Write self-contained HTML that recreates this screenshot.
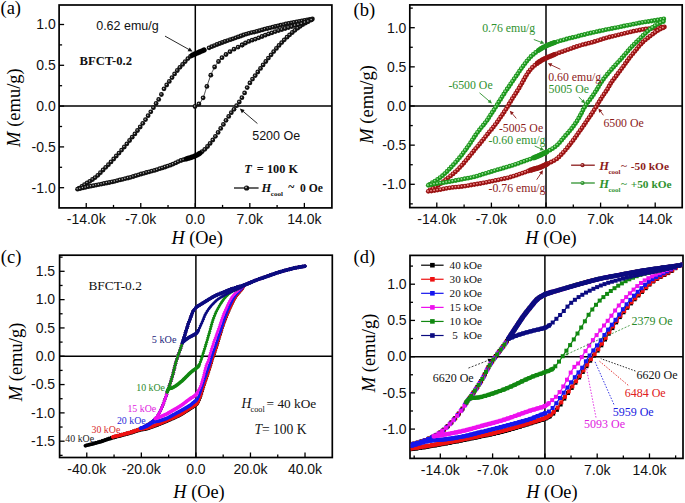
<!DOCTYPE html>
<html><head><meta charset="utf-8"><style>
html,body{margin:0;padding:0;background:#fff;}
svg{display:block;}
</style></head><body>
<svg width="685" height="503" viewBox="0 0 685 503">
<rect width="685" height="503" fill="#fff"/>
<defs><marker id="ring111bbb" markerUnits="userSpaceOnUse" markerWidth="6" markerHeight="6" refX="3.0" refY="3.0" overflow="visible" orient="0"><circle cx="3" cy="3" r="2.4" fill="#111"/><circle cx="2.6" cy="2.6" r="0.75" fill="#bbb"/></marker><marker id="ring9a1212f09090" markerUnits="userSpaceOnUse" markerWidth="6" markerHeight="6" refX="3.0" refY="3.0" overflow="visible" orient="0"><circle cx="3" cy="3" r="2.4" fill="#9a1212"/><circle cx="2.6" cy="2.6" r="0.9" fill="#f09090"/></marker><marker id="ring1c961c9ae09a" markerUnits="userSpaceOnUse" markerWidth="6" markerHeight="6" refX="3.0" refY="3.0" overflow="visible" orient="0"><circle cx="3" cy="3" r="2.4" fill="#1c961c"/><circle cx="2.6" cy="2.6" r="0.9" fill="#9ae09a"/></marker><marker id="dm000000" markerUnits="userSpaceOnUse" markerWidth="6" markerHeight="6" refX="3.0" refY="3.0" overflow="visible" orient="0"><path d="M3 1.15l1.85 1.85l-1.85 1.85l-1.85-1.85z" fill="#000000"/></marker><marker id="dmee1111" markerUnits="userSpaceOnUse" markerWidth="6" markerHeight="6" refX="3.0" refY="3.0" overflow="visible" orient="0"><path d="M3 1.15l1.85 1.85l-1.85 1.85l-1.85-1.85z" fill="#ee1111"/></marker><marker id="dm1515ee" markerUnits="userSpaceOnUse" markerWidth="6" markerHeight="6" refX="3.0" refY="3.0" overflow="visible" orient="0"><path d="M3 1.15l1.85 1.85l-1.85 1.85l-1.85-1.85z" fill="#1515ee"/></marker><marker id="dmee11ee" markerUnits="userSpaceOnUse" markerWidth="6" markerHeight="6" refX="3.0" refY="3.0" overflow="visible" orient="0"><path d="M3 1.15l1.85 1.85l-1.85 1.85l-1.85-1.85z" fill="#ee11ee"/></marker><marker id="dm118811" markerUnits="userSpaceOnUse" markerWidth="6" markerHeight="6" refX="3.0" refY="3.0" overflow="visible" orient="0"><path d="M3 1.15l1.85 1.85l-1.85 1.85l-1.85-1.85z" fill="#118811"/></marker><marker id="dm0b0b80" markerUnits="userSpaceOnUse" markerWidth="6" markerHeight="6" refX="3.0" refY="3.0" overflow="visible" orient="0"><path d="M3 1.15l1.85 1.85l-1.85 1.85l-1.85-1.85z" fill="#0b0b80"/></marker><marker id="sq000000" markerUnits="userSpaceOnUse" markerWidth="6" markerHeight="6" refX="3.0" refY="3.0" overflow="visible" orient="0"><rect x="1.0" y="1.0" width="4.0" height="4.0" fill="#000000"/></marker><marker id="sqee1111" markerUnits="userSpaceOnUse" markerWidth="6" markerHeight="6" refX="3.0" refY="3.0" overflow="visible" orient="0"><rect x="1.0" y="1.0" width="4.0" height="4.0" fill="#ee1111"/></marker><marker id="sq1515ee" markerUnits="userSpaceOnUse" markerWidth="6" markerHeight="6" refX="3.0" refY="3.0" overflow="visible" orient="0"><rect x="1.0" y="1.0" width="4.0" height="4.0" fill="#1515ee"/></marker><marker id="sqee11ee" markerUnits="userSpaceOnUse" markerWidth="6" markerHeight="6" refX="3.0" refY="3.0" overflow="visible" orient="0"><rect x="1.0" y="1.0" width="4.0" height="4.0" fill="#ee11ee"/></marker><marker id="sq118811" markerUnits="userSpaceOnUse" markerWidth="6" markerHeight="6" refX="3.0" refY="3.0" overflow="visible" orient="0"><rect x="1.0" y="1.0" width="4.0" height="4.0" fill="#118811"/></marker><marker id="sq0b0b80" markerUnits="userSpaceOnUse" markerWidth="6" markerHeight="6" refX="3.0" refY="3.0" overflow="visible" orient="0"><rect x="1.0" y="1.0" width="4.0" height="4.0" fill="#0b0b80"/></marker></defs>
<line x1="195.3" y1="5.0" x2="195.3" y2="207.9" stroke="#000" stroke-width="1.5" />
<line x1="59.1" y1="106.1" x2="331.9" y2="106.1" stroke="#000" stroke-width="1.5" />
<line x1="86.24000000000001" y1="207.9" x2="86.24000000000001" y2="202.9" stroke="#000" stroke-width="1.3" />
<line x1="140.77" y1="207.9" x2="140.77" y2="202.9" stroke="#000" stroke-width="1.3" />
<line x1="195.3" y1="207.9" x2="195.3" y2="202.9" stroke="#000" stroke-width="1.3" />
<line x1="249.83" y1="207.9" x2="249.83" y2="202.9" stroke="#000" stroke-width="1.3" />
<line x1="304.36" y1="207.9" x2="304.36" y2="202.9" stroke="#000" stroke-width="1.3" />
<line x1="113.50500000000001" y1="207.9" x2="113.50500000000001" y2="204.9" stroke="#000" stroke-width="1.3" />
<line x1="168.03500000000003" y1="207.9" x2="168.03500000000003" y2="204.9" stroke="#000" stroke-width="1.3" />
<line x1="222.565" y1="207.9" x2="222.565" y2="204.9" stroke="#000" stroke-width="1.3" />
<line x1="277.095" y1="207.9" x2="277.095" y2="204.9" stroke="#000" stroke-width="1.3" />
<line x1="59.1" y1="187.7" x2="64.1" y2="187.7" stroke="#000" stroke-width="1.3" />
<line x1="59.1" y1="146.89999999999998" x2="64.1" y2="146.89999999999998" stroke="#000" stroke-width="1.3" />
<line x1="59.1" y1="106.1" x2="64.1" y2="106.1" stroke="#000" stroke-width="1.3" />
<line x1="59.1" y1="65.3" x2="64.1" y2="65.3" stroke="#000" stroke-width="1.3" />
<line x1="59.1" y1="24.5" x2="64.1" y2="24.5" stroke="#000" stroke-width="1.3" />
<line x1="59.1" y1="167.29999999999998" x2="62.1" y2="167.29999999999998" stroke="#000" stroke-width="1.3" />
<line x1="59.1" y1="126.5" x2="62.1" y2="126.5" stroke="#000" stroke-width="1.3" />
<line x1="59.1" y1="85.69999999999999" x2="62.1" y2="85.69999999999999" stroke="#000" stroke-width="1.3" />
<line x1="59.1" y1="44.9" x2="62.1" y2="44.9" stroke="#000" stroke-width="1.3" />
<rect x="59.1" y="5.0" width="272.79999999999995" height="202.9" fill="none" stroke="#000" stroke-width="1.7"/>
<text x="86.2" y="223.9" font-family='"Liberation Sans", sans-serif' font-size="14" text-anchor="middle" font-weight="normal" font-style="normal" fill="#111" >-14.0k</text>
<text x="140.8" y="223.9" font-family='"Liberation Sans", sans-serif' font-size="14" text-anchor="middle" font-weight="normal" font-style="normal" fill="#111" >-7.0k</text>
<text x="195.3" y="223.9" font-family='"Liberation Sans", sans-serif' font-size="14" text-anchor="middle" font-weight="normal" font-style="normal" fill="#111" >0.0</text>
<text x="249.8" y="223.9" font-family='"Liberation Sans", sans-serif' font-size="14" text-anchor="middle" font-weight="normal" font-style="normal" fill="#111" >7.0k</text>
<text x="304.4" y="223.9" font-family='"Liberation Sans", sans-serif' font-size="14" text-anchor="middle" font-weight="normal" font-style="normal" fill="#111" >14.0k</text>
<text x="55.7" y="29.3" font-family='"Liberation Sans", sans-serif' font-size="14" text-anchor="end" font-weight="normal" font-style="normal" fill="#111" >1.0</text>
<text x="55.7" y="70.1" font-family='"Liberation Sans", sans-serif' font-size="14" text-anchor="end" font-weight="normal" font-style="normal" fill="#111" >0.5</text>
<text x="55.7" y="110.9" font-family='"Liberation Sans", sans-serif' font-size="14" text-anchor="end" font-weight="normal" font-style="normal" fill="#111" >0.0</text>
<text x="55.7" y="151.7" font-family='"Liberation Sans", sans-serif' font-size="14" text-anchor="end" font-weight="normal" font-style="normal" fill="#111" >-0.5</text>
<text x="55.7" y="192.5" font-family='"Liberation Sans", sans-serif' font-size="14" text-anchor="end" font-weight="normal" font-style="normal" fill="#111" >-1.0</text>
<line x1="546.0" y1="4.9" x2="546.0" y2="207.6" stroke="#000" stroke-width="1.5" />
<line x1="409.8" y1="106.0" x2="682.2" y2="106.0" stroke="#000" stroke-width="1.5" />
<line x1="436.8" y1="207.6" x2="436.8" y2="202.6" stroke="#000" stroke-width="1.3" />
<line x1="491.4" y1="207.6" x2="491.4" y2="202.6" stroke="#000" stroke-width="1.3" />
<line x1="546.0" y1="207.6" x2="546.0" y2="202.6" stroke="#000" stroke-width="1.3" />
<line x1="600.6" y1="207.6" x2="600.6" y2="202.6" stroke="#000" stroke-width="1.3" />
<line x1="655.2" y1="207.6" x2="655.2" y2="202.6" stroke="#000" stroke-width="1.3" />
<line x1="464.1" y1="207.6" x2="464.1" y2="204.6" stroke="#000" stroke-width="1.3" />
<line x1="518.7" y1="207.6" x2="518.7" y2="204.6" stroke="#000" stroke-width="1.3" />
<line x1="573.3" y1="207.6" x2="573.3" y2="204.6" stroke="#000" stroke-width="1.3" />
<line x1="627.9" y1="207.6" x2="627.9" y2="204.6" stroke="#000" stroke-width="1.3" />
<line x1="409.8" y1="184.3" x2="414.8" y2="184.3" stroke="#000" stroke-width="1.3" />
<line x1="409.8" y1="145.15" x2="414.8" y2="145.15" stroke="#000" stroke-width="1.3" />
<line x1="409.8" y1="106.0" x2="414.8" y2="106.0" stroke="#000" stroke-width="1.3" />
<line x1="409.8" y1="66.85" x2="414.8" y2="66.85" stroke="#000" stroke-width="1.3" />
<line x1="409.8" y1="27.700000000000003" x2="414.8" y2="27.700000000000003" stroke="#000" stroke-width="1.3" />
<line x1="409.8" y1="203.875" x2="412.8" y2="203.875" stroke="#000" stroke-width="1.3" />
<line x1="409.8" y1="164.725" x2="412.8" y2="164.725" stroke="#000" stroke-width="1.3" />
<line x1="409.8" y1="125.575" x2="412.8" y2="125.575" stroke="#000" stroke-width="1.3" />
<line x1="409.8" y1="86.425" x2="412.8" y2="86.425" stroke="#000" stroke-width="1.3" />
<line x1="409.8" y1="47.275000000000006" x2="412.8" y2="47.275000000000006" stroke="#000" stroke-width="1.3" />
<line x1="409.8" y1="8.125" x2="412.8" y2="8.125" stroke="#000" stroke-width="1.3" />
<rect x="409.8" y="4.9" width="272.40000000000003" height="202.7" fill="none" stroke="#000" stroke-width="1.7"/>
<text x="436.8" y="223.6" font-family='"Liberation Sans", sans-serif' font-size="14" text-anchor="middle" font-weight="normal" font-style="normal" fill="#111" >-14.0k</text>
<text x="491.4" y="223.6" font-family='"Liberation Sans", sans-serif' font-size="14" text-anchor="middle" font-weight="normal" font-style="normal" fill="#111" >-7.0k</text>
<text x="546.0" y="223.6" font-family='"Liberation Sans", sans-serif' font-size="14" text-anchor="middle" font-weight="normal" font-style="normal" fill="#111" >0.0</text>
<text x="600.6" y="223.6" font-family='"Liberation Sans", sans-serif' font-size="14" text-anchor="middle" font-weight="normal" font-style="normal" fill="#111" >7.0k</text>
<text x="655.2" y="223.6" font-family='"Liberation Sans", sans-serif' font-size="14" text-anchor="middle" font-weight="normal" font-style="normal" fill="#111" >14.0k</text>
<text x="406.40000000000003" y="32.5" font-family='"Liberation Sans", sans-serif' font-size="14" text-anchor="end" font-weight="normal" font-style="normal" fill="#111" >1.0</text>
<text x="406.40000000000003" y="71.6" font-family='"Liberation Sans", sans-serif' font-size="14" text-anchor="end" font-weight="normal" font-style="normal" fill="#111" >0.5</text>
<text x="406.40000000000003" y="110.8" font-family='"Liberation Sans", sans-serif' font-size="14" text-anchor="end" font-weight="normal" font-style="normal" fill="#111" >0.0</text>
<text x="406.40000000000003" y="150.0" font-family='"Liberation Sans", sans-serif' font-size="14" text-anchor="end" font-weight="normal" font-style="normal" fill="#111" >-0.5</text>
<text x="406.40000000000003" y="189.1" font-family='"Liberation Sans", sans-serif' font-size="14" text-anchor="end" font-weight="normal" font-style="normal" fill="#111" >-1.0</text>
<line x1="195.9" y1="255.2" x2="195.9" y2="457.5" stroke="#000" stroke-width="1.5" />
<line x1="59.6" y1="356.25" x2="332.3" y2="356.25" stroke="#000" stroke-width="1.5" />
<line x1="86.78" y1="457.5" x2="86.78" y2="452.5" stroke="#000" stroke-width="1.3" />
<line x1="141.34" y1="457.5" x2="141.34" y2="452.5" stroke="#000" stroke-width="1.3" />
<line x1="195.9" y1="457.5" x2="195.9" y2="452.5" stroke="#000" stroke-width="1.3" />
<line x1="250.46" y1="457.5" x2="250.46" y2="452.5" stroke="#000" stroke-width="1.3" />
<line x1="305.02" y1="457.5" x2="305.02" y2="452.5" stroke="#000" stroke-width="1.3" />
<line x1="114.06" y1="457.5" x2="114.06" y2="454.5" stroke="#000" stroke-width="1.3" />
<line x1="168.62" y1="457.5" x2="168.62" y2="454.5" stroke="#000" stroke-width="1.3" />
<line x1="223.18" y1="457.5" x2="223.18" y2="454.5" stroke="#000" stroke-width="1.3" />
<line x1="277.74" y1="457.5" x2="277.74" y2="454.5" stroke="#000" stroke-width="1.3" />
<line x1="59.6" y1="441.195" x2="64.6" y2="441.195" stroke="#000" stroke-width="1.3" />
<line x1="59.6" y1="412.88" x2="64.6" y2="412.88" stroke="#000" stroke-width="1.3" />
<line x1="59.6" y1="384.565" x2="64.6" y2="384.565" stroke="#000" stroke-width="1.3" />
<line x1="59.6" y1="356.25" x2="64.6" y2="356.25" stroke="#000" stroke-width="1.3" />
<line x1="59.6" y1="327.935" x2="64.6" y2="327.935" stroke="#000" stroke-width="1.3" />
<line x1="59.6" y1="299.62" x2="64.6" y2="299.62" stroke="#000" stroke-width="1.3" />
<line x1="59.6" y1="271.305" x2="64.6" y2="271.305" stroke="#000" stroke-width="1.3" />
<line x1="59.6" y1="455.3525" x2="62.6" y2="455.3525" stroke="#000" stroke-width="1.3" />
<line x1="59.6" y1="427.0375" x2="62.6" y2="427.0375" stroke="#000" stroke-width="1.3" />
<line x1="59.6" y1="398.7225" x2="62.6" y2="398.7225" stroke="#000" stroke-width="1.3" />
<line x1="59.6" y1="370.4075" x2="62.6" y2="370.4075" stroke="#000" stroke-width="1.3" />
<line x1="59.6" y1="342.0925" x2="62.6" y2="342.0925" stroke="#000" stroke-width="1.3" />
<line x1="59.6" y1="313.7775" x2="62.6" y2="313.7775" stroke="#000" stroke-width="1.3" />
<line x1="59.6" y1="285.4625" x2="62.6" y2="285.4625" stroke="#000" stroke-width="1.3" />
<line x1="59.6" y1="257.1475" x2="62.6" y2="257.1475" stroke="#000" stroke-width="1.3" />
<rect x="59.6" y="255.2" width="272.7" height="202.3" fill="none" stroke="#000" stroke-width="1.7"/>
<text x="86.8" y="473.5" font-family='"Liberation Sans", sans-serif' font-size="14" text-anchor="middle" font-weight="normal" font-style="normal" fill="#111" >-40.0k</text>
<text x="141.3" y="473.5" font-family='"Liberation Sans", sans-serif' font-size="14" text-anchor="middle" font-weight="normal" font-style="normal" fill="#111" >-20.0k</text>
<text x="195.9" y="473.5" font-family='"Liberation Sans", sans-serif' font-size="14" text-anchor="middle" font-weight="normal" font-style="normal" fill="#111" >0.0</text>
<text x="250.5" y="473.5" font-family='"Liberation Sans", sans-serif' font-size="14" text-anchor="middle" font-weight="normal" font-style="normal" fill="#111" >20.0k</text>
<text x="305.0" y="473.5" font-family='"Liberation Sans", sans-serif' font-size="14" text-anchor="middle" font-weight="normal" font-style="normal" fill="#111" >40.0k</text>
<text x="55.1" y="276.1" font-family='"Liberation Sans", sans-serif' font-size="14" text-anchor="end" font-weight="normal" font-style="normal" fill="#111" >1.5</text>
<text x="55.1" y="304.4" font-family='"Liberation Sans", sans-serif' font-size="14" text-anchor="end" font-weight="normal" font-style="normal" fill="#111" >1.0</text>
<text x="55.1" y="332.7" font-family='"Liberation Sans", sans-serif' font-size="14" text-anchor="end" font-weight="normal" font-style="normal" fill="#111" >0.5</text>
<text x="55.1" y="361.1" font-family='"Liberation Sans", sans-serif' font-size="14" text-anchor="end" font-weight="normal" font-style="normal" fill="#111" >0.0</text>
<text x="55.1" y="389.4" font-family='"Liberation Sans", sans-serif' font-size="14" text-anchor="end" font-weight="normal" font-style="normal" fill="#111" >-0.5</text>
<text x="55.1" y="417.7" font-family='"Liberation Sans", sans-serif' font-size="14" text-anchor="end" font-weight="normal" font-style="normal" fill="#111" >-1.0</text>
<text x="55.1" y="446.0" font-family='"Liberation Sans", sans-serif' font-size="14" text-anchor="end" font-weight="normal" font-style="normal" fill="#111" >-1.5</text>
<line x1="544.9" y1="255.4" x2="544.9" y2="458.4" stroke="#000" stroke-width="1.5" />
<line x1="410.0" y1="356.65" x2="683.0" y2="356.65" stroke="#000" stroke-width="1.5" />
<line x1="440.32" y1="458.4" x2="440.32" y2="453.4" stroke="#000" stroke-width="1.3" />
<line x1="492.60999999999996" y1="458.4" x2="492.60999999999996" y2="453.4" stroke="#000" stroke-width="1.3" />
<line x1="544.9" y1="458.4" x2="544.9" y2="453.4" stroke="#000" stroke-width="1.3" />
<line x1="597.1899999999999" y1="458.4" x2="597.1899999999999" y2="453.4" stroke="#000" stroke-width="1.3" />
<line x1="649.48" y1="458.4" x2="649.48" y2="453.4" stroke="#000" stroke-width="1.3" />
<line x1="414.17499999999995" y1="458.4" x2="414.17499999999995" y2="455.4" stroke="#000" stroke-width="1.3" />
<line x1="466.465" y1="458.4" x2="466.465" y2="455.4" stroke="#000" stroke-width="1.3" />
<line x1="518.755" y1="458.4" x2="518.755" y2="455.4" stroke="#000" stroke-width="1.3" />
<line x1="571.045" y1="458.4" x2="571.045" y2="455.4" stroke="#000" stroke-width="1.3" />
<line x1="623.335" y1="458.4" x2="623.335" y2="455.4" stroke="#000" stroke-width="1.3" />
<line x1="675.625" y1="458.4" x2="675.625" y2="455.4" stroke="#000" stroke-width="1.3" />
<line x1="410.0" y1="429.09999999999997" x2="415.0" y2="429.09999999999997" stroke="#000" stroke-width="1.3" />
<line x1="410.0" y1="392.875" x2="415.0" y2="392.875" stroke="#000" stroke-width="1.3" />
<line x1="410.0" y1="356.65" x2="415.0" y2="356.65" stroke="#000" stroke-width="1.3" />
<line x1="410.0" y1="320.42499999999995" x2="415.0" y2="320.42499999999995" stroke="#000" stroke-width="1.3" />
<line x1="410.0" y1="284.2" x2="415.0" y2="284.2" stroke="#000" stroke-width="1.3" />
<line x1="410.0" y1="447.2125" x2="413.0" y2="447.2125" stroke="#000" stroke-width="1.3" />
<line x1="410.0" y1="410.98749999999995" x2="413.0" y2="410.98749999999995" stroke="#000" stroke-width="1.3" />
<line x1="410.0" y1="374.7625" x2="413.0" y2="374.7625" stroke="#000" stroke-width="1.3" />
<line x1="410.0" y1="338.53749999999997" x2="413.0" y2="338.53749999999997" stroke="#000" stroke-width="1.3" />
<line x1="410.0" y1="302.3125" x2="413.0" y2="302.3125" stroke="#000" stroke-width="1.3" />
<line x1="410.0" y1="266.0875" x2="413.0" y2="266.0875" stroke="#000" stroke-width="1.3" />
<rect x="410.0" y="255.4" width="273.0" height="202.99999999999997" fill="none" stroke="#000" stroke-width="1.7"/>
<text x="440.3" y="474.9" font-family='"Liberation Sans", sans-serif' font-size="14" text-anchor="middle" font-weight="normal" font-style="normal" fill="#111" >-14.0k</text>
<text x="492.6" y="474.9" font-family='"Liberation Sans", sans-serif' font-size="14" text-anchor="middle" font-weight="normal" font-style="normal" fill="#111" >-7.0k</text>
<text x="544.9" y="474.9" font-family='"Liberation Sans", sans-serif' font-size="14" text-anchor="middle" font-weight="normal" font-style="normal" fill="#111" >0.0</text>
<text x="597.2" y="474.9" font-family='"Liberation Sans", sans-serif' font-size="14" text-anchor="middle" font-weight="normal" font-style="normal" fill="#111" >7.0k</text>
<text x="649.5" y="474.9" font-family='"Liberation Sans", sans-serif' font-size="14" text-anchor="middle" font-weight="normal" font-style="normal" fill="#111" >14.0k</text>
<text x="406.6" y="289.0" font-family='"Liberation Sans", sans-serif' font-size="14" text-anchor="end" font-weight="normal" font-style="normal" fill="#111" >1.0</text>
<text x="406.6" y="325.2" font-family='"Liberation Sans", sans-serif' font-size="14" text-anchor="end" font-weight="normal" font-style="normal" fill="#111" >0.5</text>
<text x="406.6" y="361.4" font-family='"Liberation Sans", sans-serif' font-size="14" text-anchor="end" font-weight="normal" font-style="normal" fill="#111" >0.0</text>
<text x="406.6" y="397.7" font-family='"Liberation Sans", sans-serif' font-size="14" text-anchor="end" font-weight="normal" font-style="normal" fill="#111" >-0.5</text>
<text x="406.6" y="433.9" font-family='"Liberation Sans", sans-serif' font-size="14" text-anchor="end" font-weight="normal" font-style="normal" fill="#111" >-1.0</text>
<text x="0.5" y="14" font-family='"Liberation Serif", serif' font-size="18.5" text-anchor="start" font-weight="normal" font-style="normal" fill="#000" >(a)</text>
<text x="353.5" y="16.3" font-family='"Liberation Serif", serif' font-size="18.5" text-anchor="start" font-weight="normal" font-style="normal" fill="#000" >(b)</text>
<text x="0.8" y="262.5" font-family='"Liberation Serif", serif' font-size="18.5" text-anchor="start" font-weight="normal" font-style="normal" fill="#000" >(c)</text>
<text x="353.5" y="262.5" font-family='"Liberation Serif", serif' font-size="18.5" text-anchor="start" font-weight="normal" font-style="normal" fill="#000" >(d)</text>
<text x="197.1" y="244.3" font-family='"Liberation Serif", serif' font-size="18.3" text-anchor="middle"><tspan font-style="italic">H</tspan> (Oe)</text>
<text transform="translate(20,107.6) rotate(-90)" font-family='"Liberation Serif", serif' font-size="18.5" text-anchor="middle"><tspan font-style="italic">M</tspan> (emu/g)</text>
<text x="551.0" y="244.3" font-family='"Liberation Serif", serif' font-size="18.3" text-anchor="middle"><tspan font-style="italic">H</tspan> (Oe)</text>
<text transform="translate(373,104.4) rotate(-90)" font-family='"Liberation Serif", serif' font-size="18.5" text-anchor="middle"><tspan font-style="italic">M</tspan> (emu/g)</text>
<text x="199.0" y="497.5" font-family='"Liberation Serif", serif' font-size="18.3" text-anchor="middle"><tspan font-style="italic">H</tspan> (Oe)</text>
<text transform="translate(22,362.0) rotate(-90)" font-family='"Liberation Serif", serif' font-size="18.5" text-anchor="middle"><tspan font-style="italic">M</tspan> (emu/g)</text>
<text x="551.9" y="497.5" font-family='"Liberation Serif", serif' font-size="18.3" text-anchor="middle"><tspan font-style="italic">H</tspan> (Oe)</text>
<text transform="translate(374.5,353.0) rotate(-90)" font-family='"Liberation Serif", serif' font-size="18.5" text-anchor="middle"><tspan font-style="italic">M</tspan> (emu/g)</text>
<path d="M312.4,19.0 309.8,19.5 307.1,20.0 304.5,20.4 301.8,21.0 299.2,21.5 296.5,22.0 293.9,22.5 291.2,23.0 288.6,23.5 285.9,24.0 283.3,24.6 280.6,25.1 278.0,25.8 275.3,26.5 272.7,27.2 270.0,27.8 267.4,28.5 264.7,29.1 262.1,29.9 259.4,30.7 256.8,31.4 254.1,32.1 251.5,32.6 248.8,33.3 246.2,34.1 243.5,35.0 240.9,36.0 238.2,36.9 235.6,37.8 232.9,38.8 230.3,39.7 227.6,40.6 225.0,41.5 222.3,42.5 219.7,43.5 217.0,44.5 214.4,45.6 211.7,46.7 209.1,47.8 190.5,56.3 187.9,58.6 185.2,61.6 182.6,64.4 179.9,67.3 177.3,70.5 174.6,73.9 172.0,77.6 169.3,81.4 166.7,85.0 164.0,88.8 161.4,94.5 158.7,99.4 156.1,103.5 153.4,107.7 150.8,111.8 148.1,115.7 145.5,119.6 142.8,123.3 140.2,127.0 137.5,130.5 134.9,133.9 132.2,137.2 129.6,140.5 126.9,143.8 124.3,147.0 121.6,150.1 119.0,153.1 116.3,156.0 113.7,159.0 111.0,161.9 108.4,164.7 105.7,167.3 103.1,170.0 100.4,172.7 97.8,175.3 95.1,177.6 92.5,179.5 89.8,181.3 87.2,183.0 84.5,184.7 81.9,186.4 79.2,188.1" fill="none" stroke="none" stroke-width="0" marker-start="url(#ring111bbb)" marker-mid="url(#ring111bbb)" marker-end="url(#ring111bbb)"/>
<path d="M204.1,50.0 203.2,50.4 202.3,50.8 201.4,51.2 200.4,51.6 199.5,52.0 198.6,52.4 197.7,52.8 196.8,53.2 195.8,53.6 194.9,54.0 194.0,54.4 193.1,54.8 192.2,55.3" fill="none" stroke="#000" stroke-width="5.2" stroke-linejoin="round" stroke-linecap="round"/>
<path d="M77.6,189.2 80.2,188.6 82.9,187.9 85.6,187.3 88.2,186.7 90.9,186.2 93.5,185.7 96.2,185.1 98.8,184.6 101.5,184.1 104.1,183.5 106.8,183.0 109.4,182.5 112.1,181.9 114.7,181.3 117.4,180.6 120.0,179.9 122.7,179.3 125.3,178.6 128.0,178.0 130.6,177.3 133.3,176.5 135.9,175.7 138.6,174.8 141.2,174.0 143.9,173.3 146.5,172.5 149.2,171.8 151.8,171.1 154.5,170.4 157.1,169.6 159.8,168.7 162.4,167.9 165.1,167.0 167.7,166.1 170.4,165.2 173.0,164.1 175.7,162.9 178.3,161.6 181.0,160.5 183.6,159.7 202.2,151.6 204.8,149.3 207.5,146.5 210.1,143.4 212.8,140.0 215.4,136.3 218.1,132.4 220.7,128.4 223.4,124.4 226.0,120.3 228.7,116.4 231.3,112.7 234.0,109.3 236.6,105.7 239.3,102.0 241.9,97.7 244.6,92.9 247.2,87.6 249.9,82.9 252.5,79.1 255.2,75.6 257.8,72.0 260.5,68.4 263.1,64.9 265.8,61.5 268.4,58.1 271.1,54.8 273.7,51.6 276.4,48.4 279.0,45.4 281.7,42.6 284.3,39.8 287.0,37.2 289.6,34.8 292.3,32.5 294.9,30.3 297.6,28.2 300.2,26.3 302.8,24.5 305.5,23.0 308.1,21.5 310.8,20.1" fill="none" stroke="none" stroke-width="0" marker-start="url(#ring111bbb)" marker-mid="url(#ring111bbb)" marker-end="url(#ring111bbb)"/>
<path d="M186.2,158.9 187.2,158.6 188.1,158.3 189.1,158.1 190.0,157.8 191.0,157.5 191.9,157.1 192.9,156.8 193.8,156.5 194.7,156.1 195.6,155.7 196.5,155.2 197.4,154.8 198.3,154.3 199.1,153.8 200.0,153.2" fill="none" stroke="#000" stroke-width="5.2" stroke-linejoin="round" stroke-linecap="round"/>
<path d="M195.0,106.5 195.9,106.0 196.8,105.5 197.6,105.0 198.3,104.4 199.1,103.7 199.8,103.0 200.4,102.2 201.0,101.4 201.5,100.6 202.1,99.7 202.5,98.8 203.0,97.9 203.4,97.0 203.8,96.1 204.1,95.2 204.4,94.2 204.7,93.3 205.0,92.3 205.3,91.4 205.6,90.4 205.9,89.5 206.2,88.5 206.5,87.5 206.8,86.6 207.2,85.6 207.5,84.7 207.8,83.8 208.1,82.8 208.4,81.9 208.7,80.9 209.1,80.0 209.4,79.0 209.7,78.1 210.1,77.1 210.4,76.2 210.8,75.3 211.2,74.3 211.5,73.4 211.9,72.5 212.3,71.6 212.8,70.7 213.2,69.8 213.6,68.9 214.1,68.0 214.6,67.1 215.1,66.3 215.6,65.4 216.2,64.6 216.8,63.8 217.4,63.0 218.0,62.2 218.6,61.4 219.2,60.6 219.9,59.9 220.6,59.2 221.3,58.4 222.0,57.8 222.7,57.1 223.5,56.4 224.3,55.8 225.1,55.2 225.9,54.6 226.7,54.0 227.5,53.4 228.3,52.9 229.1,52.3 230.0,51.7 230.8,51.2 231.6,50.6 232.5,50.1 233.4,49.6 234.2,49.1 235.1,48.6 236.0,48.2 236.9,47.7 237.8,47.3 238.7,46.8 239.6,46.4 240.4,45.9 241.3,45.4 242.2,45.0 243.1,44.5 243.9,44.0 244.8,43.5 245.7,42.9 246.5,42.5 247.4,42.0 248.3,41.6 249.3,41.2 250.2,40.9 251.1,40.5 252.1,40.2 253.0,39.9 254.0,39.6 254.9,39.2 255.9,38.9 256.8,38.5 257.7,38.2 258.7,37.8 259.6,37.4 260.5,37.1 261.4,36.7 262.4,36.3 263.3,35.9 264.2,35.6 265.2,35.2 266.1,34.9 267.0,34.5 268.0,34.2 268.9,33.8 269.9,33.5 270.8,33.2 271.7,32.8 272.7,32.5 273.6,32.2 274.6,31.8 275.5,31.5 276.5,31.2 277.4,30.9 278.4,30.6 279.3,30.3 280.3,30.0 281.2,29.7 282.2,29.4 283.1,29.1 284.1,28.8 285.0,28.5 286.0,28.2 287.0,27.9 287.9,27.6 288.9,27.3 289.8,27.1 290.8,26.8 291.8,26.5 292.7,26.2 293.7,25.9 294.6,25.6 295.6,25.3 296.5,25.1 297.5,24.8 298.5,24.5 299.4,24.2 300.4,24.0 301.4,23.7 302.3,23.4 303.3,23.1 304.2,22.8 305.2,22.5 306.1,22.1 307.0,21.8 308.0,21.4 308.9,21.0 309.8,20.6 310.7,20.2 311.6,19.8 312.4,19.3" fill="none" stroke="#111" stroke-width="0.8"/>
<path d="M195.0,106.5 198.9,104.0 203.1,97.8 206.9,86.4 210.8,75.2 214.6,67.0 218.5,61.5 222.0,57.7 226.0,54.5 230.0,51.7 234.0,49.2 238.1,47.1 242.2,45.0 242.2,45.0 245.5,43.0 248.8,41.4 252.1,40.2 255.4,39.1 258.7,37.8 262.0,36.5 265.3,35.2 268.6,33.9 271.9,32.8 275.2,31.6 278.5,30.5 281.8,29.5 285.1,28.5 288.4,27.5 291.7,26.5 295.0,25.5 298.3,24.6 301.6,23.6 304.9,22.5 308.2,21.3 311.5,19.8" fill="none" stroke="none" stroke-width="0" marker-start="url(#ring111bbb)" marker-mid="url(#ring111bbb)" marker-end="url(#ring111bbb)"/>
<path d="M664.4,26.9 661.3,27.2 658.2,27.6 655.2,27.9 652.1,28.3 649.0,28.6 645.9,29.0 642.9,29.4 639.8,30.0 636.8,30.6 633.7,31.2 630.7,31.9 627.7,32.6 624.7,33.3 621.7,34.1 618.6,34.8 615.6,35.6 612.6,36.3 609.6,37.0 606.6,37.8 603.7,38.7 600.7,39.7 597.8,40.6 594.8,41.5 591.8,42.4 588.8,43.2 585.8,44.0 582.8,44.7 579.8,45.6 576.9,46.5 573.9,47.5 571.0,48.6 568.1,49.6 565.2,50.6 562.3,51.7 559.3,52.7 556.4,53.8 553.5,54.9 550.7,56.1 547.8,57.3 545.0,58.6 542.2,60.0 539.6,61.6 537.1,63.4 534.7,65.4 532.4,67.5 530.3,69.8 528.4,72.2 526.7,74.8 525.1,77.5 523.6,80.2 522.1,82.9 520.5,85.6 519.0,88.2 517.3,90.9 515.7,93.5 514.0,96.1 512.3,98.7 510.7,101.4 509.1,104.0 507.5,106.7 505.9,109.3 504.2,111.9 502.5,114.5 500.7,117.0 498.9,119.6 497.2,122.1 495.3,124.6 493.4,127.1 491.5,129.4 489.4,131.8 487.5,134.2 485.6,136.6 483.7,139.1 481.7,141.5 479.7,143.9 477.7,146.3 475.7,148.6 473.8,151.0 471.8,153.4 469.8,155.8 467.9,158.2 465.9,160.6 463.9,163.0 461.8,165.3 459.7,167.6 457.6,169.8 455.3,171.9 453.0,173.9 450.6,175.9 448.1,177.8 445.7,179.7 443.3,181.7 440.9,183.6 438.3,185.3 435.6,186.9 432.9,188.4 430.1,189.8" fill="none" stroke="none" stroke-width="0" marker-start="url(#ring9a1212f09090)" marker-mid="url(#ring9a1212f09090)" marker-end="url(#ring9a1212f09090)"/>
<path d="M428.3,191.3 431.4,191.0 434.5,190.6 437.5,190.1 440.6,189.6 443.6,188.9 446.6,188.3 449.7,187.8 452.8,187.4 455.9,187.1 458.9,186.9 462.0,186.5 465.1,186.1 468.2,185.6 471.2,185.0 474.3,184.5 477.3,184.0 480.4,183.5 483.4,182.9 486.5,182.3 489.5,181.7 492.5,181.1 495.6,180.4 498.6,179.8 501.6,179.1 504.7,178.5 507.7,177.8 510.7,177.0 513.7,176.1 516.6,175.2 519.5,174.1 522.5,173.1 525.4,172.1 528.3,171.0 531.2,170.0 534.2,169.0 537.2,168.2 540.1,167.3 543.0,166.0 545.7,164.7 548.5,163.3 551.3,162.0 554.1,160.6 556.7,158.9 559.0,156.9 561.2,154.7 563.3,152.4 565.4,150.1 567.4,147.7 569.3,145.3 571.2,142.8 573.1,140.4 574.9,137.9 576.7,135.4 578.5,132.8 580.3,130.3 582.1,127.8 583.9,125.2 585.6,122.7 587.4,120.1 589.1,117.6 590.9,115.0 592.6,112.4 594.3,109.8 595.9,107.2 597.5,104.5 599.1,101.8 600.7,99.2 602.4,96.6 604.1,94.1 605.9,91.5 607.6,88.9 609.1,86.2 610.7,83.5 612.4,81.0 614.3,78.5 616.2,76.0 618.0,73.5 619.9,71.1 621.7,68.6 623.6,66.1 625.4,63.5 627.2,61.0 629.0,58.5 630.9,56.1 632.9,53.7 634.9,51.3 636.8,48.9 638.8,46.5 640.9,44.2 643.0,42.0 645.3,39.9 647.8,38.0 650.2,36.1 652.7,34.2 655.2,32.3 657.8,30.6 660.5,29.1 663.2,27.8" fill="none" stroke="none" stroke-width="0" marker-start="url(#ring9a1212f09090)" marker-mid="url(#ring9a1212f09090)" marker-end="url(#ring9a1212f09090)"/>
<path d="M663.8,18.9 660.8,19.5 657.7,20.0 654.6,20.5 651.6,21.0 648.5,21.5 645.4,21.9 642.4,22.4 639.3,23.0 636.3,23.6 633.3,24.2 630.2,24.8 627.2,25.4 624.1,26.0 621.1,26.7 618.1,27.3 615.0,27.9 612.0,28.5 609.0,29.1 605.9,29.7 602.9,30.4 599.8,31.0 596.8,31.7 593.8,32.3 590.8,33.0 587.8,33.7 584.7,34.5 581.7,35.2 578.7,36.0 575.7,36.8 572.7,37.5 569.7,38.2 566.7,39.0 563.7,39.9 560.7,40.7 557.8,41.6 554.8,42.5 551.9,43.5 549.0,44.7 546.2,45.9 543.4,47.3 540.7,48.9 538.2,50.6 535.7,52.5 533.3,54.4 531.0,56.5 528.9,58.8 526.9,61.1 525.0,63.6 523.1,66.1 521.3,68.6 519.5,71.1 517.8,73.7 516.0,76.2 514.2,78.8 512.5,81.3 510.7,83.9 509.0,86.5 507.2,89.0 505.4,91.6 503.8,94.2 502.1,96.8 500.5,99.4 498.8,102.0 497.2,104.7 495.5,107.3 493.9,109.9 492.2,112.5 490.5,115.1 488.8,117.7 487.1,120.3 485.2,122.8 483.3,125.2 481.3,127.6 479.4,130.0 477.5,132.4 475.7,135.0 474.0,137.5 472.3,140.1 470.6,142.7 468.8,145.3 467.0,147.8 465.2,150.3 463.3,152.8 461.5,155.3 459.5,157.7 457.5,160.1 455.5,162.4 453.4,164.7 451.3,167.0 449.2,169.2 447.0,171.5 444.8,173.6 442.5,175.7 440.1,177.6 437.6,179.5 435.0,181.1 432.3,182.7 429.7,184.4" fill="none" stroke="none" stroke-width="0" marker-start="url(#ring1c961c9ae09a)" marker-mid="url(#ring1c961c9ae09a)" marker-end="url(#ring1c961c9ae09a)"/>
<path d="M428.3,185.3 431.3,184.7 434.4,184.1 437.4,183.6 440.5,183.1 443.6,182.7 446.6,182.2 449.7,181.7 452.7,181.1 455.8,180.5 458.8,179.9 461.9,179.3 464.9,178.7 468.0,178.2 471.0,177.6 474.0,176.9 477.0,176.1 480.0,175.2 482.9,174.2 485.9,173.3 488.9,172.4 491.8,171.5 494.8,170.6 497.8,169.7 500.7,168.9 503.7,168.0 506.7,167.1 509.7,166.2 512.6,165.3 515.5,164.3 518.5,163.3 521.4,162.2 524.3,161.2 527.2,160.1 530.2,159.1 533.1,158.0 536.0,156.9 538.8,155.7 541.6,154.4 544.4,153.1 547.2,151.6 549.9,150.2 552.6,148.6 555.1,146.8 557.5,144.8 559.6,142.6 561.6,140.2 563.6,137.8 565.6,135.5 567.7,133.2 569.7,130.8 571.7,128.5 573.6,126.0 575.4,123.5 577.1,120.9 578.7,118.2 580.2,115.5 581.7,112.8 583.0,110.0 584.5,107.3 586.1,104.6 588.0,102.1 589.9,99.7 591.7,97.2 593.5,94.7 595.2,92.1 596.9,89.5 598.5,86.8 600.1,84.1 601.8,81.6 603.6,79.0 605.5,76.6 607.4,74.2 609.4,71.8 611.5,69.5 613.5,67.2 615.6,64.9 617.7,62.6 619.8,60.3 621.9,58.0 623.9,55.7 625.9,53.3 627.9,50.9 630.0,48.6 632.1,46.3 634.3,44.1 636.5,42.0 638.7,39.8 640.9,37.6 643.1,35.4 645.4,33.3 647.6,31.2 650.0,29.2 652.5,27.4 655.1,25.6 657.8,24.1 660.5,22.7 663.4,21.5" fill="none" stroke="none" stroke-width="0" marker-start="url(#ring1c961c9ae09a)" marker-mid="url(#ring1c961c9ae09a)" marker-end="url(#ring1c961c9ae09a)"/>
<path d="M554.4,42.6 553.5,42.9 552.6,43.3 551.6,43.6 550.7,44.0 549.7,44.3 548.8,44.7 547.9,45.1 547.0,45.5 546.1,45.9 545.2,46.4 544.3,46.8 543.4,47.3 542.5,47.8 541.7,48.3 540.8,48.8 540.0,49.4 539.2,49.9" fill="none" stroke="#1c961c" stroke-width="5.0" stroke-linejoin="round" stroke-linecap="round"/>
<path d="M554.2,54.6 553.3,55.0 552.3,55.4 551.4,55.8 550.5,56.1 549.6,56.5 548.6,56.9 547.7,57.3 546.8,57.7 545.9,58.2 545.0,58.6 544.1,59.0 543.2,59.5 542.3,59.9 541.5,60.4 540.6,60.9 539.8,61.5 538.9,62.0 538.1,62.6 537.3,63.2" fill="none" stroke="#9a1212" stroke-width="5.0" stroke-linejoin="round" stroke-linecap="round"/>
<path d="M534.5,157.5 535.4,157.1 536.3,156.8 537.2,156.4 538.2,156.0 539.1,155.6 540.0,155.2 540.9,154.8 541.8,154.3 542.7,153.9 543.6,153.5 544.5,153.0 545.4,152.6 546.3,152.1" fill="none" stroke="#1c961c" stroke-width="5.4" stroke-linejoin="round" stroke-linecap="round"/>
<path d="M530.8,170.1 531.8,169.8 532.7,169.5 533.7,169.2 534.6,168.9 535.6,168.6 536.6,168.4 537.5,168.1 538.5,167.8 539.4,167.5 540.4,167.2 541.3,166.8 542.2,166.4 543.1,166.0 544.0,165.5 544.9,165.1 545.8,164.6 546.7,164.2" fill="none" stroke="#9a1212" stroke-width="5.4" stroke-linejoin="round" stroke-linecap="round"/>
<defs><clipPath id="clipc"><rect x="59.6" y="255.2" width="272.7" height="202.3"/></clipPath><clipPath id="clipd"><rect x="410.8" y="256.2" width="271.4" height="201.4"/></clipPath></defs>
<g clip-path="url(#clipc)">
<path d="M305.0,266.2 303.5,266.4 302.1,266.6 300.6,266.9 299.1,267.1 297.6,267.4 296.1,267.7 294.7,268.0 293.2,268.3 291.8,268.7 290.3,269.1 288.9,269.4 287.4,269.8 286.0,270.2 284.5,270.6 283.1,271.0 281.6,271.4 280.2,271.8 278.7,272.3 277.3,272.7 275.9,273.2 274.5,273.7 273.0,274.2 271.6,274.7 270.2,275.2 268.8,275.7 267.4,276.2 266.0,276.7 264.6,277.2 263.2,277.7 261.7,278.2 260.3,278.6 258.9,279.1 257.5,279.6 256.1,280.2 254.7,280.7 253.3,281.3 251.9,281.9 250.6,282.5 249.2,283.1 247.8,283.7 246.4,284.3 245.0,284.8 243.6,285.3 242.2,285.8 240.7,286.2 239.3,286.6 237.9,287.0 236.4,287.5 235.0,287.9 233.6,288.4 232.1,288.8 230.7,289.3 229.3,289.9 227.9,290.4 226.5,291.0 225.2,291.6 223.8,292.1 222.4,292.7 221.0,293.2 219.6,293.8 218.2,294.4 216.8,295.0 215.5,295.6 214.1,296.3 212.8,297.0 211.5,297.8 210.2,298.5 208.9,299.3 207.7,300.1 206.4,300.9 205.1,301.7 203.8,302.5 202.6,303.3 201.3,304.0 200.0,304.8 198.7,305.6 197.5,306.4 196.3,307.3 195.2,308.4 194.3,309.6 193.4,310.8 192.7,312.1 192.1,313.5 191.6,314.9 191.1,316.3 190.6,317.7 190.0,319.1 189.5,320.5 189.0,321.9 188.5,323.3 188.0,324.8 187.5,326.2 187.1,327.6 186.6,329.0 186.2,330.5 185.7,331.9 185.3,333.3 184.9,334.8 184.4,336.2 184.0,337.6 183.5,339.1 183.1,340.5 182.7,341.9 182.2,343.4 181.8,344.8 181.3,346.2 180.8,347.7 180.4,349.1 179.9,350.5 179.4,351.9 178.9,353.3 178.4,354.7 177.9,356.2 177.4,357.6 176.9,359.0 176.5,360.4 176.0,361.9 175.6,363.3 175.2,364.8 174.9,366.2 174.5,367.7 174.2,369.1 173.8,370.6 173.5,372.1 173.1,373.5 172.7,375.0 172.3,376.4 171.9,377.8 171.4,379.3 171.0,380.7 170.6,382.1 170.1,383.6 169.6,385.0 169.2,386.4 168.7,387.8 168.2,389.3 167.7,390.7 167.2,392.1 166.8,393.5 166.4,395.0 166.0,396.4 165.5,397.8 165.0,399.3 164.5,400.7 164.0,402.1 163.4,403.5 162.9,404.9 162.3,406.3 161.7,407.6 161.1,409.0 160.5,410.4 159.9,411.7 159.2,413.1 158.4,414.4 157.6,415.6 156.8,416.8 155.8,418.0 154.8,419.1 153.7,420.2 152.6,421.1 151.4,422.1 150.2,423.0 148.9,423.8 147.6,424.5 146.3,425.2 145.0,426.0 143.7,426.7 142.4,427.4 141.0,428.0 139.6,428.6 138.2,429.1 136.8,429.7 135.4,430.2 134.0,430.6 132.6,431.1 131.1,431.6 129.7,432.1 128.3,432.5 126.9,433.0 125.4,433.4 124.0,433.8 122.5,434.2 121.1,434.6 119.6,434.9 118.2,435.3 116.7,435.7 115.3,436.1 113.8,436.5 112.4,437.0 111.0,437.4 109.6,437.9 108.2,438.4 106.7,439.0 105.3,439.5 103.9,440.0 102.5,440.5 101.1,441.0 99.7,441.4 98.2,441.9 96.8,442.3 95.4,442.8 93.9,443.2 92.5,443.6 91.1,444.1 89.6,444.5 88.2,444.9 86.7,445.3" fill="none" stroke="#000000" stroke-width="2.0" stroke-linejoin="round"/>
<path d="M305.0,266.2 302.7,266.5 300.5,266.9 298.2,267.3 295.9,267.7 293.7,268.2 291.5,268.8 289.2,269.3 287.0,269.9 284.8,270.5 282.6,271.1 280.4,271.8 278.2,272.5 276.0,273.2 273.8,273.9 271.6,274.7 269.5,275.4 267.3,276.2 265.1,277.0 263.0,277.7 260.8,278.5 258.6,279.2 256.5,280.0 254.3,280.9 252.2,281.8 250.1,282.7 248.0,283.7 245.9,284.5 243.7,285.3 241.5,286.0 239.3,286.6 237.1,287.2 234.9,287.9 232.7,288.6 230.5,289.4 228.4,290.2 226.3,291.1 224.1,292.0 222.0,292.8 219.9,293.7 217.7,294.6 215.6,295.5 213.6,296.6 211.6,297.7 209.6,298.9 207.7,300.1 205.7,301.3 203.8,302.5 201.8,303.7 199.9,304.9 197.9,306.2 196.1,307.5 194.5,309.2 193.2,311.1 192.3,313.2 191.4,315.4 190.6,317.5 189.8,319.7 189.0,321.8 188.2,324.0 187.5,326.2 186.8,328.4 186.1,330.6 185.5,332.8 184.8,335.0 184.1,337.2 183.5,339.4 182.8,341.6 182.1,343.8 181.4,346.0 180.7,348.1 179.9,350.3 179.2,352.5 178.4,354.6 177.7,356.8 176.9,359.0 176.3,361.2 175.6,363.4 175.0,365.6 174.5,367.9 173.9,370.1 173.4,372.3 172.8,374.6 172.2,376.8 171.5,379.0 170.9,381.2 170.2,383.4 169.5,385.6 168.7,387.7 168.0,389.9 167.2,392.1 166.6,394.3 166.0,396.5 165.2,398.7 164.4,400.9 163.6,403.0 162.8,405.1 161.9,407.3 161.0,409.4 160.0,411.5 158.9,413.5 157.7,415.5 156.4,417.3 154.9,419.0 153.2,420.6 151.4,422.1 149.5,423.4 147.5,424.6 145.5,425.7 143.6,426.8 141.5,427.8 139.4,428.7 137.2,429.5 135.0,430.3 132.9,431.0 130.7,431.8 128.5,432.5 126.3,433.1 124.1,433.8 121.9,434.4 119.6,434.9 117.4,435.5 115.2,436.2 113.0,436.8 110.8,437.5 108.6,438.3 106.5,439.1 104.3,439.9 102.1,440.6 100.0,441.3 97.8,442.0 95.6,442.7 93.4,443.4 91.2,444.0 88.9,444.7 86.7,445.3" fill="none" stroke="none" stroke-width="0" marker-start="url(#dm000000)" marker-mid="url(#dm000000)" marker-end="url(#dm000000)"/>
<path d="M85.4,445.7 86.9,445.3 88.3,445.0 89.8,444.6 91.2,444.2 92.7,443.9 94.1,443.5 95.6,443.1 97.0,442.7 98.5,442.3 99.9,441.9 101.4,441.5 102.8,441.0 104.2,440.6 105.6,440.1 107.1,439.6 108.5,439.1 109.9,438.7 111.3,438.2 112.8,437.8 114.2,437.4 115.7,437.0 117.1,436.6 118.6,436.2 120.0,435.9 121.5,435.5 122.9,435.1 124.4,434.7 125.8,434.3 127.3,434.0 128.7,433.5 130.2,433.1 131.6,432.7 133.0,432.2 134.4,431.8 135.9,431.3 137.3,430.9 138.7,430.4 140.2,430.0 141.6,429.6 143.1,429.4 144.6,429.2 146.1,428.9 147.5,428.5 148.9,428.0 150.4,427.5 151.8,427.0 153.2,426.5 154.6,426.0 156.0,425.5 157.4,425.0 158.8,424.4 160.2,423.9 161.6,423.3 163.0,422.8 164.4,422.2 165.8,421.6 167.1,421.0 168.5,420.4 169.9,419.8 171.2,419.2 172.6,418.6 174.0,418.0 175.4,417.3 176.7,416.7 178.1,416.1 179.4,415.4 180.7,414.7 182.0,413.9 183.3,413.1 184.6,412.3 185.8,411.5 187.1,410.7 188.3,409.9 189.6,409.1 190.9,408.2 192.1,407.4 193.4,406.6 194.6,405.8 195.8,404.9 196.9,403.9 197.8,402.6 198.6,401.4 199.3,400.0 199.9,398.7 200.5,397.3 200.9,395.9 201.4,394.4 201.8,393.0 202.2,391.6 202.6,390.1 203.1,388.7 203.5,387.2 204.0,385.8 204.4,384.4 204.9,383.0 205.4,381.5 205.9,380.1 206.3,378.7 206.8,377.3 207.3,375.9 207.8,374.4 208.2,373.0 208.7,371.6 209.1,370.1 209.6,368.7 210.0,367.3 210.4,365.8 210.9,364.4 211.3,363.0 211.8,361.5 212.2,360.1 212.7,358.7 213.1,357.3 213.6,355.8 214.1,354.4 214.6,353.0 215.1,351.6 215.6,350.2 216.1,348.7 216.5,347.3 216.9,345.9 217.4,344.4 217.8,343.0 218.2,341.6 218.6,340.1 219.1,338.7 219.5,337.2 220.0,335.8 220.4,334.4 220.8,332.9 221.3,331.5 221.7,330.1 222.1,328.6 222.6,327.2 223.1,325.8 223.6,324.4 224.1,323.0 224.6,321.6 225.1,320.2 225.7,318.8 226.2,317.4 226.8,316.0 227.3,314.6 227.9,313.2 228.5,311.8 229.1,310.4 229.7,309.1 230.4,307.7 231.0,306.3 231.6,305.0 232.3,303.6 232.9,302.3 233.6,300.9 234.2,299.6 235.0,298.3 235.8,297.0 236.6,295.8 237.5,294.6 238.5,293.5 239.5,292.3 240.5,291.2 241.5,290.1 242.4,288.9 243.2,287.6 244.0,286.3 245.0,285.2 246.2,284.3 247.5,283.6 248.8,283.0 250.2,282.4 251.6,281.8 253.0,281.3 254.4,280.8 255.8,280.3 257.2,279.7 258.7,279.2 260.1,278.7 261.5,278.2 262.9,277.8 264.3,277.3 265.7,276.8 267.2,276.3 268.6,275.8 270.0,275.3 271.4,274.7 272.8,274.2 274.2,273.7 275.6,273.3 277.1,272.8 278.5,272.4 279.9,271.9 281.4,271.5 282.8,271.1 284.3,270.7 285.7,270.3 287.2,269.9 288.6,269.5 290.1,269.1 291.5,268.7 293.0,268.4 294.4,268.0 295.9,267.7 297.4,267.4 298.8,267.2 300.3,266.9 301.8,266.7 303.3,266.5 304.8,266.2" fill="none" stroke="#000000" stroke-width="2.0" stroke-linejoin="round"/>
<path d="M85.4,445.7 87.6,445.1 89.9,444.6 92.1,444.0 94.3,443.4 96.5,442.8 98.8,442.2 101.0,441.6 103.2,440.9 105.4,440.2 107.5,439.4 109.7,438.7 111.9,438.0 114.1,437.4 116.3,436.8 118.6,436.2 120.8,435.7 123.0,435.1 125.2,434.5 127.5,433.9 129.7,433.3 131.9,432.6 134.1,431.9 136.3,431.2 138.5,430.5 140.7,429.9 142.9,429.4 145.2,429.1 147.4,428.5 149.6,427.8 151.8,427.0 153.9,426.3 156.1,425.5 158.3,424.7 160.4,423.8 162.5,423.0 164.7,422.1 166.8,421.2 168.9,420.2 171.0,419.3 173.1,418.4 175.2,417.4 177.3,416.5 179.3,415.4 181.3,414.3 183.3,413.1 185.2,411.9 187.2,410.6 189.1,409.4 191.0,408.1 193.0,406.9 194.9,405.6 196.6,404.2 198.0,402.3 199.2,400.3 200.1,398.2 200.9,396.1 201.6,393.9 202.2,391.6 202.8,389.4 203.5,387.2 204.2,385.0 204.9,382.9 205.7,380.7 206.4,378.5 207.1,376.3 207.9,374.1 208.6,372.0 209.2,369.8 209.9,367.6 210.6,365.4 211.3,363.2 211.9,361.0 212.6,358.8 213.4,356.6 214.1,354.4 214.9,352.2 215.6,350.1 216.3,347.9 217.0,345.7 217.7,343.5 218.3,341.3 219.0,339.1 219.6,336.9 220.3,334.7 221.0,332.5 221.6,330.3 222.3,328.1 223.0,325.9 223.8,323.7 224.6,321.6 225.4,319.4 226.2,317.3 227.1,315.1 228.0,313.0 228.9,310.9 229.8,308.8 230.8,306.7 231.8,304.6 232.8,302.6 233.8,300.5 234.9,298.4 236.1,296.5 237.5,294.7 239.0,292.9 240.5,291.2 242.0,289.5 243.2,287.5 244.6,285.6 246.3,284.2 248.4,283.2 250.5,282.3 252.7,281.5 254.8,280.6 257.0,279.8 259.1,279.1 261.3,278.3 263.5,277.6 265.7,276.8 267.8,276.0 270.0,275.3 272.1,274.5 274.3,273.7 276.5,273.0 278.7,272.3 280.9,271.6 283.1,271.0 285.3,270.4 287.5,269.8 289.8,269.2 292.0,268.6 294.2,268.1 296.5,267.6 298.7,267.2 301.0,266.8 303.3,266.5" fill="none" stroke="none" stroke-width="0" marker-start="url(#dm000000)" marker-mid="url(#dm000000)" marker-end="url(#dm000000)"/>
<path d="M85.4,445.7 86.9,445.3 88.3,445.0 89.8,444.6 91.2,444.2 92.7,443.9 94.1,443.5 95.6,443.1 97.0,442.7 98.5,442.3 99.9,441.9 101.4,441.5 102.8,441.0 104.2,440.6 105.6,440.1 107.1,439.6 108.5,439.1 109.9,438.7 111.3,438.2 112.8,437.8 114.2,437.4 115.7,437.0 117.1,436.6 118.6,436.2 120.0,435.9 121.5,435.5 122.9,435.1 124.4,434.7 125.8,434.3 127.3,434.0 128.7,433.5 130.2,433.1 131.6,432.7 133.0,432.2 134.4,431.8 135.9,431.3 137.3,430.9 138.7,430.4 140.2,430.0 141.6,429.6 143.1,429.4 144.6,429.2 146.1,428.9 147.5,428.5 148.9,428.0 150.4,427.5 151.8,427.0 153.2,426.5 154.6,426.0 156.0,425.5 157.4,425.0 158.8,424.4 160.2,423.9 161.6,423.3 163.0,422.8 164.4,422.2 165.8,421.6 167.1,421.0 168.5,420.4 169.9,419.8 171.2,419.2 172.6,418.6 174.0,418.0 175.4,417.3 176.7,416.7 178.1,416.1 179.4,415.4 180.7,414.7 182.0,413.9 183.3,413.1 184.6,412.3 185.8,411.5 187.1,410.7 188.3,409.9 189.6,409.1 190.9,408.2 192.1,407.4 193.4,406.6 194.6,405.8 195.8,404.9 196.9,403.9 197.8,402.6" fill="none" stroke="#000000" stroke-width="3.6" stroke-linejoin="round" stroke-linecap="round"/>
<path d="M305.0,266.2 303.5,266.4 302.1,266.6 300.6,266.9 299.1,267.1 297.6,267.4 296.1,267.7 294.7,268.0 293.2,268.3 291.8,268.7 290.3,269.1 288.9,269.4 287.4,269.8 286.0,270.2 284.5,270.6 283.1,271.0 281.6,271.4 280.2,271.8 278.7,272.3 277.3,272.7 275.9,273.2 274.5,273.7 273.0,274.2 271.6,274.7 270.2,275.2 268.8,275.7 267.4,276.2 266.0,276.7 264.6,277.2 263.2,277.7 261.7,278.2 260.3,278.6 258.9,279.1 257.5,279.6 256.1,280.2 254.7,280.7 253.3,281.3 251.9,281.9 250.6,282.5 249.2,283.1 247.8,283.7 246.4,284.3 245.0,284.8 243.6,285.3 242.2,285.8 240.7,286.2 239.3,286.6 237.9,287.0 236.4,287.5 235.0,287.9 233.6,288.4 232.1,288.8 230.7,289.3 229.3,289.9 227.9,290.4 226.5,291.0 225.2,291.6 223.8,292.1 222.4,292.7 221.0,293.2 219.6,293.8 218.2,294.4 216.8,295.0 215.5,295.6 214.1,296.3 212.8,297.0 211.5,297.8 210.2,298.5 208.9,299.3 207.7,300.1 206.4,300.9 205.1,301.7 203.8,302.5 202.6,303.3 201.3,304.0 200.0,304.8 198.7,305.6 197.5,306.4 196.3,307.3 195.2,308.4 194.3,309.6 193.4,310.8 192.7,312.1 192.1,313.5 191.6,314.9 191.1,316.3 190.6,317.7 190.0,319.1 189.5,320.5 189.0,321.9 188.5,323.3 188.0,324.8 187.5,326.2 187.1,327.6 186.6,329.0 186.2,330.5 185.7,331.9 185.3,333.3 184.9,334.8 184.4,336.2 184.0,337.6 183.5,339.1 183.1,340.5 182.7,341.9 182.2,343.4 181.8,344.8 181.3,346.2 180.8,347.7 180.4,349.1 179.9,350.5 179.4,351.9 178.9,353.3 178.4,354.7 177.9,356.2 177.4,357.6 176.9,359.0 176.5,360.4 176.0,361.9 175.6,363.3 175.2,364.8 174.9,366.2 174.5,367.7 174.2,369.1 173.8,370.6 173.5,372.1 173.1,373.5 172.7,375.0 172.3,376.4 171.9,377.8 171.4,379.3 171.0,380.7 170.6,382.1 170.1,383.6 169.6,385.0 169.2,386.4 168.7,387.8 168.2,389.3 167.7,390.7 167.2,392.1 166.8,393.5 166.4,395.0 166.0,396.4 165.5,397.8 165.0,399.3 164.5,400.7 164.0,402.1 163.4,403.5 162.9,404.9 162.3,406.3 161.7,407.6 161.1,409.0 160.5,410.4 159.9,411.7 159.2,413.1 158.4,414.4 157.6,415.6 156.8,416.8 155.8,418.0 154.8,419.1 153.7,420.2 152.6,421.1 151.4,422.1 150.2,423.0 148.9,423.8 147.6,424.5 146.3,425.2 145.0,426.0 143.7,426.7 142.4,427.4 141.0,428.0 139.6,428.6 138.2,429.1 136.8,429.7 135.4,430.2 134.0,430.6 132.6,431.1 131.1,431.6 129.7,432.1 128.3,432.5 126.9,433.0 125.4,433.4 124.0,433.8 122.5,434.2 121.1,434.6 119.6,435.0 118.2,435.4 116.8,435.8 115.3,436.2 113.9,436.6" fill="none" stroke="#ee1111" stroke-width="2.0" stroke-linejoin="round"/>
<path d="M305.0,266.2 302.7,266.5 300.5,266.9 298.2,267.3 295.9,267.7 293.7,268.2 291.5,268.8 289.2,269.3 287.0,269.9 284.8,270.5 282.6,271.1 280.4,271.8 278.2,272.5 276.0,273.2 273.8,273.9 271.6,274.7 269.5,275.4 267.3,276.2 265.1,277.0 263.0,277.7 260.8,278.5 258.6,279.2 256.5,280.0 254.3,280.9 252.2,281.8 250.1,282.7 248.0,283.7 245.9,284.5 243.7,285.3 241.5,286.0 239.3,286.6 237.1,287.2 234.9,287.9 232.7,288.6 230.5,289.4 228.4,290.2 226.3,291.1 224.1,292.0 222.0,292.8 219.9,293.7 217.7,294.6 215.6,295.5 213.6,296.6 211.6,297.7 209.6,298.9 207.7,300.1 205.7,301.3 203.8,302.5 201.8,303.7 199.9,304.9 197.9,306.2 196.1,307.5 194.5,309.2 193.2,311.1 192.3,313.2 191.4,315.4 190.6,317.5 189.8,319.7 189.0,321.8 188.2,324.0 187.5,326.2 186.8,328.4 186.1,330.6 185.5,332.8 184.8,335.0 184.1,337.2 183.5,339.4 182.8,341.6 182.1,343.8 181.4,346.0 180.7,348.1 179.9,350.3 179.2,352.5 178.4,354.6 177.7,356.8 176.9,359.0 176.3,361.2 175.6,363.4 175.0,365.6 174.5,367.9 173.9,370.1 173.4,372.3 172.8,374.6 172.2,376.8 171.5,379.0 170.9,381.2 170.2,383.4 169.5,385.6 168.7,387.7 168.0,389.9 167.2,392.1 166.6,394.3 166.0,396.5 165.2,398.7 164.4,400.9 163.6,403.0 162.8,405.1 161.9,407.3 161.0,409.4 160.0,411.5 158.9,413.5 157.7,415.5 156.4,417.3 154.9,419.0 153.2,420.6 151.4,422.1 149.5,423.4 147.5,424.6 145.5,425.7 143.6,426.8 141.5,427.8 139.4,428.7 137.2,429.5 135.0,430.3 132.9,431.0 130.7,431.8 128.5,432.5 126.3,433.1 124.1,433.8 121.9,434.4 119.6,435.0 117.4,435.6 115.2,436.2 113.0,436.8" fill="none" stroke="none" stroke-width="0" marker-start="url(#dmee1111)" marker-mid="url(#dmee1111)" marker-end="url(#dmee1111)"/>
<path d="M112.7,436.9 114.2,436.5 115.6,436.2 117.1,435.9 118.5,435.5 120.0,435.2 121.5,434.8 122.9,434.5 124.4,434.1 125.8,433.8 127.3,433.4 128.7,433.0 130.2,432.6 131.6,432.1 133.0,431.7 134.5,431.2 135.9,430.8 137.3,430.3 138.7,429.8 140.2,429.4 141.6,429.1 143.1,428.8 144.6,428.6 146.1,428.3 147.5,427.9 148.9,427.4 150.4,427.0 151.8,426.5 153.2,426.0 154.6,425.4 156.0,424.9 157.4,424.4 158.8,423.9 160.2,423.3 161.6,422.8 163.0,422.2 164.4,421.6 165.8,421.0 167.1,420.4 168.5,419.8 169.9,419.2 171.3,418.6 172.6,418.0 174.0,417.4 175.4,416.8 176.7,416.1 178.1,415.5 179.4,414.8 180.7,414.1 182.0,413.4 183.3,412.6 184.6,411.8 185.8,411.0 187.1,410.1 188.3,409.3 189.6,408.5 190.9,407.7 192.1,406.9 193.4,406.0 194.6,405.2 195.8,404.3 196.9,403.3 197.7,402.0 198.5,400.7 199.2,399.4 199.8,398.0 200.3,396.6 200.8,395.2 201.3,393.8 201.7,392.3 202.2,390.9 202.6,389.5 203.1,388.0 203.5,386.6 204.0,385.2 204.5,383.8 204.9,382.4 205.4,380.9 205.9,379.5 206.4,378.1 206.9,376.7 207.3,375.2 207.8,373.8 208.3,372.4 208.7,371.0 209.2,369.5 209.6,368.1 210.1,366.7 210.5,365.2 210.9,363.8 211.4,362.4 211.8,360.9 212.3,359.5 212.7,358.1 213.2,356.6 213.7,355.2 214.2,353.8 214.7,352.4 215.2,351.0 215.7,349.6 216.1,348.1 216.6,346.7 217.0,345.3 217.4,343.8 217.8,342.4 218.3,340.9 218.7,339.5 219.1,338.1 219.6,336.6 220.0,335.2 220.4,333.8 220.9,332.3 221.3,330.9 221.8,329.5 222.2,328.0 222.7,326.6 223.2,325.2 223.7,323.8 224.2,322.4 224.7,321.0 225.2,319.6 225.8,318.2 226.3,316.8 226.9,315.4 227.4,314.0 228.0,312.6 228.6,311.2 229.2,309.9 229.8,308.5 230.5,307.1 231.1,305.8 231.8,304.4 232.4,303.1 233.1,301.7 233.7,300.4 234.4,299.0 235.2,297.7 236.0,296.5 236.9,295.3 237.8,294.1 238.8,293.0 239.8,291.9 240.8,290.8 241.8,289.6 242.6,288.4 243.4,287.1 244.3,285.9 245.4,284.9 246.7,284.0 248.0,283.4 249.4,282.8 250.8,282.2 252.2,281.7 253.6,281.1 255.0,280.6 256.4,280.1 257.8,279.5 259.2,279.0 260.6,278.5 262.0,278.1 263.4,277.6 264.9,277.1 266.3,276.6 267.7,276.1 269.1,275.6 270.5,275.1 271.9,274.6 273.3,274.1 274.7,273.6 276.2,273.1 277.6,272.6 279.0,272.2 280.5,271.8 281.9,271.3 283.4,270.9 284.8,270.5 286.2,270.1 287.7,269.7 289.1,269.4 290.6,269.0 292.0,268.6 293.5,268.3 295.0,267.9 296.4,267.6 297.9,267.3 299.4,267.1 300.9,266.8 302.3,266.6 303.8,266.4" fill="none" stroke="#ee1111" stroke-width="2.0" stroke-linejoin="round"/>
<path d="M112.7,436.9 114.9,436.4 117.2,435.8 119.4,435.3 121.7,434.8 123.9,434.2 126.1,433.7 128.3,433.1 130.5,432.4 132.7,431.8 134.9,431.1 137.1,430.4 139.3,429.7 141.5,429.1 143.8,428.8 146.1,428.3 148.3,427.6 150.5,426.9 152.6,426.2 154.8,425.4 156.9,424.6 159.1,423.8 161.2,422.9 163.4,422.0 165.5,421.2 167.6,420.2 169.7,419.3 171.8,418.4 173.9,417.4 176.0,416.5 178.1,415.5 180.1,414.4 182.1,413.3 184.1,412.1 186.0,410.9 187.9,409.6 189.8,408.3 191.8,407.1 193.7,405.8 195.6,404.5 197.2,402.8 198.4,400.9 199.4,398.8 200.3,396.7 201.1,394.5 201.7,392.3 202.4,390.2 203.1,388.0 203.8,385.8 204.5,383.6 205.3,381.4 206.0,379.2 206.7,377.0 207.5,374.9 208.2,372.7 208.9,370.5 209.6,368.3 210.2,366.1 210.9,363.9 211.6,361.7 212.3,359.5 213.0,357.3 213.7,355.1 214.5,353.0 215.2,350.8 216.0,348.6 216.6,346.4 217.3,344.2 217.9,342.0 218.6,339.8 219.3,337.6 219.9,335.4 220.6,333.2 221.3,331.0 222.0,328.8 222.7,326.6 223.4,324.4 224.2,322.3 225.0,320.1 225.8,318.0 226.7,315.8 227.5,313.7 228.5,311.6 229.4,309.5 230.4,307.4 231.3,305.3 232.3,303.2 233.3,301.2 234.4,299.1 235.5,297.1 236.9,295.3 238.3,293.5 239.9,291.8 241.4,290.1 242.7,288.2 244.0,286.3 245.6,284.7 247.6,283.5 249.7,282.6 251.9,281.8 254.0,280.9 256.2,280.1 258.3,279.3 260.5,278.6 262.7,277.8 264.9,277.1 267.0,276.3 269.2,275.5 271.3,274.8 273.5,274.0 275.7,273.2 277.9,272.5 280.1,271.9 282.3,271.2 284.5,270.6 286.7,270.0 288.9,269.4 291.2,268.8 293.4,268.3 295.6,267.8 297.9,267.3 300.2,266.9 302.4,266.6 304.7,266.3" fill="none" stroke="none" stroke-width="0" marker-start="url(#dmee1111)" marker-mid="url(#dmee1111)" marker-end="url(#dmee1111)"/>
<path d="M112.7,436.9 114.2,436.5 115.6,436.2 117.1,435.9 118.5,435.5 120.0,435.2 121.5,434.8 122.9,434.5 124.4,434.1 125.8,433.8 127.3,433.4 128.7,433.0 130.2,432.6 131.6,432.1 133.0,431.7 134.5,431.2 135.9,430.8 137.3,430.3 138.7,429.8 140.2,429.4 141.6,429.1 143.1,428.8 144.6,428.6 146.1,428.3 147.5,427.9 148.9,427.4 150.4,427.0 151.8,426.5 153.2,426.0 154.6,425.4 156.0,424.9 157.4,424.4 158.8,423.9 160.2,423.3 161.6,422.8 163.0,422.2 164.4,421.6 165.8,421.0 167.1,420.4 168.5,419.8 169.9,419.2 171.3,418.6 172.6,418.0 174.0,417.4 175.4,416.8 176.7,416.1 178.1,415.5 179.4,414.8 180.7,414.1 182.0,413.4 183.3,412.6 184.6,411.8 185.8,411.0 187.1,410.1 188.3,409.3 189.6,408.5 190.9,407.7 192.1,406.9 193.4,406.0 194.6,405.2 195.8,404.3 196.9,403.3 197.7,402.0 198.5,400.7" fill="none" stroke="#ee1111" stroke-width="3.6" stroke-linejoin="round" stroke-linecap="round"/>
<path d="M305.0,266.2 303.5,266.4 302.1,266.6 300.6,266.9 299.1,267.1 297.6,267.4 296.1,267.7 294.7,268.0 293.2,268.3 291.8,268.7 290.3,269.1 288.9,269.4 287.4,269.8 286.0,270.2 284.5,270.6 283.1,271.0 281.6,271.4 280.2,271.8 278.7,272.3 277.3,272.7 275.9,273.2 274.5,273.7 273.0,274.2 271.6,274.7 270.2,275.2 268.8,275.7 267.4,276.2 266.0,276.7 264.6,277.2 263.2,277.7 261.7,278.2 260.3,278.6 258.9,279.1 257.5,279.6 256.1,280.2 254.7,280.7 253.3,281.3 251.9,281.9 250.6,282.5 249.2,283.1 247.8,283.7 246.4,284.3 245.0,284.8 243.6,285.3 242.2,285.8 240.7,286.2 239.3,286.6 237.9,287.0 236.4,287.5 235.0,287.9 233.6,288.4 232.1,288.8 230.7,289.3 229.3,289.9 227.9,290.4 226.5,291.0 225.2,291.6 223.8,292.1 222.4,292.7 221.0,293.2 219.6,293.8 218.2,294.4 216.8,295.0 215.5,295.6 214.1,296.3 212.8,297.0 211.5,297.8 210.2,298.5 208.9,299.3 207.7,300.1 206.4,300.9 205.1,301.7 203.8,302.5 202.6,303.3 201.3,304.0 200.0,304.8 198.7,305.6 197.5,306.4 196.3,307.3 195.2,308.4 194.3,309.6 193.4,310.8 192.7,312.1 192.1,313.5 191.6,314.9 191.1,316.3 190.6,317.7 190.0,319.1 189.5,320.5 189.0,321.9 188.5,323.3 188.0,324.8 187.5,326.2 187.1,327.6 186.6,329.0 186.2,330.5 185.7,331.9 185.3,333.3 184.9,334.8 184.4,336.2 184.0,337.6 183.5,339.1 183.1,340.5 182.7,341.9 182.2,343.4 181.8,344.8 181.3,346.2 180.8,347.7 180.4,349.1 179.9,350.5 179.4,351.9 178.9,353.3 178.4,354.7 177.9,356.2 177.4,357.6 176.9,359.0 176.5,360.4 176.0,361.9 175.6,363.3 175.2,364.8 174.9,366.2 174.5,367.7 174.2,369.1 173.8,370.6 173.5,372.1 173.1,373.5 172.7,375.0 172.3,376.4 171.9,377.8 171.4,379.3 171.0,380.7 170.6,382.1 170.1,383.6 169.6,385.0 169.2,386.4 168.7,387.8 168.2,389.3 167.7,390.7 167.2,392.1 166.8,393.5 166.4,395.0 166.0,396.4 165.5,397.8 165.0,399.3 164.5,400.7 164.0,402.1 163.4,403.5 162.9,404.9 162.3,406.3 161.7,407.6 161.1,409.0 160.5,410.4 159.9,411.7 159.2,413.1 158.4,414.4 157.6,415.6 156.8,416.8 155.8,418.0 154.8,419.1 153.7,420.2 152.6,421.1 151.4,422.1 150.2,423.0 148.9,423.8 147.6,424.5 146.3,425.2 145.0,425.9 143.7,426.6 142.3,427.3 141.0,428.0" fill="none" stroke="#1515ee" stroke-width="2.0" stroke-linejoin="round"/>
<path d="M305.0,266.2 302.7,266.5 300.5,266.9 298.2,267.3 295.9,267.7 293.7,268.2 291.5,268.8 289.2,269.3 287.0,269.9 284.8,270.5 282.6,271.1 280.4,271.8 278.2,272.5 276.0,273.2 273.8,273.9 271.6,274.7 269.5,275.4 267.3,276.2 265.1,277.0 263.0,277.7 260.8,278.5 258.6,279.2 256.5,280.0 254.3,280.9 252.2,281.8 250.1,282.7 248.0,283.7 245.9,284.5 243.7,285.3 241.5,286.0 239.3,286.6 237.1,287.2 234.9,287.9 232.7,288.6 230.5,289.4 228.4,290.2 226.3,291.1 224.1,292.0 222.0,292.8 219.9,293.7 217.7,294.6 215.6,295.5 213.6,296.6 211.6,297.7 209.6,298.9 207.7,300.1 205.7,301.3 203.8,302.5 201.8,303.7 199.9,304.9 197.9,306.2 196.1,307.5 194.5,309.2 193.2,311.1 192.3,313.2 191.4,315.4 190.6,317.5 189.8,319.7 189.0,321.8 188.2,324.0 187.5,326.2 186.8,328.4 186.1,330.6 185.5,332.8 184.8,335.0 184.1,337.2 183.5,339.4 182.8,341.6 182.1,343.8 181.4,346.0 180.7,348.1 179.9,350.3 179.2,352.5 178.4,354.6 177.7,356.8 176.9,359.0 176.3,361.2 175.6,363.4 175.0,365.6 174.5,367.9 173.9,370.1 173.4,372.3 172.8,374.6 172.2,376.8 171.5,379.0 170.9,381.2 170.2,383.4 169.5,385.6 168.7,387.7 168.0,389.9 167.2,392.1 166.6,394.3 166.0,396.5 165.2,398.7 164.4,400.9 163.6,403.0 162.8,405.1 161.9,407.3 161.0,409.4 160.0,411.5 158.9,413.5 157.7,415.5 156.4,417.3 154.9,419.0 153.2,420.6 151.4,422.1 149.5,423.4 147.5,424.6 145.5,425.7 143.5,426.7 141.4,427.8" fill="none" stroke="none" stroke-width="0" marker-start="url(#dm1515ee)" marker-mid="url(#dm1515ee)" marker-end="url(#dm1515ee)"/>
<path d="M140.6,428.2 142.0,427.8 143.5,427.4 144.9,426.9 146.3,426.3 147.6,425.6 148.9,424.8 150.1,424.0 151.4,423.2 152.7,422.5 154.1,421.9 155.6,421.6 157.0,421.3 158.5,421.1 160.0,420.7 161.4,420.3 162.8,419.8 164.3,419.3 165.7,418.8 167.0,418.2 168.4,417.5 169.7,416.8 171.0,416.1 172.3,415.4 173.6,414.7 175.0,414.0 176.3,413.2 177.6,412.5 178.9,411.8 180.2,411.1 181.6,410.4 182.9,409.6 184.2,408.9 185.5,408.1 186.8,407.4 188.0,406.6 189.3,405.8 190.6,405.0 191.7,404.0 192.8,403.0 194.0,402.1 195.2,401.1 196.3,400.2 197.4,399.1 198.1,397.8 198.7,396.4 199.2,395.0 199.7,393.6 200.2,392.2 200.7,390.8 201.1,389.3 201.6,387.9 202.1,386.5 202.5,385.1 203.0,383.6 203.5,382.2 204.0,380.8 204.4,379.4 204.9,377.9 205.4,376.5 205.9,375.1 206.3,373.7 206.8,372.3 207.3,370.8 207.8,369.4 208.4,368.0 208.9,366.6 209.4,365.2 209.9,363.8 210.3,362.3 210.6,360.9 211.0,359.4 211.4,358.0 211.8,356.6 212.3,355.1 212.8,353.7 213.2,352.3 213.7,350.9 214.2,349.4 214.7,348.0 215.2,346.6 215.7,345.2 216.2,343.8 216.7,342.3 217.1,340.9 217.6,339.5 218.0,338.1 218.5,336.6 218.9,335.2 219.4,333.8 219.9,332.4 220.4,331.0 221.0,329.6 221.5,328.1 221.9,326.7 222.4,325.3 222.8,323.9 223.3,322.4 223.8,321.0 224.2,319.6 224.7,318.2 225.2,316.7 225.7,315.3 226.3,313.9 226.8,312.5 227.4,311.2 228.0,309.8 228.5,308.4 229.1,307.0 229.8,305.6 230.4,304.3 231.0,302.9 231.7,301.6 232.4,300.2 233.1,298.9 233.9,297.6 234.7,296.4 235.6,295.2 236.6,294.0 237.6,292.9 238.6,291.8 239.6,290.7 240.7,289.7 241.6,288.5 242.6,287.4 243.6,286.3 244.8,285.3 246.0,284.4 247.3,283.7 248.7,283.1 250.0,282.5 251.4,281.9 252.8,281.4 254.2,280.9 255.6,280.3 257.0,279.8 258.5,279.3 259.9,278.8 261.3,278.3 262.7,277.8 264.1,277.3 265.5,276.9 267.0,276.4 268.4,275.8 269.8,275.3 271.2,274.8 272.6,274.3 274.0,273.8 275.4,273.3 276.9,272.9 278.3,272.4 279.7,272.0 281.2,271.6 282.6,271.1 284.1,270.7 285.5,270.3 286.9,269.9 288.4,269.6 289.8,269.2 291.3,268.8 292.8,268.4 294.2,268.1 295.7,267.8 297.1,267.5 298.6,267.2 300.1,266.9 301.6,266.7 303.1,266.5 304.6,266.3" fill="none" stroke="#1515ee" stroke-width="2.0" stroke-linejoin="round"/>
<path d="M140.6,428.2 142.8,427.6 145.0,426.9 147.1,425.9 149.1,424.7 151.0,423.4 153.0,422.3 155.2,421.6 157.4,421.3 159.7,420.8 161.9,420.1 164.1,419.4 166.2,418.6 168.3,417.6 170.3,416.5 172.3,415.4 174.3,414.3 176.4,413.2 178.4,412.1 180.4,411.0 182.4,409.9 184.4,408.7 186.4,407.6 188.4,406.4 190.3,405.1 192.1,403.7 193.8,402.2 195.6,400.8 197.3,399.2 198.4,397.2 199.2,395.0 200.0,392.8 200.7,390.7 201.4,388.5 202.1,386.3 202.9,384.1 203.6,381.9 204.3,379.7 205.0,377.6 205.8,375.4 206.5,373.2 207.3,371.0 208.0,368.9 208.9,366.7 209.6,364.5 210.3,362.3 210.8,360.1 211.4,357.9 212.1,355.7 212.8,353.5 213.6,351.3 214.3,349.2 215.1,347.0 215.8,344.8 216.6,342.6 217.3,340.4 218.0,338.3 218.7,336.1 219.4,333.9 220.2,331.7 221.0,329.6 221.7,327.4 222.4,325.2 223.1,323.0 223.8,320.8 224.6,318.6 225.3,316.5 226.1,314.3 227.0,312.2 227.8,310.0 228.7,307.9 229.7,305.8 230.6,303.7 231.7,301.7 232.7,299.6 233.9,297.6 235.2,295.7 236.6,294.0 238.2,292.3 239.8,290.6 241.3,288.9 242.8,287.2 244.4,285.5 246.3,284.2 248.4,283.2 250.5,282.3 252.6,281.5 254.8,280.7 256.9,279.8 259.1,279.1 261.3,278.3 263.5,277.6 265.6,276.8 267.8,276.0 270.0,275.3 272.1,274.5 274.3,273.7 276.5,273.0 278.7,272.3 280.9,271.6 283.1,271.0 285.3,270.4 287.5,269.8 289.7,269.2 292.0,268.6 294.2,268.1 296.5,267.6 298.7,267.2 301.0,266.8 303.3,266.5" fill="none" stroke="none" stroke-width="0" marker-start="url(#dm1515ee)" marker-mid="url(#dm1515ee)" marker-end="url(#dm1515ee)"/>
<path d="M140.6,428.2 142.0,427.8 143.5,427.4 144.9,426.9 146.3,426.3 147.6,425.6 148.9,424.8 150.1,424.0 151.4,423.2 152.7,422.5 154.1,421.9 155.6,421.6 157.0,421.3 158.5,421.1 160.0,420.7 161.4,420.3 162.8,419.8 164.3,419.3 165.7,418.8 167.0,418.2 168.4,417.5 169.7,416.8 171.0,416.1 172.3,415.4 173.6,414.7 175.0,414.0 176.3,413.2 177.6,412.5 178.9,411.8 180.2,411.1 181.6,410.4 182.9,409.6 184.2,408.9 185.5,408.1 186.8,407.4 188.0,406.6 189.3,405.8 190.6,405.0 191.7,404.0 192.8,403.0 194.0,402.1 195.2,401.1 196.3,400.2" fill="none" stroke="#1515ee" stroke-width="3.6" stroke-linejoin="round" stroke-linecap="round"/>
<path d="M305.0,266.2 303.5,266.4 302.1,266.6 300.6,266.9 299.1,267.1 297.6,267.4 296.1,267.7 294.7,268.0 293.2,268.3 291.8,268.7 290.3,269.1 288.9,269.4 287.4,269.8 286.0,270.2 284.5,270.6 283.1,271.0 281.6,271.4 280.2,271.8 278.7,272.3 277.3,272.7 275.9,273.2 274.5,273.7 273.0,274.2 271.6,274.7 270.2,275.2 268.8,275.7 267.4,276.2 266.0,276.7 264.6,277.2 263.2,277.7 261.7,278.2 260.3,278.6 258.9,279.1 257.5,279.6 256.1,280.2 254.7,280.7 253.3,281.3 251.9,281.9 250.6,282.5 249.2,283.1 247.8,283.7 246.4,284.3 245.0,284.8 243.6,285.3 242.2,285.8 240.7,286.2 239.3,286.6 237.9,287.0 236.4,287.5 235.0,287.9 233.6,288.4 232.1,288.8 230.7,289.3 229.3,289.9 227.9,290.4 226.5,291.0 225.2,291.6 223.8,292.1 222.4,292.7 221.0,293.2 219.6,293.8 218.2,294.4 216.8,295.0 215.5,295.6 214.1,296.3 212.8,297.0 211.5,297.8 210.2,298.5 208.9,299.3 207.7,300.1 206.4,300.9 205.1,301.7 203.8,302.5 202.6,303.3 201.3,304.0 200.0,304.8 198.7,305.6 197.5,306.4 196.3,307.3 195.2,308.4 194.3,309.6 193.4,310.8 192.7,312.1 192.1,313.5 191.6,314.9 191.1,316.3 190.6,317.7 190.0,319.1 189.5,320.5 189.0,321.9 188.5,323.3 188.0,324.8 187.5,326.2 187.1,327.6 186.6,329.0 186.2,330.5 185.7,331.9 185.3,333.3 184.9,334.8 184.4,336.2 184.0,337.6 183.5,339.1 183.1,340.5 182.7,341.9 182.2,343.4 181.8,344.8 181.3,346.2 180.8,347.7 180.4,349.1 179.9,350.5 179.4,351.9 178.9,353.3 178.4,354.7 177.9,356.2 177.4,357.6 176.9,359.0 176.5,360.4 176.0,361.9 175.6,363.3 175.2,364.8 174.9,366.2 174.5,367.7 174.2,369.1 173.8,370.6 173.5,372.1 173.1,373.5 172.7,375.0 172.3,376.4 171.9,377.8 171.4,379.3 171.0,380.7 170.6,382.1 170.1,383.6 169.6,385.0 169.2,386.4 168.7,387.8 168.2,389.3 167.7,390.7 167.2,392.1 166.8,393.5 166.4,395.0 166.0,396.4 165.5,397.8 165.0,399.3 164.5,400.7 164.0,402.1 163.4,403.5 162.9,404.9 162.3,406.3 161.7,407.6 161.1,409.0 160.5,410.4 159.9,411.7 159.2,413.1 158.4,414.4 157.6,415.6 156.7,416.8 155.8,418.0" fill="none" stroke="#ee11ee" stroke-width="2.0" stroke-linejoin="round"/>
<path d="M305.0,266.2 302.7,266.5 300.5,266.9 298.2,267.3 295.9,267.7 293.7,268.2 291.5,268.8 289.2,269.3 287.0,269.9 284.8,270.5 282.6,271.1 280.4,271.8 278.2,272.5 276.0,273.2 273.8,273.9 271.6,274.7 269.5,275.4 267.3,276.2 265.1,277.0 263.0,277.7 260.8,278.5 258.6,279.2 256.5,280.0 254.3,280.9 252.2,281.8 250.1,282.7 248.0,283.7 245.9,284.5 243.7,285.3 241.5,286.0 239.3,286.6 237.1,287.2 234.9,287.9 232.7,288.6 230.5,289.4 228.4,290.2 226.3,291.1 224.1,292.0 222.0,292.8 219.9,293.7 217.7,294.6 215.6,295.5 213.6,296.6 211.6,297.7 209.6,298.9 207.7,300.1 205.7,301.3 203.8,302.5 201.8,303.7 199.9,304.9 197.9,306.2 196.1,307.5 194.5,309.2 193.2,311.1 192.3,313.2 191.4,315.4 190.6,317.5 189.8,319.7 189.0,321.8 188.2,324.0 187.5,326.2 186.8,328.4 186.1,330.6 185.5,332.8 184.8,335.0 184.1,337.2 183.5,339.4 182.8,341.6 182.1,343.8 181.4,346.0 180.7,348.1 179.9,350.3 179.2,352.5 178.4,354.6 177.7,356.8 176.9,359.0 176.3,361.2 175.6,363.4 175.0,365.6 174.5,367.9 173.9,370.1 173.4,372.3 172.8,374.6 172.2,376.8 171.5,379.0 170.9,381.2 170.2,383.4 169.5,385.6 168.7,387.7 168.0,389.9 167.2,392.1 166.6,394.3 166.0,396.5 165.2,398.7 164.4,400.9 163.6,403.0 162.8,405.1 161.9,407.3 161.0,409.4 160.0,411.5 158.9,413.5 157.7,415.4 156.3,417.3" fill="none" stroke="none" stroke-width="0" marker-start="url(#dmee11ee)" marker-mid="url(#dmee11ee)" marker-end="url(#dmee11ee)"/>
<path d="M155.3,418.5 156.8,418.1 158.2,417.6 159.6,417.1 161.0,416.5 162.4,415.9 163.7,415.3 165.1,414.7 166.5,414.1 167.8,413.4 169.1,412.6 170.4,411.8 171.6,411.1 172.9,410.3 174.2,409.6 175.6,408.8 176.9,408.1 178.2,407.3 179.4,406.6 180.7,405.8 181.9,404.9 183.2,404.0 184.3,403.1 185.5,402.2 186.7,401.3 187.9,400.4 189.1,399.5 190.3,398.6 191.6,397.8 192.9,397.0 194.1,396.2 195.3,395.3 196.4,394.2 197.2,393.0 197.8,391.6 198.5,390.3 199.3,389.0 199.9,387.6 200.5,386.2 201.0,384.8 201.5,383.4 201.9,382.0 202.3,380.5 202.7,379.1 203.1,377.6 203.5,376.2 203.9,374.7 204.2,373.3 204.6,371.8 204.9,370.4 205.3,368.9 205.7,367.5 206.1,366.0 206.6,364.6 207.2,363.2 207.9,361.9 208.4,360.5 208.8,359.1 209.2,357.6 209.5,356.1 209.9,354.7 210.3,353.2 210.8,351.8 211.2,350.4 211.7,349.0 212.1,347.5 212.6,346.1 213.0,344.7 213.5,343.2 213.9,341.8 214.4,340.4 214.9,339.0 215.5,337.6 216.0,336.2 216.5,334.8 217.0,333.3 217.5,331.9 218.0,330.5 218.5,329.1 219.0,327.7 219.5,326.3 220.0,324.9 220.5,323.4 220.9,322.0 221.4,320.6 221.9,319.2 222.4,317.7 222.9,316.3 223.4,314.9 224.0,313.5 224.5,312.2 225.1,310.8 225.7,309.4 226.4,308.0 227.0,306.7 227.6,305.3 228.2,304.0 228.9,302.6 229.6,301.3 230.3,299.9 231.0,298.6 231.8,297.4 232.7,296.2 233.7,295.0 234.7,293.9 235.7,292.8 236.8,291.8 237.9,290.8 239.0,289.8 240.2,288.8 241.3,287.8 242.5,286.9 243.6,285.9 244.9,285.1 246.2,284.3 247.5,283.7 248.9,283.0 250.3,282.4 251.6,281.9 253.0,281.3 254.4,280.8 255.8,280.3 257.2,279.7 258.7,279.2 260.1,278.7 261.5,278.2 262.9,277.8 264.3,277.3 265.8,276.8 267.2,276.3 268.6,275.8 270.0,275.3 271.4,274.7 272.8,274.2 274.2,273.7 275.6,273.3 277.1,272.8 278.5,272.4 279.9,271.9 281.4,271.5 282.8,271.1 284.3,270.7 285.7,270.3 287.2,269.9 288.6,269.5 290.1,269.1 291.5,268.7 293.0,268.4 294.4,268.0 295.9,267.7 297.4,267.4 298.8,267.2 300.3,266.9 301.8,266.7 303.3,266.5 304.8,266.2" fill="none" stroke="#ee11ee" stroke-width="2.0" stroke-linejoin="round"/>
<path d="M155.3,418.5 157.5,417.8 159.7,417.0 161.8,416.2 163.9,415.3 166.0,414.3 168.0,413.2 170.0,412.0 172.0,410.9 174.0,409.7 176.0,408.6 178.0,407.4 179.9,406.2 181.9,405.0 183.7,403.6 185.5,402.2 187.3,400.8 189.2,399.4 191.1,398.1 193.0,396.9 194.9,395.6 196.6,394.0 197.6,392.0 198.7,389.9 199.8,387.9 200.7,385.8 201.4,383.6 202.1,381.4 202.7,379.2 203.3,377.0 203.9,374.7 204.4,372.5 204.9,370.3 205.5,368.0 206.1,365.8 207.0,363.7 208.0,361.6 208.7,359.5 209.2,357.2 209.8,355.0 210.5,352.8 211.2,350.6 211.8,348.4 212.5,346.2 213.2,344.0 213.9,341.8 214.7,339.6 215.5,337.5 216.3,335.3 217.0,333.2 217.8,331.0 218.6,328.8 219.4,326.7 220.1,324.5 220.8,322.3 221.6,320.1 222.3,317.9 223.1,315.8 223.9,313.6 224.8,311.5 225.7,309.4 226.7,307.3 227.6,305.2 228.6,303.1 229.6,301.1 230.8,299.1 232.0,297.1 233.4,295.3 234.9,293.6 236.6,292.0 238.3,290.4 240.0,288.9 241.8,287.4 243.6,286.0 245.5,284.7 247.5,283.7 249.6,282.7 251.7,281.8 253.9,281.0 256.0,280.2 258.2,279.4 260.4,278.6 262.5,277.9 264.7,277.1 266.9,276.4 269.0,275.6 271.2,274.8 273.4,274.0 275.5,273.3 277.7,272.6 279.9,271.9 282.1,271.3 284.4,270.6 286.6,270.0 288.8,269.4 291.0,268.9 293.3,268.3 295.5,267.8 297.8,267.3 300.0,267.0 302.3,266.6 304.6,266.3" fill="none" stroke="none" stroke-width="0" marker-start="url(#dmee11ee)" marker-mid="url(#dmee11ee)" marker-end="url(#dmee11ee)"/>
<path d="M155.3,418.5 156.8,418.1 158.2,417.6 159.6,417.1 161.0,416.5 162.4,415.9 163.7,415.3 165.1,414.7 166.5,414.1 167.8,413.4 169.1,412.6 170.4,411.8 171.6,411.1 172.9,410.3 174.2,409.6 175.6,408.8 176.9,408.1 178.2,407.3 179.4,406.6 180.7,405.8 181.9,404.9 183.2,404.0 184.3,403.1 185.5,402.2 186.7,401.3 187.9,400.4 189.1,399.5 190.3,398.6 191.6,397.8 192.9,397.0 194.1,396.2 195.3,395.3 196.4,394.2 197.2,393.0" fill="none" stroke="#ee11ee" stroke-width="3.6" stroke-linejoin="round" stroke-linecap="round"/>
<path d="M305.0,266.2 303.5,266.4 302.1,266.6 300.6,266.9 299.1,267.1 297.6,267.4 296.1,267.7 294.7,268.0 293.2,268.3 291.8,268.7 290.3,269.1 288.9,269.4 287.4,269.8 286.0,270.2 284.5,270.6 283.1,271.0 281.6,271.4 280.2,271.8 278.7,272.3 277.3,272.7 275.9,273.2 274.5,273.7 273.0,274.2 271.6,274.7 270.2,275.2 268.8,275.7 267.4,276.2 266.0,276.7 264.6,277.2 263.2,277.7 261.7,278.2 260.3,278.6 258.9,279.1 257.5,279.6 256.1,280.2 254.7,280.7 253.3,281.3 251.9,281.9 250.6,282.5 249.2,283.1 247.8,283.7 246.4,284.3 245.0,284.8 243.6,285.3 242.2,285.8 240.7,286.2 239.3,286.6 237.9,287.0 236.4,287.5 235.0,287.9 233.6,288.4 232.1,288.8 230.7,289.3 229.3,289.9 227.9,290.4 226.5,291.0 225.2,291.6 223.8,292.1 222.4,292.7 221.0,293.2 219.6,293.8 218.2,294.4 216.8,295.0 215.5,295.6 214.1,296.3 212.8,297.0 211.5,297.8 210.2,298.5 208.9,299.3 207.7,300.1 206.4,300.9 205.1,301.7 203.8,302.5 202.6,303.3 201.3,304.0 200.0,304.8 198.7,305.6 197.5,306.4 196.3,307.3 195.2,308.4 194.3,309.6 193.4,310.8 192.7,312.1 192.1,313.5 191.6,314.9 191.1,316.3 190.6,317.7 190.0,319.1 189.5,320.5 189.0,321.9 188.5,323.3 188.0,324.8 187.5,326.2 187.1,327.6 186.6,329.0 186.2,330.5 185.7,331.9 185.3,333.3 184.9,334.8 184.4,336.2 184.0,337.6 183.5,339.1 183.1,340.5 182.7,341.9 182.2,343.4 181.8,344.8 181.3,346.2 180.8,347.7 180.4,349.1 179.9,350.5 179.4,351.9 178.9,353.3 178.4,354.7 177.9,356.2 177.4,357.6 176.9,359.0 176.5,360.4 176.0,361.9 175.6,363.3 175.2,364.8 174.9,366.2 174.5,367.7 174.2,369.1 173.8,370.6 173.5,372.1 173.1,373.5 172.7,375.0 172.3,376.4 171.9,377.8 171.4,379.3 171.0,380.7 170.6,382.1 170.1,383.6 169.6,385.0 169.2,386.4 168.7,387.8 168.2,389.3 167.7,390.7" fill="none" stroke="#118811" stroke-width="2.0" stroke-linejoin="round"/>
<path d="M305.0,266.2 302.7,266.5 300.5,266.9 298.2,267.3 295.9,267.7 293.7,268.2 291.5,268.8 289.2,269.3 287.0,269.9 284.8,270.5 282.6,271.1 280.4,271.8 278.2,272.5 276.0,273.2 273.8,273.9 271.6,274.7 269.5,275.4 267.3,276.2 265.1,277.0 263.0,277.7 260.8,278.5 258.6,279.2 256.5,280.0 254.3,280.9 252.2,281.8 250.1,282.7 248.0,283.7 245.9,284.5 243.7,285.3 241.5,286.0 239.3,286.6 237.1,287.2 234.9,287.9 232.7,288.6 230.5,289.4 228.4,290.2 226.3,291.1 224.1,292.0 222.0,292.8 219.9,293.7 217.7,294.6 215.6,295.5 213.6,296.6 211.6,297.7 209.6,298.9 207.7,300.1 205.7,301.3 203.8,302.5 201.8,303.7 199.9,304.9 197.9,306.2 196.1,307.5 194.5,309.2 193.2,311.1 192.3,313.2 191.4,315.4 190.6,317.5 189.8,319.7 189.0,321.8 188.2,324.0 187.5,326.2 186.8,328.4 186.1,330.6 185.5,332.8 184.8,335.0 184.1,337.2 183.5,339.4 182.8,341.6 182.1,343.8 181.4,346.0 180.7,348.1 179.9,350.3 179.2,352.5 178.4,354.6 177.7,356.8 176.9,359.0 176.3,361.2 175.6,363.4 175.0,365.6 174.5,367.9 173.9,370.1 173.4,372.3 172.8,374.6 172.2,376.8 171.5,379.0 170.9,381.2 170.2,383.4 169.5,385.6 168.7,387.7 168.0,389.9" fill="none" stroke="none" stroke-width="0" marker-start="url(#dm118811)" marker-mid="url(#dm118811)" marker-end="url(#dm118811)"/>
<path d="M167.3,391.9 167.6,390.5 168.3,389.2 169.6,388.5 171.1,388.3 172.5,387.8 173.8,387.0 175.1,386.2 176.3,385.4 177.6,384.5 178.8,383.6 179.9,382.7 181.1,381.7 182.2,380.8 183.3,379.7 184.4,378.7 185.5,377.6 186.5,376.6 187.6,375.5 188.6,374.4 189.7,373.4 190.8,372.4 192.0,371.4 193.1,370.5 194.4,369.6 195.6,368.7 196.7,367.8 197.9,366.8 198.8,365.6 199.5,364.3 200.0,362.9 200.6,361.5 201.1,360.1 201.5,358.6 202.0,357.2 202.4,355.8 202.9,354.3 203.3,352.9 203.8,351.5 204.2,350.0 204.7,348.6 205.1,347.2 205.5,345.7 206.0,344.3 206.4,342.9 206.8,341.4 207.3,340.0 207.7,338.6 208.1,337.1 208.5,335.7 208.9,334.2 209.3,332.8 209.8,331.4 210.1,329.9 210.5,328.5 210.9,327.0 211.3,325.6 211.7,324.1 212.1,322.7 212.6,321.2 213.0,319.8 213.5,318.4 214.1,317.0 214.6,315.6 215.2,314.2 215.7,312.8 216.4,311.5 217.0,310.1 217.7,308.8 218.5,307.5 219.2,306.2 220.0,304.9 220.8,303.6 221.6,302.4 222.4,301.1 223.3,299.9 224.2,298.7 225.1,297.5 226.1,296.4 227.2,295.3 228.3,294.3 229.4,293.4 230.6,292.4 231.9,291.6 233.2,290.9 234.6,290.3 235.9,289.7 237.3,289.1 238.6,288.4 240.0,287.7 241.3,286.9 242.6,286.2 243.9,285.5 245.2,284.8 246.6,284.2 248.0,283.6 249.3,282.9 250.7,282.3 252.1,281.8 253.5,281.2 254.9,280.6 256.3,280.1 257.7,279.6 259.1,279.1 260.5,278.6 261.9,278.1 263.3,277.6 264.8,277.1 266.2,276.6 267.6,276.1 269.0,275.6 270.4,275.1 271.8,274.6 273.2,274.1 274.7,273.6 276.1,273.1 277.5,272.7 278.9,272.2 280.4,271.8 281.8,271.4 283.3,271.0 284.7,270.6 286.1,270.2 287.6,269.8 289.0,269.4 290.5,269.0 292.0,268.6 293.4,268.3 294.9,267.9 296.3,267.6 297.8,267.3 299.3,267.1 300.8,266.8 302.3,266.6 303.7,266.4" fill="none" stroke="#118811" stroke-width="2.0" stroke-linejoin="round"/>
<path d="M167.3,391.9 167.9,389.7 169.7,388.5 172.0,388.0 174.0,386.9 175.9,385.7 177.8,384.3 179.6,382.9 181.4,381.5 183.1,379.9 184.8,378.3 186.4,376.7 188.0,375.1 189.6,373.5 191.3,371.9 193.1,370.5 195.0,369.1 196.8,367.7 198.5,366.1 199.6,364.1 200.4,361.9 201.2,359.8 201.9,357.6 202.6,355.4 203.2,353.2 203.9,351.0 204.6,348.8 205.3,346.6 205.9,344.4 206.6,342.2 207.3,340.0 207.9,337.8 208.5,335.6 209.2,333.4 209.8,331.2 210.4,328.9 211.0,326.7 211.6,324.5 212.2,322.3 212.9,320.1 213.7,317.9 214.5,315.8 215.4,313.6 216.3,311.5 217.4,309.5 218.5,307.5 219.6,305.5 220.8,303.5 222.1,301.6 223.4,299.7 224.8,297.9 226.3,296.2 228.0,294.6 229.8,293.1 231.6,291.8 233.6,290.7 235.8,289.8 237.8,288.8 239.9,287.7 241.9,286.6 243.9,285.5 246.0,284.5 248.1,283.5 250.2,282.6 252.3,281.7 254.4,280.8 256.6,280.0 258.7,279.2 260.9,278.5 263.1,277.7 265.2,277.0 267.4,276.2 269.6,275.4 271.7,274.6 273.9,273.9 276.1,273.1 278.3,272.4 280.5,271.8 282.7,271.1 284.9,270.5 287.1,269.9 289.3,269.3 291.6,268.7 293.8,268.2 296.0,267.7 298.3,267.2 300.6,266.9 302.8,266.5" fill="none" stroke="none" stroke-width="0" marker-start="url(#dm118811)" marker-mid="url(#dm118811)" marker-end="url(#dm118811)"/>
<path d="M167.3,391.9 167.6,390.5 168.3,389.2 169.6,388.5 171.1,388.3 172.5,387.8 173.8,387.0 175.1,386.2 176.3,385.4 177.6,384.5 178.8,383.6 179.9,382.7 181.1,381.7 182.2,380.8 183.3,379.7 184.4,378.7 185.5,377.6 186.5,376.6 187.6,375.5 188.6,374.4 189.7,373.4 190.8,372.4 192.0,371.4 193.1,370.5 194.4,369.6 195.6,368.7 196.7,367.8 197.9,366.8 198.8,365.6" fill="none" stroke="#118811" stroke-width="3.6" stroke-linejoin="round" stroke-linecap="round"/>
<path d="M305.0,266.2 303.5,266.4 302.1,266.6 300.6,266.9 299.1,267.1 297.6,267.4 296.1,267.7 294.7,268.0 293.2,268.3 291.8,268.7 290.3,269.1 288.9,269.4 287.4,269.8 286.0,270.2 284.5,270.6 283.1,271.0 281.6,271.4 280.2,271.8 278.7,272.3 277.3,272.7 275.9,273.2 274.5,273.7 273.0,274.2 271.6,274.7 270.2,275.2 268.8,275.7 267.4,276.2 266.0,276.7 264.6,277.2 263.2,277.7 261.7,278.2 260.3,278.6 258.9,279.1 257.5,279.6 256.1,280.2 254.7,280.7 253.3,281.3 251.9,281.9 250.6,282.5 249.2,283.1 247.8,283.7 246.4,284.3 245.0,284.8 243.6,285.3 242.2,285.8 240.7,286.2 239.3,286.6 237.9,287.0 236.4,287.5 235.0,287.9 233.6,288.4 232.1,288.8 230.7,289.3 229.3,289.9 227.9,290.4 226.5,291.0 225.2,291.6 223.8,292.1 222.4,292.7 221.0,293.2 219.6,293.8 218.2,294.4 216.8,295.0 215.5,295.6 214.1,296.3 212.8,297.0 211.5,297.8 210.2,298.5 208.9,299.3 207.7,300.1 206.4,300.9 205.1,301.7 203.8,302.5 202.6,303.3 201.3,304.0 200.0,304.8 198.7,305.6 197.5,306.4 196.3,307.3 195.2,308.4 194.3,309.6 193.4,310.8 192.7,312.1 192.1,313.5 191.6,314.9 191.1,316.3 190.6,317.7 190.0,319.1 189.5,320.5 189.0,321.9 188.5,323.3 188.0,324.8 187.5,326.2 187.1,327.6 186.6,329.0 186.2,330.5 185.7,331.9 185.3,333.3 184.9,334.8 184.4,336.2 184.0,337.6 183.5,339.1 183.1,340.5 182.7,341.9" fill="none" stroke="#0b0b80" stroke-width="2.0" stroke-linejoin="round"/>
<path d="M305.0,266.2 302.7,266.5 300.5,266.9 298.2,267.3 295.9,267.7 293.7,268.2 291.5,268.8 289.2,269.3 287.0,269.9 284.8,270.5 282.6,271.1 280.4,271.8 278.2,272.5 276.0,273.2 273.8,273.9 271.6,274.7 269.5,275.4 267.3,276.2 265.1,277.0 263.0,277.7 260.8,278.5 258.6,279.2 256.5,280.0 254.3,280.9 252.2,281.8 250.1,282.7 248.0,283.7 245.9,284.5 243.7,285.3 241.5,286.0 239.3,286.6 237.1,287.2 234.9,287.9 232.7,288.6 230.5,289.4 228.4,290.2 226.3,291.1 224.1,292.0 222.0,292.8 219.9,293.7 217.7,294.6 215.6,295.5 213.6,296.6 211.6,297.7 209.6,298.9 207.7,300.1 205.7,301.3 203.8,302.5 201.8,303.7 199.9,304.9 197.9,306.2 196.1,307.5 194.5,309.2 193.2,311.1 192.3,313.2 191.4,315.4 190.6,317.5 189.8,319.7 189.0,321.8 188.2,324.0 187.5,326.2 186.8,328.4 186.1,330.6 185.5,332.8 184.8,335.0 184.1,337.2 183.5,339.4 182.8,341.6" fill="none" stroke="none" stroke-width="0" marker-start="url(#dm0b0b80)" marker-mid="url(#dm0b0b80)" marker-end="url(#dm0b0b80)"/>
<path d="M182.5,342.4 183.7,341.4 184.8,340.4 186.0,339.5 187.2,338.6 188.5,337.8 189.7,337.0 191.0,336.3 192.4,335.6 193.7,334.9 195.0,334.2 196.3,333.4 197.2,332.2 198.0,330.9 198.7,329.6 199.4,328.3 200.0,326.9 200.6,325.5 201.2,324.2 201.8,322.8 202.4,321.4 203.0,320.0 203.5,318.6 204.1,317.2 204.7,315.8 205.3,314.5 206.0,313.2 206.8,311.9 207.6,310.6 208.4,309.4 209.3,308.2 210.3,307.0 211.2,305.8 212.2,304.7 213.2,303.6 214.3,302.5 215.4,301.5 216.5,300.5 217.6,299.5 218.9,298.7 220.1,297.9 221.4,297.1 222.7,296.3 224.0,295.5 225.3,294.8 226.6,294.0 227.9,293.4 229.3,292.7 230.6,292.1 232.0,291.5 233.4,290.9 234.7,290.3 236.1,289.7 237.5,289.1 238.9,288.5 240.3,287.9 241.6,287.3 242.9,286.5 244.1,285.6 245.4,284.8 246.7,284.1 248.1,283.5 249.4,282.9 250.8,282.3 252.2,281.7 253.6,281.1 255.0,280.6 256.4,280.1 257.8,279.5 259.2,279.0 260.6,278.5 262.0,278.1 263.5,277.6 264.9,277.1 266.3,276.6 267.7,276.1 269.1,275.6 270.5,275.1 271.9,274.5 273.3,274.0 274.8,273.6 276.2,273.1 277.6,272.6 279.1,272.2 280.5,271.8 281.9,271.3 283.4,270.9 284.8,270.5 286.3,270.1 287.7,269.7 289.2,269.3 290.6,269.0 292.1,268.6 293.5,268.2 295.0,267.9 296.5,267.6 297.9,267.3 299.4,267.1 300.9,266.8 302.4,266.6 303.9,266.4" fill="none" stroke="#0b0b80" stroke-width="2.0" stroke-linejoin="round"/>
<path d="M182.5,342.4 184.3,340.9 186.1,339.4 187.9,338.1 189.9,336.9 191.9,335.8 194.0,334.8 196.0,333.6 197.5,331.9 198.6,329.9 199.6,327.8 200.5,325.7 201.5,323.6 202.4,321.5 203.3,319.4 204.1,317.2 205.0,315.1 206.1,313.1 207.3,311.1 208.6,309.2 209.9,307.4 211.4,305.6 213.0,303.9 214.6,302.3 216.2,300.7 218.0,299.2 219.9,298.0 221.9,296.7 223.9,295.6 225.9,294.4 227.9,293.4 230.0,292.4 232.1,291.4 234.2,290.5 236.3,289.6 238.4,288.7 240.5,287.8 242.5,286.7 244.4,285.4 246.4,284.3 248.5,283.3 250.6,282.4 252.8,281.5 254.9,280.6 257.0,279.8 259.2,279.0 261.4,278.3 263.6,277.5 265.7,276.8 267.9,276.0 270.1,275.2 272.2,274.4 274.4,273.7 276.6,273.0 278.8,272.3 281.0,271.6 283.2,271.0 285.4,270.4 287.6,269.8 289.8,269.2 292.1,268.6 294.3,268.1 296.5,267.6 298.8,267.2 301.1,266.8 303.4,266.5" fill="none" stroke="none" stroke-width="0" marker-start="url(#dm0b0b80)" marker-mid="url(#dm0b0b80)" marker-end="url(#dm0b0b80)"/>
<path d="M182.5,342.4 183.7,341.4 184.8,340.4 186.0,339.5 187.2,338.6 188.5,337.8 189.7,337.0 191.0,336.3 192.4,335.6 193.7,334.9 195.0,334.2 196.3,333.4 197.2,332.2 198.0,330.9" fill="none" stroke="#0b0b80" stroke-width="3.6" stroke-linejoin="round" stroke-linecap="round"/>
</g>
<path d="M305.0,266.2 303.5,266.4 302.1,266.6 300.6,266.9 299.1,267.1 297.6,267.4 296.1,267.7 294.7,268.0 293.2,268.3 291.8,268.7 290.3,269.1 288.9,269.4 287.4,269.8 286.0,270.2 284.5,270.6 283.1,271.0 281.6,271.4 280.2,271.8 278.7,272.3 277.3,272.7 275.9,273.2 274.5,273.7 273.0,274.2 271.6,274.7 270.2,275.2 268.8,275.7 267.4,276.2 266.0,276.7 264.6,277.2 263.2,277.7 261.7,278.2 260.3,278.6 258.9,279.1 257.5,279.6 256.1,280.2 254.7,280.7 253.3,281.3 251.9,281.9 250.6,282.5 249.2,283.1 247.8,283.7 246.4,284.3 245.0,284.8 243.6,285.3 242.2,285.8 240.7,286.2 239.3,286.6 237.9,287.0 236.4,287.5 235.0,287.9 233.6,288.4 232.1,288.8 230.7,289.3 229.3,289.9 227.9,290.4 226.5,291.0 225.2,291.6 223.8,292.1 222.4,292.7 221.0,293.2 219.6,293.8 218.2,294.4 216.8,295.0 215.5,295.6 214.1,296.3 212.8,297.0 211.5,297.8 210.2,298.5 208.9,299.3 207.7,300.1 206.4,300.9 205.1,301.7 203.8,302.5 202.6,303.3 201.3,304.0 200.0,304.8 198.7,305.6 197.5,306.4 196.3,307.3" fill="none" stroke="#0b0b80" stroke-width="3.6" stroke-linejoin="round" stroke-linecap="round"/>
<path d="M196.1,307.4 195.1,308.6 194.2,309.7 193.3,311.0 192.6,312.3 192.1,313.7 191.5,315.1 191.0,316.5 190.5,317.9 190.0,319.3 189.4,320.7 188.9,322.1 188.4,323.5 187.9,324.9 187.5,326.4 187.0,327.8 186.6,329.2 186.1,330.7 185.7,332.1 185.2,333.5 184.8,335.0 184.4,336.4 183.9,337.8 183.5,339.3 183.0,340.7 182.6,342.1" fill="none" stroke="#0b0b80" stroke-width="3.0" stroke-linejoin="round" stroke-linecap="round"/>
<path d="M182.5,342.4 183.7,341.4 184.8,340.4 186.0,339.5 187.2,338.6 188.5,337.8 189.7,337.0 191.0,336.3 192.4,335.6 193.7,334.9 195.0,334.2 196.3,333.3 197.2,332.2 198.0,330.9" fill="none" stroke="#0b0b80" stroke-width="3.0" stroke-linejoin="round" stroke-linecap="round"/>
<g clip-path="url(#clipd)">
<path d="M843.7,241.5 841.7,241.6 839.7,241.7 837.7,241.9 835.7,242.0 833.7,242.1 831.7,242.3 829.7,242.4 827.7,242.6 825.7,242.7 823.8,242.9 821.8,243.1 819.8,243.3 817.8,243.5 815.8,243.7 813.8,243.9 811.8,244.1 809.8,244.3 807.8,244.6 805.9,244.8 803.9,245.0 801.9,245.3 799.9,245.5 797.9,245.8 795.9,246.0 793.9,246.3 792.0,246.5 790.0,246.8 788.0,247.0 786.0,247.3 784.0,247.5 782.0,247.8 780.1,248.1 778.1,248.3 776.1,248.6 774.1,248.9 772.1,249.2 770.2,249.5 768.2,249.7 766.2,250.0 764.2,250.3 762.2,250.6 760.3,250.9 758.3,251.3 756.3,251.6 754.3,251.9 752.4,252.2 750.4,252.6 748.4,252.9 746.5,253.2 744.5,253.6 742.5,253.9 740.5,254.3 738.6,254.6 736.6,254.9 734.6,255.2 732.7,255.6 730.7,255.9 728.7,256.2 726.7,256.5 724.8,256.8 722.8,257.1 720.8,257.4 718.8,257.8 716.9,258.1 714.9,258.4 712.9,258.7 710.9,259.1 709.0,259.4 707.0,259.8 705.0,260.2 703.1,260.6 701.1,261.0 699.2,261.4 697.2,261.8 695.2,262.2 693.3,262.6 691.3,263.0 689.4,263.4 687.4,263.8 685.4,264.2 683.5,264.6 681.5,264.9 679.5,265.3 677.6,265.6 675.6,265.9 673.6,266.2 671.6,266.5 669.7,266.7 667.7,267.0 665.7,267.3 663.7,267.5 661.7,267.8 659.7,268.1 657.8,268.4 655.8,268.6 653.8,268.9 651.8,269.2 649.8,269.5 647.9,269.8 645.9,270.1 643.9,270.4 641.9,270.7 640.0,271.1 638.0,271.4 636.0,271.8 634.1,272.1 632.1,272.5 630.1,272.9 628.2,273.3 626.2,273.6 624.2,274.0 622.3,274.4 620.3,274.8 618.4,275.2 616.4,275.5 614.4,275.9 612.4,276.2 610.5,276.6 608.5,277.0 606.6,277.3 604.6,277.7 602.6,278.1 600.7,278.6 598.7,279.0 596.8,279.5 594.8,280.0 592.9,280.4 591.0,281.0 589.0,281.5 587.1,282.0 585.2,282.5 583.3,283.1 581.3,283.6 579.4,284.1 577.5,284.7 575.5,285.2 573.6,285.8 571.7,286.3 569.8,286.9 567.9,287.5 565.9,288.0 564.0,288.6 562.1,289.2 560.2,289.7 558.3,290.3 556.3,290.8 554.4,291.4 552.5,291.9 550.6,292.5 548.7,293.1 546.8,293.7 544.9,294.5 543.2,295.4 541.4,296.4 539.7,297.4 538.1,298.5 536.5,299.9 535.2,301.3 533.9,302.8 532.6,304.4 531.4,306.0 530.1,307.5 528.9,309.1 527.6,310.6 526.4,312.2 525.1,313.8 523.9,315.4 522.8,317.0 521.6,318.6 520.5,320.3 519.4,322.0 518.3,323.6 517.2,325.3 516.1,327.0 515.0,328.6 513.9,330.3 512.8,332.0 511.7,333.7 510.6,335.3 509.5,337.0 508.4,338.7 507.3,340.4 506.2,342.0 505.1,343.7 503.9,345.3 502.8,346.9 501.6,348.5 500.4,350.1 499.1,351.7 497.9,353.3 496.7,354.9 495.6,356.5 494.4,358.1 493.2,359.8 492.1,361.4 491.0,363.1 489.9,364.8 488.9,366.5 487.9,368.2 487.0,370.0 486.1,371.8 485.2,373.6 484.3,375.4 483.3,377.1 482.4,378.9 481.4,380.6 480.3,382.3 479.3,384.0 478.2,385.7 477.1,387.4 476.0,389.0 474.9,390.7 473.7,392.3 472.6,394.0 471.5,395.6 470.3,397.3 469.1,398.8 467.9,400.4 466.7,402.1 465.6,403.7 464.6,405.5 463.6,407.2 462.5,408.8 461.3,410.4 460.1,412.0 458.8,413.6 457.6,415.2 456.3,416.7 455.0,418.3 453.7,419.8 452.4,421.3 451.1,422.8 449.7,424.2 448.3,425.6 446.9,427.0 445.4,428.4 443.9,429.7 442.3,431.0 440.7,432.2 439.1,433.3 437.4,434.4 435.6,435.4 433.9,436.3 432.1,437.2 430.3,438.0 428.4,438.8 426.6,439.6 424.7,440.3 422.8,441.0 421.0,441.6 419.1,442.2 417.1,442.8 415.2,443.3 413.3,443.8 411.3,444.3 409.4,444.8 407.5,445.4 405.5,445.9 403.6,446.4 401.7,446.9 399.7,447.4 397.8,447.9 395.8,448.3 393.9,448.7 391.9,449.0 389.9,449.4 388.0,449.7 386.0,450.1 384.0,450.4 382.0,450.7 380.1,451.1 378.1,451.4 376.1,451.7 374.2,452.0 372.2,452.3 370.2,452.6 368.2,453.0 366.2,453.3 364.3,453.6 362.3,453.8 360.3,454.1 358.3,454.4 356.4,454.7 354.4,455.0 352.4,455.3 350.4,455.5 348.4,455.8 346.4,456.0 344.5,456.3 342.5,456.5 340.5,456.8 338.5,457.0 336.5,457.3 334.5,457.5 332.5,457.8 330.6,458.0 328.6,458.3 326.6,458.5 324.6,458.8 322.6,459.0 320.6,459.3 318.7,459.6 316.7,459.9 314.7,460.2 312.7,460.5 310.8,460.8 308.8,461.1 306.8,461.4 304.8,461.8 302.9,462.1 300.9,462.4 298.9,462.8 297.0,463.1 295.0,463.5 293.0,463.8 291.0,464.1 289.1,464.4 287.1,464.8 285.1,465.1 283.1,465.4 281.2,465.7 279.2,466.0 277.2,466.2 275.2,466.5 273.2,466.8 271.3,467.1 269.3,467.4 267.3,467.7 265.3,467.9 263.3,468.2 261.4,468.5 259.4,468.8 257.4,469.0 255.4,469.3 253.4,469.6 251.5,469.9 249.5,470.1 247.5,470.4 245.5,470.7 243.5,471.0" fill="none" stroke="#000000" stroke-width="1.2"/>
<path d="M843.7,241.5 840.0,241.7 836.3,242.0 832.6,242.2 828.9,242.5 825.2,242.8 821.5,243.1 817.8,243.5 814.1,243.9 810.4,244.3 806.7,244.7 803.0,245.1 799.3,245.6 795.6,246.1 791.9,246.5 788.2,247.0 784.5,247.5 780.8,248.0 777.1,248.5 773.4,249.0 769.7,249.5 766.0,250.1 762.3,250.6 758.6,251.2 754.9,251.8 751.2,252.4 747.5,253.1 743.8,253.7 740.1,254.3 736.4,254.9 732.7,255.5 729.0,256.1 725.3,256.7 721.6,257.3 717.9,257.9 714.2,258.5 710.5,259.2 706.8,259.8 703.1,260.5 699.4,261.3 695.7,262.1 692.0,262.9 688.3,263.6 684.6,264.4 680.9,265.0 677.2,265.7 673.5,266.2 669.8,266.7 666.1,267.2 662.4,267.7 658.7,268.2 655.0,268.8 651.3,269.3 647.6,269.9 643.9,270.4 640.2,271.0 636.5,271.7 632.8,272.4 629.1,273.1 625.4,273.8 621.7,274.5 618.0,275.2 614.3,275.9 610.6,276.6 606.9,277.3 603.2,278.0 599.5,278.8 595.8,279.7 592.1,280.7 588.4,281.6 584.7,282.7 581.0,283.7 577.3,284.7 573.6,285.8 569.9,286.9 566.2,288.0 562.5,289.0 558.8,290.1 555.1,291.2 551.4,292.3 547.7,293.4 544.0,295.0 540.3,297.0 536.6,299.8 532.9,304.1 529.2,308.6 525.5,313.3 521.8,318.4 518.1,323.9 514.4,329.6 510.7,335.2 507.0,340.8 503.3,346.2 499.6,351.1 495.9,356.0 492.2,361.3 488.5,367.2 484.8,374.3 481.1,381.1 477.4,386.9 473.7,392.4 470.0,397.6 466.3,402.6 462.6,408.6 458.9,413.5 455.2,418.1 451.5,422.3 447.8,426.1 444.1,429.6 440.4,432.4 436.7,434.8 433.0,436.7 429.3,438.4 425.6,440.0 421.9,441.3 418.2,442.5 414.5,443.5 410.8,444.5 407.1,445.5 403.4,446.5 399.7,447.4 396.0,448.2 392.3,448.9 388.6,449.6 384.9,450.3 381.2,450.9 377.5,451.5 373.8,452.1 370.1,452.7 366.4,453.2 362.7,453.8 359.0,454.3 355.3,454.9 351.6,455.4 347.9,455.8 344.2,456.3 340.5,456.8 336.8,457.2 333.1,457.7 329.4,458.2 325.7,458.6 322.0,459.1 318.3,459.6 314.6,460.2 310.9,460.8 307.2,461.4 303.5,462.0 299.8,462.6 296.1,463.3 292.4,463.9 288.7,464.5 285.0,465.1 281.3,465.6 277.6,466.2 273.9,466.7 270.2,467.2 266.5,467.8 262.8,468.3 259.1,468.8 255.4,469.3 251.7,469.8 248.0,470.3 244.3,470.9" fill="none" stroke="none" stroke-width="0" marker-start="url(#sq000000)" marker-mid="url(#sq000000)" marker-end="url(#sq000000)"/>
<path d="M242.4,471.1 244.4,470.9 246.3,470.6 248.3,470.4 250.3,470.2 252.3,469.9 254.3,469.7 256.3,469.4 258.3,469.2 260.2,469.0 262.2,468.7 264.2,468.5 266.2,468.2 268.2,468.0 270.2,467.8 272.1,467.5 274.1,467.3 276.1,467.0 278.1,466.8 280.1,466.5 282.1,466.2 284.0,466.0 286.0,465.7 288.0,465.4 290.0,465.1 292.0,464.8 293.9,464.5 295.9,464.2 297.9,463.9 299.9,463.6 301.8,463.3 303.8,462.9 305.8,462.6 307.8,462.3 309.7,462.0 311.7,461.7 313.7,461.5 315.7,461.2 317.7,460.9 319.6,460.6 321.6,460.4 323.6,460.1 325.6,459.9 327.6,459.6 329.6,459.4 331.6,459.2 333.5,458.9 335.5,458.7 337.5,458.4 339.5,458.2 341.5,458.0 343.5,457.7 345.5,457.5 347.4,457.3 349.4,457.0 351.4,456.8 353.4,456.5 355.4,456.3 357.4,456.0 359.3,455.7 361.3,455.5 363.3,455.2 365.3,454.9 367.3,454.6 369.3,454.3 371.2,454.1 373.2,453.8 375.2,453.5 377.2,453.2 379.1,452.9 381.1,452.6 383.1,452.3 385.1,452.0 387.1,451.7 389.0,451.4 391.0,451.2 393.0,450.9 395.0,450.7 397.0,450.5 399.0,450.3 401.0,450.2 403.0,450.1 405.0,450.0 407.0,449.8 408.9,449.5 410.9,449.2 412.9,449.0 414.9,448.7 416.9,448.4 418.8,448.0 420.8,447.7 422.8,447.4 424.7,447.1 426.7,446.8 428.7,446.4 430.7,446.1 432.6,445.8 434.6,445.4 436.6,445.1 438.6,444.7 440.5,444.4 442.5,444.0 444.5,443.7 446.4,443.3 448.4,443.0 450.4,442.6 452.3,442.2 454.3,441.8 456.3,441.5 458.2,441.1 460.2,440.7 462.1,440.3 464.1,439.9 466.1,439.5 468.0,439.1 470.0,438.7 471.9,438.3 473.9,437.9 475.9,437.5 477.8,437.1 479.8,436.7 481.7,436.3 483.7,435.9 485.6,435.4 487.6,435.0 489.6,434.6 491.5,434.2 493.5,433.8 495.4,433.3 497.4,432.9 499.3,432.4 501.2,431.9 503.2,431.4 505.1,430.9 507.0,430.4 509.0,429.9 510.9,429.3 512.8,428.7 514.7,428.2 516.6,427.6 518.6,427.0 520.5,426.4 522.4,425.8 524.3,425.2 526.2,424.6 528.1,424.1 530.0,423.5 531.9,422.9 533.9,422.3 535.8,421.8 537.7,421.2 539.6,420.6 541.5,420.0 543.4,419.3 545.3,418.6 547.1,417.9 548.9,416.9 550.5,415.7 552.1,414.5 553.6,413.2 555.1,411.8 556.4,410.3 557.6,408.8 558.8,407.2 559.9,405.5 561.0,403.8 562.0,402.1 563.1,400.4 564.2,398.7 565.3,397.0 566.4,395.4 567.5,393.7 568.6,392.1 569.8,390.5 571.0,388.8 572.1,387.2 573.3,385.6 574.5,384.0 575.6,382.3 576.8,380.7 578.0,379.1 579.1,377.4 580.2,375.8 581.3,374.1 582.4,372.4 583.5,370.8 584.6,369.1 585.7,367.4 586.8,365.7 587.9,364.1 589.0,362.4 590.1,360.7 591.3,359.1 592.4,357.5 593.6,355.9 594.8,354.3 596.0,352.7 597.2,351.1 598.4,349.5 599.5,347.8 600.7,346.2 601.8,344.5 602.9,342.8 603.9,341.1 605.0,339.4 606.1,337.7 607.1,336.1 608.2,334.4 609.3,332.7 610.4,331.0 611.5,329.4 612.6,327.7 613.7,326.0 614.8,324.3 615.9,322.7 617.0,321.0 618.1,319.3 619.3,317.7 620.5,316.1 621.7,314.6 623.0,313.0 624.2,311.4 625.5,309.9 626.7,308.3 628.0,306.8 629.3,305.2 630.6,303.7 631.9,302.2 633.3,300.7 634.6,299.3 636.0,297.8 637.4,296.4 638.8,295.0 640.2,293.6 641.7,292.2 643.1,290.8 644.5,289.4 645.9,287.9 647.3,286.5 648.8,285.2 650.3,283.8 651.8,282.5 653.4,281.3 655.0,280.2 656.7,279.1 658.4,278.1 660.2,277.1 661.9,276.2 663.7,275.2 665.5,274.3 667.3,273.4 669.0,272.5 670.8,271.5 672.4,270.4 674.0,269.2 675.6,267.9 677.3,266.8 679.0,265.9 680.9,265.2 682.8,264.6 684.7,264.0 686.7,263.6 688.6,263.2 690.6,262.8 692.6,262.4 694.5,262.0 696.5,261.6 698.5,261.3 700.4,260.9 702.4,260.6 704.4,260.3 706.3,259.9 708.3,259.6 710.3,259.2 712.3,258.9 714.2,258.5 716.2,258.2 718.2,257.9 720.1,257.6 722.1,257.2 724.1,256.9 726.1,256.6 728.0,256.3 730.0,256.0 732.0,255.7 734.0,255.3 735.9,255.0 737.9,254.7 739.9,254.4 741.9,254.0 743.8,253.7 745.8,253.4 747.8,253.0 749.8,252.7 751.7,252.4 753.7,252.0 755.7,251.7 757.6,251.4 759.6,251.1 761.6,250.7 763.6,250.4 765.5,250.1 767.5,249.8 769.5,249.5 771.5,249.3 773.5,249.0 775.4,248.7 777.4,248.4 779.4,248.2 781.4,247.9 783.4,247.6 785.4,247.4 787.3,247.1 789.3,246.9 791.3,246.6 793.3,246.3 795.3,246.1 797.3,245.8 799.2,245.6 801.2,245.4 803.2,245.1 805.2,244.9 807.2,244.6 809.2,244.4 811.2,244.2 813.1,244.0 815.1,243.7 817.1,243.5 819.1,243.3 821.1,243.1 823.1,243.0 825.1,242.8 827.1,242.6 829.1,242.5 831.1,242.3 833.1,242.2 835.1,242.0 837.1,241.9 839.0,241.8 841.0,241.6 843.0,241.5" fill="none" stroke="#000000" stroke-width="1.2"/>
<path d="M242.4,471.1 246.1,470.7 249.8,470.2 253.5,469.8 257.2,469.3 260.9,468.9 264.6,468.4 268.3,468.0 272.0,467.5 275.7,467.1 279.4,466.6 283.1,466.1 286.8,465.6 290.5,465.0 294.2,464.5 297.9,463.9 301.6,463.3 305.3,462.7 309.0,462.1 312.7,461.6 316.4,461.1 320.1,460.6 323.8,460.1 327.5,459.6 331.2,459.2 334.9,458.8 338.6,458.3 342.3,457.9 346.0,457.4 349.7,457.0 353.4,456.5 357.1,456.0 360.8,455.6 364.5,455.0 368.2,454.5 371.9,454.0 375.6,453.4 379.3,452.9 383.0,452.3 386.7,451.8 390.4,451.3 394.1,450.8 397.8,450.4 401.5,450.2 405.2,449.9 408.9,449.5 412.6,449.0 416.3,448.4 420.0,447.9 423.7,447.3 427.4,446.7 431.1,446.0 434.8,445.4 438.5,444.7 442.2,444.1 445.9,443.4 449.6,442.7 453.3,442.0 457.0,441.3 460.7,440.6 464.4,439.9 468.1,439.1 471.8,438.3 475.5,437.6 479.2,436.8 482.9,436.0 486.6,435.3 490.3,434.5 494.0,433.7 497.7,432.8 501.4,431.9 505.1,430.9 508.8,429.9 512.5,428.8 516.2,427.7 519.9,426.6 523.6,425.4 527.3,424.3 531.0,423.2 534.7,422.1 538.4,421.0 542.1,419.8 545.8,418.4 549.5,416.5 553.2,413.6 556.9,409.8 560.6,404.5 564.3,398.6 568.0,393.0 571.7,387.9 575.4,382.7 579.1,377.5 582.8,371.9 586.5,366.2 590.2,360.7 593.9,355.6 597.6,350.6 601.3,345.3 605.0,339.5 608.7,333.7 612.4,328.1 616.1,322.4 619.8,317.1 623.5,312.3 627.2,307.8 630.9,303.4 634.6,299.3 638.3,295.5 642.0,291.9 645.7,288.2 649.4,284.6 653.1,281.5 656.8,279.0 660.5,276.9 664.2,275.0 667.9,273.1 671.6,271.0 675.3,268.2 679.0,265.9 682.7,264.6 686.4,263.7 690.1,262.9 693.8,262.1 697.5,261.5 701.2,260.8 704.9,260.2 708.6,259.5 712.3,258.9 716.0,258.2 719.7,257.6 723.4,257.0 727.1,256.4 730.8,255.9 734.5,255.3 738.2,254.7 741.9,254.0 745.6,253.4 749.3,252.8 753.0,252.1 756.7,251.5 760.4,250.9 764.1,250.4 767.8,249.8 771.5,249.3 775.2,248.7 778.9,248.2 782.6,247.7 786.3,247.2 790.0,246.8 793.7,246.3 797.4,245.8 801.1,245.4 804.8,244.9 808.5,244.5 812.2,244.1 815.9,243.7 819.6,243.3 823.3,243.0 827.0,242.6 830.7,242.4 834.4,242.1 838.1,241.8 841.8,241.6" fill="none" stroke="none" stroke-width="0" marker-start="url(#sq000000)" marker-mid="url(#sq000000)" marker-end="url(#sq000000)"/>
<path d="M242.4,471.1 244.4,470.9 246.3,470.6 248.3,470.4 250.3,470.2 252.3,469.9 254.3,469.7 256.3,469.4 258.3,469.2 260.2,469.0 262.2,468.7 264.2,468.5 266.2,468.2 268.2,468.0 270.2,467.8 272.1,467.5 274.1,467.3 276.1,467.0 278.1,466.8 280.1,466.5 282.1,466.2 284.0,466.0 286.0,465.7 288.0,465.4 290.0,465.1 292.0,464.8 293.9,464.5 295.9,464.2 297.9,463.9 299.9,463.6 301.8,463.3 303.8,462.9 305.8,462.6 307.8,462.3 309.7,462.0 311.7,461.7 313.7,461.5 315.7,461.2 317.7,460.9 319.6,460.6 321.6,460.4 323.6,460.1 325.6,459.9 327.6,459.6 329.6,459.4 331.6,459.2 333.5,458.9 335.5,458.7 337.5,458.4 339.5,458.2 341.5,458.0 343.5,457.7 345.5,457.5 347.4,457.3 349.4,457.0 351.4,456.8 353.4,456.5 355.4,456.3 357.4,456.0 359.3,455.7 361.3,455.5 363.3,455.2 365.3,454.9 367.3,454.6 369.3,454.3 371.2,454.1 373.2,453.8 375.2,453.5 377.2,453.2 379.1,452.9 381.1,452.6 383.1,452.3 385.1,452.0 387.1,451.7 389.0,451.4 391.0,451.2 393.0,450.9 395.0,450.7 397.0,450.5 399.0,450.3 401.0,450.2 403.0,450.1 405.0,450.0 407.0,449.8 408.9,449.5 410.9,449.2 412.9,449.0 414.9,448.7 416.9,448.4 418.8,448.0 420.8,447.7 422.8,447.4 424.7,447.1 426.7,446.8 428.7,446.4 430.7,446.1 432.6,445.8 434.6,445.4 436.6,445.1 438.6,444.7 440.5,444.4 442.5,444.0 444.5,443.7 446.4,443.3 448.4,443.0 450.4,442.6 452.3,442.2 454.3,441.8 456.3,441.5 458.2,441.1 460.2,440.7 462.1,440.3 464.1,439.9 466.1,439.5 468.0,439.1 470.0,438.7 471.9,438.3 473.9,437.9 475.9,437.5 477.8,437.1 479.8,436.7 481.7,436.3 483.7,435.9 485.6,435.4 487.6,435.0 489.6,434.6 491.5,434.2 493.5,433.8 495.4,433.3 497.4,432.9 499.3,432.4 501.2,431.9 503.2,431.4 505.1,430.9 507.0,430.4 509.0,429.9 510.9,429.3 512.8,428.7 514.7,428.2 516.6,427.6 518.6,427.0 520.5,426.4 522.4,425.8 524.3,425.2 526.2,424.6 528.1,424.1 530.0,423.5 531.9,422.9 533.9,422.3 535.8,421.8 537.7,421.2 539.6,420.6 541.5,420.0 543.4,419.3 545.3,418.6 547.1,417.9 548.9,416.9 550.5,415.7" fill="none" stroke="#000000" stroke-width="4.2" stroke-linejoin="round" stroke-linecap="round"/>
<path d="M843.7,241.5 841.7,241.6 839.7,241.7 837.7,241.9 835.7,242.0 833.7,242.1 831.7,242.3 829.7,242.4 827.7,242.6 825.7,242.7 823.8,242.9 821.8,243.1 819.8,243.3 817.8,243.5 815.8,243.7 813.8,243.9 811.8,244.1 809.8,244.3 807.8,244.6 805.9,244.8 803.9,245.0 801.9,245.3 799.9,245.5 797.9,245.8 795.9,246.0 793.9,246.3 792.0,246.5 790.0,246.8 788.0,247.0 786.0,247.3 784.0,247.5 782.0,247.8 780.1,248.1 778.1,248.3 776.1,248.6 774.1,248.9 772.1,249.2 770.2,249.5 768.2,249.7 766.2,250.0 764.2,250.3 762.2,250.6 760.3,250.9 758.3,251.3 756.3,251.6 754.3,251.9 752.4,252.2 750.4,252.6 748.4,252.9 746.5,253.2 744.5,253.6 742.5,253.9 740.5,254.3 738.6,254.6 736.6,254.9 734.6,255.2 732.7,255.6 730.7,255.9 728.7,256.2 726.7,256.5 724.8,256.8 722.8,257.1 720.8,257.4 718.8,257.8 716.9,258.1 714.9,258.4 712.9,258.7 710.9,259.1 709.0,259.4 707.0,259.8 705.0,260.2 703.1,260.6 701.1,261.0 699.2,261.4 697.2,261.8 695.2,262.2 693.3,262.6 691.3,263.0 689.4,263.4 687.4,263.8 685.4,264.2 683.5,264.6 681.5,264.9 679.5,265.3 677.6,265.6 675.6,265.9 673.6,266.2 671.6,266.5 669.7,266.7 667.7,267.0 665.7,267.3 663.7,267.5 661.7,267.8 659.7,268.1 657.8,268.4 655.8,268.6 653.8,268.9 651.8,269.2 649.8,269.5 647.9,269.8 645.9,270.1 643.9,270.4 641.9,270.7 640.0,271.1 638.0,271.4 636.0,271.8 634.1,272.1 632.1,272.5 630.1,272.9 628.2,273.3 626.2,273.6 624.2,274.0 622.3,274.4 620.3,274.8 618.4,275.2 616.4,275.5 614.4,275.9 612.4,276.2 610.5,276.6 608.5,277.0 606.6,277.3 604.6,277.7 602.6,278.1 600.7,278.6 598.7,279.0 596.8,279.5 594.8,280.0 592.9,280.4 591.0,281.0 589.0,281.5 587.1,282.0 585.2,282.5 583.3,283.1 581.3,283.6 579.4,284.1 577.5,284.7 575.5,285.2 573.6,285.8 571.7,286.3 569.8,286.9 567.9,287.5 565.9,288.0 564.0,288.6 562.1,289.2 560.2,289.7 558.3,290.3 556.3,290.8 554.4,291.4 552.5,291.9 550.6,292.5 548.7,293.1 546.8,293.7 544.9,294.5 543.2,295.4 541.4,296.4 539.7,297.4 538.1,298.5 536.5,299.9 535.2,301.3 533.9,302.8 532.6,304.4 531.4,306.0 530.1,307.5 528.9,309.1 527.6,310.6 526.4,312.2 525.1,313.8 523.9,315.4 522.8,317.0 521.6,318.6 520.5,320.3 519.4,322.0 518.3,323.6 517.2,325.3 516.1,327.0 515.0,328.6 513.9,330.3 512.8,332.0 511.7,333.7 510.6,335.3 509.5,337.0 508.4,338.7 507.3,340.4 506.2,342.0 505.1,343.7 503.9,345.3 502.8,346.9 501.6,348.5 500.4,350.1 499.1,351.7 497.9,353.3 496.7,354.9 495.6,356.5 494.4,358.1 493.2,359.8 492.1,361.4 491.0,363.1 489.9,364.8 488.9,366.5 487.9,368.2 487.0,370.0 486.1,371.8 485.2,373.6 484.3,375.4 483.3,377.1 482.4,378.9 481.4,380.6 480.3,382.3 479.3,384.0 478.2,385.7 477.1,387.4 476.0,389.0 474.9,390.7 473.7,392.3 472.6,394.0 471.5,395.6 470.3,397.3 469.1,398.8 467.9,400.4 466.7,402.1 465.6,403.7 464.6,405.5 463.6,407.2 462.5,408.8 461.3,410.4 460.1,412.0 458.8,413.6 457.6,415.2 456.3,416.7 455.0,418.3 453.7,419.8 452.4,421.3 451.1,422.8 449.7,424.2 448.3,425.6 446.9,427.0 445.4,428.4 443.9,429.7 442.3,431.0 440.7,432.2 439.1,433.3 437.4,434.4 435.6,435.4 433.9,436.3 432.1,437.2 430.3,438.0 428.4,438.8 426.6,439.6 424.7,440.3 422.8,441.0 421.0,441.6 419.1,442.2 417.1,442.8 415.2,443.3 413.3,443.8 411.3,444.3 409.4,444.8 407.5,445.4 405.5,445.9 403.6,446.4 401.7,446.9 399.7,447.4 397.8,447.9 395.8,448.3 393.9,448.7 391.9,449.0 389.9,449.4 388.0,449.7 386.0,450.1 384.0,450.4 382.0,450.7 380.1,451.1 378.1,451.4 376.1,451.7 374.2,452.0 372.2,452.3 370.2,452.6 368.2,453.0 366.2,453.3 364.3,453.6 362.3,453.8 360.3,454.1 358.3,454.4 356.4,454.7 354.4,455.0 352.4,455.3 350.4,455.5 348.4,455.8 346.4,456.1 344.5,456.3 342.5,456.6 340.5,456.8 338.5,457.1 336.5,457.4 334.5,457.6 332.6,457.9 330.6,458.1 328.6,458.4 326.6,458.6 324.6,458.9 322.6,459.1 320.7,459.4 318.7,459.6" fill="none" stroke="#ee1111" stroke-width="1.2"/>
<path d="M843.7,241.5 839.4,241.8 835.7,242.0 832.0,242.3 828.3,242.5 824.6,242.8 820.9,243.2 817.2,243.5 813.5,243.9 809.8,244.3 806.1,244.8 802.4,245.2 798.7,245.7 795.0,246.1 791.3,246.6 787.6,247.1 783.9,247.6 780.2,248.1 776.5,248.6 772.8,249.1 769.1,249.6 765.4,250.2 761.7,250.7 758.0,251.3 754.3,251.9 750.6,252.5 746.9,253.2 743.2,253.8 739.5,254.4 735.8,255.0 732.1,255.6 728.4,256.2 724.7,256.8 721.0,257.4 717.3,258.0 713.6,258.6 709.9,259.3 706.2,260.0 702.5,260.7 698.8,261.4 695.1,262.2 691.4,263.0 687.7,263.8 684.0,264.5 680.3,265.2 676.6,265.8 672.9,266.3 669.2,266.8 665.5,267.3 661.8,267.8 658.1,268.3 654.4,268.9 650.7,269.4 647.0,270.0 643.3,270.5 639.6,271.1 635.9,271.8 632.2,272.5 628.5,273.2 624.8,273.9 621.1,274.6 617.4,275.3 613.7,276.0 610.0,276.7 606.3,277.4 602.6,278.1 598.9,279.0 595.2,279.9 591.5,280.8 587.8,281.8 584.1,282.8 580.4,283.9 576.7,284.9 573.0,286.0 569.3,287.0 565.6,288.1 561.9,289.2 558.2,290.3 554.5,291.4 550.8,292.4 547.1,293.6 543.4,295.3 539.7,297.4 536.0,300.4 532.3,304.9 528.6,309.4 524.9,314.1 521.2,319.3 517.5,324.9 513.8,330.5 510.1,336.2 506.4,341.8 502.7,347.0 499.0,351.9 495.3,356.9 491.6,362.2 487.9,368.3 484.2,375.5 480.5,382.1 476.8,387.9 473.1,393.3 469.4,398.4 465.7,403.6 462.0,409.5 458.3,414.3 454.6,418.8 450.9,422.9 447.2,426.7 443.5,430.1 439.8,432.8 436.1,435.1 432.4,437.0 428.7,438.7 425.0,440.2 421.3,441.5 417.6,442.7 413.9,443.7 410.2,444.6 406.5,445.6 402.8,446.7 399.1,447.6 395.4,448.4 391.7,449.1 388.0,449.7 384.3,450.4 380.6,451.0 376.9,451.6 373.2,452.2 369.5,452.8 365.8,453.3 362.1,453.9 358.4,454.4 354.7,454.9 351.0,455.5 347.3,456.0 343.6,456.4 339.9,456.9 336.2,457.4 332.5,457.9 328.8,458.3 325.1,458.8 321.4,459.3 317.7,459.7" fill="none" stroke="none" stroke-width="0" marker-start="url(#sqee1111)" marker-mid="url(#sqee1111)" marker-end="url(#sqee1111)"/>
<path d="M317.1,459.8 319.1,459.6 321.0,459.4 323.0,459.2 325.0,458.9 327.0,458.7 329.0,458.5 331.0,458.3 333.0,458.1 335.0,457.9 336.9,457.6 338.9,457.4 340.9,457.2 342.9,457.0 344.9,456.8 346.9,456.5 348.9,456.3 350.9,456.1 352.8,455.8 354.8,455.6 356.8,455.3 358.8,455.1 360.8,454.8 362.8,454.6 364.7,454.3 366.7,454.0 368.7,453.7 370.7,453.4 372.7,453.1 374.6,452.9 376.6,452.6 378.6,452.3 380.6,452.0 382.6,451.7 384.5,451.4 386.5,451.1 388.5,450.8 390.5,450.5 392.5,450.3 394.4,450.0 396.4,449.8 398.4,449.6 400.4,449.5 402.4,449.4 404.4,449.3 406.4,449.1 408.4,448.9 410.4,448.6 412.3,448.3 414.3,448.0 416.3,447.7 418.3,447.4 420.3,447.1 422.2,446.8 424.2,446.5 426.2,446.1 428.1,445.8 430.1,445.5 432.1,445.1 434.1,444.8 436.0,444.4 438.0,444.1 440.0,443.8 441.9,443.4 443.9,443.1 445.9,442.7 447.8,442.3 449.8,442.0 451.8,441.6 453.7,441.2 455.7,440.8 457.7,440.5 459.6,440.1 461.6,439.7 463.6,439.3 465.5,438.9 467.5,438.5 469.4,438.1 471.4,437.7 473.4,437.3 475.3,436.9 477.3,436.5 479.2,436.1 481.2,435.7 483.1,435.2 485.1,434.8 487.1,434.4 489.0,434.0 491.0,433.6 492.9,433.2 494.9,432.7 496.8,432.3 498.8,431.8 500.7,431.3 502.6,430.8 504.6,430.3 506.5,429.8 508.4,429.3 510.4,428.7 512.3,428.2 514.2,427.6 516.1,427.0 518.0,426.4 519.9,425.8 521.8,425.3 523.8,424.7 525.7,424.1 527.6,423.5 529.5,422.9 531.4,422.3 533.3,421.8 535.2,421.2 537.2,420.6 539.1,420.0 541.0,419.4 542.9,418.8 544.8,418.1 546.6,417.3 548.3,416.3 549.9,415.1 551.5,413.9 553.0,412.6 554.5,411.2 555.9,409.8 557.1,408.2 558.3,406.6 559.5,405.0 560.6,403.3 561.7,401.7 562.8,400.0 563.9,398.3 565.0,396.7 566.1,395.0 567.3,393.4 568.4,391.7 569.6,390.1 570.8,388.5 572.0,386.9 573.1,385.3 574.3,383.6 575.5,382.0 576.6,380.4 577.8,378.8 578.9,377.1 580.1,375.5 581.2,373.8 582.3,372.1 583.4,370.4 584.4,368.8 585.5,367.1 586.6,365.4 587.7,363.7 588.8,362.1 590.0,360.4 591.1,358.8 592.3,357.2 593.5,355.6 594.7,354.0 595.9,352.4 597.1,350.8 598.2,349.1 599.4,347.5 600.5,345.8 601.6,344.2 602.7,342.5 603.8,340.8 604.8,339.1 605.9,337.4 607.0,335.7 608.1,334.1 609.2,332.4 610.3,330.7 611.4,329.0 612.4,327.4 613.5,325.7 614.6,324.0 615.7,322.3 616.8,320.7 618.0,319.0 619.1,317.4 620.4,315.8 621.6,314.2 622.8,312.7 624.1,311.1 625.3,309.6 626.6,308.0 627.9,306.5 629.2,304.9 630.5,303.4 631.8,301.9 633.1,300.5 634.5,299.0 635.9,297.5 637.3,296.1 638.7,294.7 640.1,293.3 641.6,291.9 643.0,290.5 644.4,289.1 645.8,287.7 647.2,286.3 648.7,284.9 650.2,283.6 651.7,282.3 653.3,281.1 655.0,279.9 656.7,278.9 658.4,277.9 660.1,276.9 661.9,276.0 663.7,275.0 665.5,274.1 667.2,273.2 669.0,272.3 670.7,271.3 672.4,270.2 674.0,269.0 675.6,267.8 677.3,266.7 679.1,265.8 681.0,265.1 682.9,264.5 684.8,264.0 686.8,263.6 688.7,263.1 690.7,262.7 692.6,262.4 694.6,262.0 696.6,261.6 698.5,261.3 700.5,260.9 702.5,260.6 704.4,260.2 706.4,259.9 708.4,259.5 710.4,259.2 712.3,258.8 714.3,258.5 716.3,258.2 718.2,257.9 720.2,257.5 722.2,257.2 724.2,256.9 726.1,256.6 728.1,256.3 730.1,256.0 732.1,255.7 734.0,255.3 736.0,255.0 738.0,254.7 740.0,254.3 741.9,254.0 743.9,253.7 745.9,253.3 747.8,253.0 749.8,252.7 751.8,252.3 753.8,252.0 755.7,251.7 757.7,251.4 759.7,251.0 761.7,250.7 763.6,250.4 765.6,250.1 767.6,249.8 769.6,249.5 771.5,249.3 773.5,249.0 775.5,248.7 777.5,248.4 779.5,248.2 781.5,247.9 783.4,247.6 785.4,247.4 787.4,247.1 789.4,246.8 791.4,246.6 793.4,246.3 795.3,246.1 797.3,245.8 799.3,245.6 801.3,245.3 803.3,245.1 805.3,244.9 807.3,244.6 809.2,244.4 811.2,244.2 813.2,244.0 815.2,243.7 817.2,243.5 819.2,243.3 821.2,243.1 823.2,243.0 825.2,242.8 827.1,242.6 829.1,242.5 831.1,242.3 833.1,242.2 835.1,242.0 837.1,241.9 839.1,241.8 841.1,241.6 843.1,241.5" fill="none" stroke="#ee1111" stroke-width="1.2"/>
<path d="M317.1,459.8 320.8,459.4 324.5,459.0 328.2,458.6 331.9,458.2 335.6,457.8 339.3,457.4 343.0,457.0 346.7,456.6 350.4,456.1 354.1,455.7 357.8,455.2 361.5,454.7 365.2,454.2 368.9,453.7 372.6,453.2 376.3,452.6 380.0,452.1 383.7,451.5 387.4,451.0 391.1,450.4 394.8,450.0 398.5,449.6 402.2,449.4 405.9,449.1 409.6,448.7 413.3,448.2 417.0,447.6 420.7,447.0 424.4,446.4 428.1,445.8 431.8,445.2 435.5,444.5 439.2,443.9 442.9,443.2 446.6,442.6 450.3,441.9 454.0,441.2 457.7,440.5 461.4,439.7 465.1,439.0 468.8,438.2 472.5,437.5 476.2,436.7 479.9,435.9 483.6,435.2 487.3,434.4 491.0,433.6 494.7,432.8 498.4,431.9 502.1,431.0 505.8,430.0 509.5,429.0 513.2,427.9 516.9,426.8 520.6,425.7 524.3,424.5 528.0,423.4 531.7,422.3 535.4,421.2 539.1,420.0 542.8,418.8 546.5,417.4 550.2,414.9 553.9,411.8 557.6,407.6 561.3,402.3 565.0,396.7 568.7,391.4 572.4,386.3 576.1,381.2 579.8,375.9 583.5,370.3 587.2,364.6 590.9,359.1 594.6,354.1 598.3,349.1 602.0,343.6 605.7,337.8 609.4,332.1 613.1,326.4 616.8,320.8 620.5,315.7 624.2,311.0 627.9,306.5 631.6,302.2 635.3,298.2 639.0,294.4 642.7,290.8 646.4,287.1 650.1,283.7 653.8,280.8 657.5,278.4 661.2,276.4 664.9,274.4 668.6,272.5 672.3,270.3 676.0,267.5 679.7,265.6 683.4,264.4 687.1,263.5 690.8,262.7 694.5,262.0 698.2,261.3 701.9,260.7 705.6,260.0 709.3,259.4 713.0,258.7 716.7,258.1 720.4,257.5 724.1,256.9 727.8,256.3 731.5,255.7 735.2,255.1 738.9,254.5 742.6,253.9 746.3,253.3 750.0,252.6 753.7,252.0 757.4,251.4 761.1,250.8 764.8,250.3 768.5,249.7 772.2,249.2 775.9,248.6 779.6,248.1 783.3,247.6 787.0,247.2 790.7,246.7 794.4,246.2 798.1,245.7 801.8,245.3 805.5,244.8 809.2,244.4 812.9,244.0 816.6,243.6 820.3,243.2 824.0,242.9 827.7,242.6 831.4,242.3 835.1,242.0 838.8,241.8 842.5,241.5" fill="none" stroke="none" stroke-width="0" marker-start="url(#sqee1111)" marker-mid="url(#sqee1111)" marker-end="url(#sqee1111)"/>
<path d="M317.1,459.8 319.1,459.6 321.0,459.4 323.0,459.2 325.0,458.9 327.0,458.7 329.0,458.5 331.0,458.3 333.0,458.1 335.0,457.9 336.9,457.6 338.9,457.4 340.9,457.2 342.9,457.0 344.9,456.8 346.9,456.5 348.9,456.3 350.9,456.1 352.8,455.8 354.8,455.6 356.8,455.3 358.8,455.1 360.8,454.8 362.8,454.6 364.7,454.3 366.7,454.0 368.7,453.7 370.7,453.4 372.7,453.1 374.6,452.9 376.6,452.6 378.6,452.3 380.6,452.0 382.6,451.7 384.5,451.4 386.5,451.1 388.5,450.8 390.5,450.5 392.5,450.3 394.4,450.0 396.4,449.8 398.4,449.6 400.4,449.5 402.4,449.4 404.4,449.3 406.4,449.1 408.4,448.9 410.4,448.6 412.3,448.3 414.3,448.0 416.3,447.7 418.3,447.4 420.3,447.1 422.2,446.8 424.2,446.5 426.2,446.1 428.1,445.8 430.1,445.5 432.1,445.1 434.1,444.8 436.0,444.4 438.0,444.1 440.0,443.8 441.9,443.4 443.9,443.1 445.9,442.7 447.8,442.3 449.8,442.0 451.8,441.6 453.7,441.2 455.7,440.8 457.7,440.5 459.6,440.1 461.6,439.7 463.6,439.3 465.5,438.9 467.5,438.5 469.4,438.1 471.4,437.7 473.4,437.3 475.3,436.9 477.3,436.5 479.2,436.1 481.2,435.7 483.1,435.2 485.1,434.8 487.1,434.4 489.0,434.0 491.0,433.6 492.9,433.2 494.9,432.7 496.8,432.3 498.8,431.8 500.7,431.3 502.6,430.8 504.6,430.3 506.5,429.8 508.4,429.3 510.4,428.7 512.3,428.2 514.2,427.6 516.1,427.0 518.0,426.4 519.9,425.8 521.8,425.3 523.8,424.7 525.7,424.1 527.6,423.5 529.5,422.9 531.4,422.3 533.3,421.8 535.2,421.2 537.2,420.6 539.1,420.0 541.0,419.4 542.9,418.8 544.8,418.1 546.6,417.3 548.3,416.3 549.9,415.1 551.5,413.9" fill="none" stroke="#ee1111" stroke-width="4.2" stroke-linejoin="round" stroke-linecap="round"/>
<path d="M843.7,241.5 841.7,241.6 839.7,241.7 837.7,241.9 835.7,242.0 833.7,242.1 831.7,242.3 829.7,242.4 827.7,242.6 825.7,242.7 823.8,242.9 821.8,243.1 819.8,243.3 817.8,243.5 815.8,243.7 813.8,243.9 811.8,244.1 809.8,244.3 807.8,244.6 805.9,244.8 803.9,245.0 801.9,245.3 799.9,245.5 797.9,245.8 795.9,246.0 793.9,246.3 792.0,246.5 790.0,246.8 788.0,247.0 786.0,247.3 784.0,247.5 782.0,247.8 780.1,248.1 778.1,248.3 776.1,248.6 774.1,248.9 772.1,249.2 770.2,249.5 768.2,249.7 766.2,250.0 764.2,250.3 762.2,250.6 760.3,250.9 758.3,251.3 756.3,251.6 754.3,251.9 752.4,252.2 750.4,252.6 748.4,252.9 746.5,253.2 744.5,253.6 742.5,253.9 740.5,254.3 738.6,254.6 736.6,254.9 734.6,255.2 732.7,255.6 730.7,255.9 728.7,256.2 726.7,256.5 724.8,256.8 722.8,257.1 720.8,257.4 718.8,257.8 716.9,258.1 714.9,258.4 712.9,258.7 710.9,259.1 709.0,259.4 707.0,259.8 705.0,260.2 703.1,260.6 701.1,261.0 699.2,261.4 697.2,261.8 695.2,262.2 693.3,262.6 691.3,263.0 689.4,263.4 687.4,263.8 685.4,264.2 683.5,264.6 681.5,264.9 679.5,265.3 677.6,265.6 675.6,265.9 673.6,266.2 671.6,266.5 669.7,266.7 667.7,267.0 665.7,267.3 663.7,267.5 661.7,267.8 659.7,268.1 657.8,268.4 655.8,268.6 653.8,268.9 651.8,269.2 649.8,269.5 647.9,269.8 645.9,270.1 643.9,270.4 641.9,270.7 640.0,271.1 638.0,271.4 636.0,271.8 634.1,272.1 632.1,272.5 630.1,272.9 628.2,273.3 626.2,273.6 624.2,274.0 622.3,274.4 620.3,274.8 618.4,275.2 616.4,275.5 614.4,275.9 612.4,276.2 610.5,276.6 608.5,277.0 606.6,277.3 604.6,277.7 602.6,278.1 600.7,278.6 598.7,279.0 596.8,279.5 594.8,280.0 592.9,280.4 591.0,281.0 589.0,281.5 587.1,282.0 585.2,282.5 583.3,283.1 581.3,283.6 579.4,284.1 577.5,284.7 575.5,285.2 573.6,285.8 571.7,286.3 569.8,286.9 567.9,287.5 565.9,288.0 564.0,288.6 562.1,289.2 560.2,289.7 558.3,290.3 556.3,290.8 554.4,291.4 552.5,291.9 550.6,292.5 548.7,293.1 546.8,293.7 544.9,294.5 543.2,295.4 541.4,296.4 539.7,297.4 538.1,298.5 536.5,299.9 535.2,301.3 533.9,302.8 532.6,304.4 531.4,306.0 530.1,307.5 528.9,309.1 527.6,310.6 526.4,312.2 525.1,313.8 523.9,315.4 522.8,317.0 521.6,318.6 520.5,320.3 519.4,322.0 518.3,323.6 517.2,325.3 516.1,327.0 515.0,328.6 513.9,330.3 512.8,332.0 511.7,333.7 510.6,335.3 509.5,337.0 508.4,338.7 507.3,340.4 506.2,342.0 505.1,343.7 503.9,345.3 502.8,346.9 501.6,348.5 500.4,350.1 499.1,351.7 497.9,353.3 496.7,354.9 495.6,356.5 494.4,358.1 493.2,359.8 492.1,361.4 491.0,363.1 489.9,364.8 488.9,366.5 487.9,368.2 487.0,370.0 486.1,371.8 485.2,373.6 484.3,375.4 483.3,377.1 482.4,378.9 481.4,380.6 480.3,382.3 479.3,384.0 478.2,385.7 477.1,387.4 476.0,389.0 474.9,390.7 473.7,392.3 472.6,394.0 471.5,395.6 470.3,397.3 469.1,398.8 467.9,400.4 466.7,402.1 465.6,403.7 464.6,405.5 463.6,407.2 462.5,408.8 461.3,410.4 460.1,412.0 458.8,413.6 457.6,415.2 456.3,416.7 455.0,418.3 453.7,419.8 452.4,421.3 451.1,422.8 449.7,424.2 448.3,425.6 446.9,427.0 445.4,428.4 443.9,429.7 442.3,431.0 440.7,432.2 439.1,433.3 437.4,434.4 435.6,435.4 433.9,436.3 432.1,437.2 430.3,438.0 428.4,438.8 426.6,439.6 424.7,440.3 422.8,441.0 421.0,441.6 419.1,442.2 417.1,442.8 415.2,443.3 413.3,443.8 411.3,444.3 409.4,444.8 407.5,445.3 405.5,445.8 403.6,446.3 401.6,446.8 399.7,447.2 397.7,447.7 395.8,448.2 393.9,448.6" fill="none" stroke="#1515ee" stroke-width="1.2"/>
<path d="M843.7,241.5 838.8,241.8 835.1,242.0 831.4,242.3 827.7,242.6 824.0,242.9 820.3,243.2 816.6,243.6 812.9,244.0 809.2,244.4 805.5,244.8 801.8,245.3 798.1,245.7 794.4,246.2 790.7,246.7 787.0,247.2 783.3,247.6 779.6,248.1 775.9,248.6 772.2,249.2 768.5,249.7 764.8,250.3 761.1,250.8 757.4,251.4 753.7,252.0 750.0,252.7 746.3,253.3 742.6,253.9 738.9,254.5 735.2,255.1 731.5,255.7 727.8,256.3 724.1,256.9 720.4,257.5 716.7,258.1 713.0,258.7 709.3,259.4 705.6,260.1 701.9,260.8 698.2,261.6 694.5,262.3 690.8,263.1 687.1,263.9 683.4,264.6 679.7,265.3 676.0,265.8 672.3,266.4 668.6,266.9 664.9,267.4 661.2,267.9 657.5,268.4 653.8,268.9 650.1,269.5 646.4,270.0 642.7,270.6 639.0,271.3 635.3,271.9 631.6,272.6 627.9,273.3 624.2,274.0 620.5,274.8 616.8,275.5 613.1,276.1 609.4,276.8 605.7,277.5 602.0,278.3 598.3,279.1 594.6,280.0 590.9,281.0 587.2,282.0 583.5,283.0 579.8,284.0 576.1,285.1 572.4,286.1 568.7,287.2 565.0,288.3 561.3,289.4 557.6,290.5 553.9,291.6 550.2,292.6 546.5,293.8 542.8,295.6 539.1,297.8 535.4,301.1 531.7,305.6 528.0,310.2 524.3,315.0 520.6,320.2 516.9,325.8 513.2,331.5 509.5,337.1 505.8,342.7 502.1,347.9 498.4,352.7 494.7,357.8 491.0,363.2 487.3,369.5 483.6,376.7 479.9,383.1 476.2,388.8 472.5,394.2 468.8,399.2 465.1,404.7 461.4,410.3 457.7,415.1 454.0,419.5 450.3,423.6 446.6,427.3 442.9,430.6 439.2,433.3 435.5,435.5 431.8,437.3 428.1,439.0 424.4,440.4 420.7,441.7 417.0,442.9 413.3,443.8 409.6,444.8 405.9,445.7 402.2,446.6 398.5,447.5 394.8,448.4" fill="none" stroke="none" stroke-width="0" marker-start="url(#sq1515ee)" marker-mid="url(#sq1515ee)" marker-end="url(#sq1515ee)"/>
<path d="M393.5,448.7 395.5,448.5 397.4,448.2 399.4,447.9 401.4,447.6 403.4,447.3 405.4,447.0 407.3,446.7 409.3,446.3 411.2,445.8 413.2,445.3 415.1,444.7 417.0,444.1 418.9,443.5 420.8,442.9 422.7,442.4 424.7,441.8 426.6,441.4 428.6,441.0 430.5,440.7 432.5,440.4 434.5,440.2 436.5,440.0 438.5,439.9 440.5,439.8 442.5,439.6 444.5,439.4 446.5,439.1 448.4,438.9 450.4,438.6 452.4,438.3 454.4,438.0 456.4,437.7 458.3,437.3 460.3,437.0 462.3,436.6 464.2,436.2 466.2,435.8 468.1,435.4 470.1,434.9 472.0,434.4 473.9,433.9 475.9,433.4 477.8,432.9 479.8,432.4 481.7,431.9 483.6,431.5 485.6,431.0 487.5,430.5 489.5,430.0 491.4,429.5 493.3,429.0 495.3,428.5 497.2,428.0 499.2,427.6 501.1,427.1 503.0,426.6 505.0,426.0 506.9,425.5 508.8,425.0 510.8,424.5 512.7,424.0 514.6,423.5 516.6,423.0 518.5,422.4 520.4,421.9 522.3,421.4 524.3,420.8 526.2,420.3 528.1,419.7 530.0,419.1 531.9,418.4 533.7,417.7 535.6,416.9 537.4,416.1 539.3,415.4 541.2,414.7 543.1,414.0 544.9,413.3 546.8,412.6 548.6,411.7 550.2,410.5 551.6,409.1 552.9,407.6 554.2,406.0 555.4,404.4 556.6,402.8 557.7,401.2 558.9,399.6 560.0,397.9 561.2,396.3 562.3,394.6 563.5,393.0 564.6,391.4 565.8,389.7 566.9,388.1 568.1,386.5 569.3,384.9 570.4,383.2 571.6,381.6 572.8,380.0 573.9,378.4 575.1,376.7 576.3,375.1 577.5,373.6 578.8,372.0 580.0,370.4 581.3,368.9 582.5,367.3 583.6,365.6 584.6,363.9 585.5,362.1 586.4,360.3 587.5,358.6 588.6,357.0 589.7,355.3 590.9,353.7 592.0,352.1 593.2,350.4 594.4,348.8 595.6,347.2 596.8,345.6 598.0,344.0 599.2,342.4 600.4,340.8 601.5,339.2 602.7,337.5 603.8,335.9 604.9,334.2 606.0,332.6 607.2,330.9 608.3,329.3 609.5,327.7 610.7,326.1 611.9,324.5 613.2,322.9 614.4,321.3 615.6,319.7 616.7,318.1 617.8,316.4 619.0,314.8 620.1,313.1 621.3,311.5 622.4,309.9 623.6,308.2 624.8,306.6 626.0,305.0 627.2,303.5 628.5,301.9 629.8,300.4 631.1,298.9 632.5,297.4 633.8,295.9 635.2,294.5 636.5,293.0 637.9,291.6 639.3,290.2 640.8,288.8 642.2,287.4 643.7,286.0 645.2,284.7 646.7,283.4 648.3,282.1 649.9,281.0 651.5,279.8 653.2,278.8 654.9,277.8 656.7,276.8 658.5,275.9 660.2,275.0 662.0,274.1 663.8,273.2 665.6,272.3 667.4,271.5 669.2,270.5 671.0,269.6 672.7,268.6 674.5,267.7 676.3,266.8 678.1,266.1 680.0,265.4 681.9,264.8 683.9,264.3 685.8,263.8 687.8,263.4 689.7,263.0 691.7,262.6 693.6,262.2 695.6,261.8 697.6,261.5 699.5,261.1 701.5,260.8 703.5,260.4 705.5,260.1 707.4,259.7 709.4,259.4 711.4,259.0 713.3,258.7 715.3,258.3 717.3,258.0 719.3,257.7 721.2,257.4 723.2,257.1 725.2,256.7 727.2,256.4 729.1,256.1 731.1,255.8 733.1,255.5 735.1,255.2 737.0,254.8 739.0,254.5 741.0,254.2 742.9,253.8 744.9,253.5 746.9,253.2 748.9,252.8 750.8,252.5 752.8,252.2 754.8,251.8 756.7,251.5 758.7,251.2 760.7,250.9 762.7,250.6 764.7,250.3 766.6,250.0 768.6,249.7 770.6,249.4 772.6,249.1 774.5,248.8 776.5,248.6 778.5,248.3 780.5,248.0 782.5,247.7 784.5,247.5 786.4,247.2 788.4,247.0 790.4,246.7 792.4,246.5 794.4,246.2 796.4,246.0 798.3,245.7 800.3,245.5 802.3,245.2 804.3,245.0 806.3,244.7 808.3,244.5 810.3,244.3 812.2,244.1 814.2,243.8 816.2,243.6 818.2,243.4 820.2,243.2 822.2,243.0 824.2,242.9 826.2,242.7 828.2,242.5 830.2,242.4 832.2,242.3 834.2,242.1 836.2,242.0 838.1,241.8 840.1,241.7 842.1,241.6" fill="none" stroke="#1515ee" stroke-width="1.2"/>
<path d="M393.5,448.7 397.2,448.2 400.9,447.7 404.6,447.1 408.3,446.5 412.0,445.6 415.7,444.5 419.4,443.4 423.1,442.3 426.8,441.3 430.5,440.7 434.2,440.2 437.9,439.9 441.6,439.7 445.3,439.3 449.0,438.8 452.7,438.3 456.4,437.7 460.1,437.0 463.8,436.3 467.5,435.5 471.2,434.6 474.9,433.7 478.6,432.7 482.3,431.8 486.0,430.9 489.7,429.9 493.4,429.0 497.1,428.1 500.8,427.1 504.5,426.2 508.2,425.2 511.9,424.2 515.6,423.2 519.3,422.2 523.0,421.2 526.7,420.1 530.4,418.9 534.1,417.5 537.8,416.0 541.5,414.6 545.2,413.2 548.9,411.5 552.6,408.0 556.3,403.2 560.0,398.0 563.7,392.7 567.4,387.5 571.1,382.3 574.8,377.2 578.5,372.4 582.2,367.7 585.9,361.3 589.6,355.5 593.3,350.4 597.0,345.4 600.7,340.3 604.4,335.0 608.1,329.6 611.8,324.7 615.5,319.8 619.2,314.5 622.9,309.2 626.6,304.3 630.3,299.9 634.0,295.7 637.7,291.8 641.4,288.2 645.1,284.8 648.8,281.7 652.5,279.2 656.2,277.1 659.9,275.2 663.6,273.3 667.3,271.5 671.0,269.5 674.7,267.6 678.4,266.0 682.1,264.8 685.8,263.8 689.5,263.0 693.2,262.3 696.9,261.6 700.6,260.9 704.3,260.3 708.0,259.6 711.7,259.0 715.4,258.3 719.1,257.7 722.8,257.1 726.5,256.5 730.2,256.0 733.9,255.4 737.6,254.7 741.3,254.1 745.0,253.5 748.7,252.9 752.4,252.2 756.1,251.6 759.8,251.0 763.5,250.4 767.2,249.9 770.9,249.3 774.6,248.8 778.3,248.3 782.0,247.8 785.7,247.3 789.4,246.8 793.1,246.4 796.8,245.9 800.5,245.4 804.2,245.0 807.9,244.6 811.6,244.1 815.3,243.7 819.0,243.4 822.7,243.0 826.4,242.7 830.1,242.4 833.8,242.1 837.5,241.9 841.2,241.6" fill="none" stroke="none" stroke-width="0" marker-start="url(#sq1515ee)" marker-mid="url(#sq1515ee)" marker-end="url(#sq1515ee)"/>
<path d="M393.5,448.7 395.5,448.5 397.4,448.2 399.4,447.9 401.4,447.6 403.4,447.3 405.4,447.0 407.3,446.7 409.3,446.3 411.2,445.8 413.2,445.3 415.1,444.7 417.0,444.1 418.9,443.5 420.8,442.9 422.7,442.4 424.7,441.8 426.6,441.4 428.6,441.0 430.5,440.7 432.5,440.4 434.5,440.2 436.5,440.0 438.5,439.9 440.5,439.8 442.5,439.6 444.5,439.4 446.5,439.1 448.4,438.9 450.4,438.6 452.4,438.3 454.4,438.0 456.4,437.7 458.3,437.3 460.3,437.0 462.3,436.6 464.2,436.2 466.2,435.8 468.1,435.4 470.1,434.9 472.0,434.4 473.9,433.9 475.9,433.4 477.8,432.9 479.8,432.4 481.7,431.9 483.6,431.5 485.6,431.0 487.5,430.5 489.5,430.0 491.4,429.5 493.3,429.0 495.3,428.5 497.2,428.0 499.2,427.6 501.1,427.1 503.0,426.6 505.0,426.0 506.9,425.5 508.8,425.0 510.8,424.5 512.7,424.0 514.6,423.5 516.6,423.0 518.5,422.4 520.4,421.9 522.3,421.4 524.3,420.8 526.2,420.3 528.1,419.7 530.0,419.1 531.9,418.4 533.7,417.7 535.6,416.9 537.4,416.1 539.3,415.4 541.2,414.7 543.1,414.0 544.9,413.3" fill="none" stroke="#1515ee" stroke-width="4.2" stroke-linejoin="round" stroke-linecap="round"/>
<path d="M843.7,241.5 841.7,241.6 839.7,241.7 837.7,241.9 835.7,242.0 833.7,242.1 831.7,242.3 829.7,242.4 827.7,242.6 825.7,242.7 823.8,242.9 821.8,243.1 819.8,243.3 817.8,243.5 815.8,243.7 813.8,243.9 811.8,244.1 809.8,244.3 807.8,244.6 805.9,244.8 803.9,245.0 801.9,245.3 799.9,245.5 797.9,245.8 795.9,246.0 793.9,246.3 792.0,246.5 790.0,246.8 788.0,247.0 786.0,247.3 784.0,247.5 782.0,247.8 780.1,248.1 778.1,248.3 776.1,248.6 774.1,248.9 772.1,249.2 770.2,249.5 768.2,249.7 766.2,250.0 764.2,250.3 762.2,250.6 760.3,250.9 758.3,251.3 756.3,251.6 754.3,251.9 752.4,252.2 750.4,252.6 748.4,252.9 746.5,253.2 744.5,253.6 742.5,253.9 740.5,254.3 738.6,254.6 736.6,254.9 734.6,255.2 732.7,255.6 730.7,255.9 728.7,256.2 726.7,256.5 724.8,256.8 722.8,257.1 720.8,257.4 718.8,257.8 716.9,258.1 714.9,258.4 712.9,258.7 710.9,259.1 709.0,259.4 707.0,259.8 705.0,260.2 703.1,260.6 701.1,261.0 699.2,261.4 697.2,261.8 695.2,262.2 693.3,262.6 691.3,263.0 689.4,263.4 687.4,263.8 685.4,264.2 683.5,264.6 681.5,264.9 679.5,265.3 677.6,265.6 675.6,265.9 673.6,266.2 671.6,266.5 669.7,266.7 667.7,267.0 665.7,267.3 663.7,267.5 661.7,267.8 659.7,268.1 657.8,268.4 655.8,268.6 653.8,268.9 651.8,269.2 649.8,269.5 647.9,269.8 645.9,270.1 643.9,270.4 641.9,270.7 640.0,271.1 638.0,271.4 636.0,271.8 634.1,272.1 632.1,272.5 630.1,272.9 628.2,273.3 626.2,273.6 624.2,274.0 622.3,274.4 620.3,274.8 618.4,275.2 616.4,275.5 614.4,275.9 612.4,276.2 610.5,276.6 608.5,277.0 606.6,277.3 604.6,277.7 602.6,278.1 600.7,278.6 598.7,279.0 596.8,279.5 594.8,280.0 592.9,280.4 591.0,281.0 589.0,281.5 587.1,282.0 585.2,282.5 583.3,283.1 581.3,283.6 579.4,284.1 577.5,284.7 575.5,285.2 573.6,285.8 571.7,286.3 569.8,286.9 567.9,287.5 565.9,288.0 564.0,288.6 562.1,289.2 560.2,289.7 558.3,290.3 556.3,290.8 554.4,291.4 552.5,291.9 550.6,292.5 548.7,293.1 546.8,293.7 544.9,294.5 543.2,295.4 541.4,296.4 539.7,297.4 538.1,298.5 536.5,299.9 535.2,301.3 533.9,302.8 532.6,304.4 531.4,306.0 530.1,307.5 528.9,309.1 527.6,310.6 526.4,312.2 525.1,313.8 523.9,315.4 522.8,317.0 521.6,318.6 520.5,320.3 519.4,322.0 518.3,323.6 517.2,325.3 516.1,327.0 515.0,328.6 513.9,330.3 512.8,332.0 511.7,333.7 510.6,335.3 509.5,337.0 508.4,338.7 507.3,340.4 506.2,342.0 505.1,343.7 503.9,345.3 502.8,346.9 501.6,348.5 500.4,350.1 499.1,351.7 497.9,353.3 496.7,354.9 495.6,356.5 494.4,358.1 493.2,359.8 492.1,361.4 491.0,363.1 489.9,364.8 488.9,366.5 487.9,368.2 487.0,370.0 486.1,371.8 485.2,373.6 484.3,375.4 483.3,377.1 482.4,378.9 481.4,380.6 480.3,382.3 479.3,384.0 478.2,385.7 477.1,387.4 476.0,389.0 474.9,390.7 473.7,392.3 472.6,394.0 471.5,395.6 470.3,397.3 469.1,398.8 467.9,400.4 466.7,402.1 465.6,403.7 464.6,405.5 463.6,407.2 462.5,408.8 461.3,410.4 460.1,412.0 458.8,413.6 457.6,415.2 456.3,416.7 455.0,418.3 453.7,419.8 452.4,421.3 451.1,422.8 449.7,424.2 448.3,425.6 446.9,427.0 445.4,428.4 443.9,429.7 442.3,431.0 440.7,432.1 439.0,433.2 437.3,434.3 435.6,435.3 433.9,436.3" fill="none" stroke="#ee11ee" stroke-width="1.2"/>
<path d="M843.7,241.5 838.1,241.8 834.4,242.1 830.7,242.4 827.0,242.6 823.3,242.9 819.6,243.3 815.9,243.7 812.2,244.1 808.5,244.5 804.8,244.9 801.1,245.4 797.4,245.8 793.7,246.3 790.0,246.8 786.3,247.2 782.6,247.7 778.9,248.2 775.2,248.7 771.5,249.3 767.8,249.8 764.1,250.3 760.4,250.9 756.7,251.5 753.0,252.1 749.3,252.8 745.6,253.4 741.9,254.0 738.2,254.6 734.5,255.2 730.8,255.8 727.1,256.4 723.4,257.0 719.7,257.6 716.0,258.2 712.3,258.8 708.6,259.5 704.9,260.2 701.2,260.9 697.5,261.7 693.8,262.5 690.1,263.3 686.4,264.0 682.7,264.7 679.0,265.4 675.3,265.9 671.6,266.5 667.9,267.0 664.2,267.4 660.5,268.0 656.8,268.5 653.1,269.0 649.4,269.6 645.7,270.1 642.0,270.7 638.3,271.4 634.6,272.0 630.9,272.7 627.2,273.4 623.5,274.2 619.8,274.9 616.1,275.6 612.4,276.2 608.7,276.9 605.0,277.6 601.3,278.4 597.6,279.3 593.9,280.2 590.2,281.1 586.5,282.2 582.8,283.2 579.1,284.2 575.4,285.3 571.7,286.3 568.0,287.4 564.3,288.5 560.6,289.6 556.9,290.7 553.2,291.7 549.5,292.8 545.8,294.1 542.1,295.9 538.4,298.3 534.7,301.8 531.0,306.4 527.3,311.0 523.6,315.8 519.9,321.2 516.2,326.8 512.5,332.4 508.8,338.1 505.1,343.6 501.4,348.7 497.7,353.5 494.0,358.7 490.3,364.2 486.6,370.7 482.9,377.9 479.2,384.1 475.5,389.7 471.8,395.1 468.1,400.1 464.4,405.8 460.7,411.1 457.0,415.8 453.3,420.2 449.6,424.3 445.9,427.9 442.2,431.0 438.5,433.5 434.8,435.7" fill="none" stroke="none" stroke-width="0" marker-start="url(#sqee11ee)" marker-mid="url(#sqee11ee)" marker-end="url(#sqee11ee)"/>
<path d="M433.8,436.3 435.8,436.0 437.8,435.7 439.7,435.4 441.7,435.1 443.7,434.8 445.7,434.4 447.6,434.0 449.6,433.7 451.6,433.3 453.5,432.9 455.5,432.5 457.4,432.1 459.4,431.7 461.4,431.3 463.3,430.8 465.3,430.4 467.2,429.9 469.1,429.4 471.1,428.9 473.0,428.3 474.9,427.8 476.8,427.2 478.8,426.7 480.7,426.2 482.6,425.6 484.5,425.1 486.5,424.6 488.4,424.1 490.4,423.6 492.3,423.1 494.2,422.6 496.1,422.1 498.1,421.5 500.0,421.0 501.9,420.4 503.8,419.8 505.7,419.2 507.6,418.6 509.5,417.9 511.4,417.3 513.3,416.6 515.2,415.9 517.1,415.2 518.9,414.5 520.8,413.9 522.7,413.2 524.6,412.5 526.5,411.9 528.4,411.2 530.3,410.6 532.2,410.0 534.1,409.5 536.0,408.9 537.9,408.3 539.9,407.8 541.8,407.2 543.7,406.5 545.5,405.7 547.2,404.7 548.7,403.3 550.1,401.9 551.6,400.6 553.2,399.4 554.7,398.0 556.1,396.6 557.4,395.1 558.6,393.5 559.8,391.9 560.9,390.3 562.0,388.6 563.0,386.9 564.1,385.1 565.0,383.4 566.0,381.6 566.9,379.9 567.8,378.1 568.8,376.3 569.7,374.5 570.6,372.8 571.6,371.0 572.6,369.3 573.8,367.7 575.1,366.2 576.6,364.9 578.1,363.5 579.3,362.0 580.3,360.2 581.2,358.4 582.0,356.6 583.0,354.9 584.1,353.2 585.2,351.5 586.3,349.9 587.5,348.2 588.6,346.6 589.7,344.9 590.8,343.2 591.9,341.6 593.0,339.9 594.2,338.3 595.4,336.7 596.6,335.1 597.9,333.6 599.1,332.0 600.3,330.4 601.5,328.8 602.7,327.2 603.9,325.6 605.2,324.0 606.4,322.5 607.7,320.9 608.8,319.3 610.0,317.7 611.2,316.0 612.3,314.4 613.5,312.8 614.6,311.1 615.8,309.5 617.0,307.9 618.2,306.3 619.4,304.7 620.7,303.2 622.0,301.7 623.4,300.2 624.7,298.7 626.1,297.3 627.5,295.8 628.9,294.4 630.3,293.0 631.7,291.5 633.1,290.1 634.5,288.7 635.9,287.3 637.4,286.0 638.9,284.7 640.5,283.4 642.1,282.2 643.7,281.1 645.4,280.0 647.1,279.0 648.9,278.0 650.6,277.1 652.4,276.2 654.2,275.3 656.1,274.5 657.9,273.7 659.8,273.0 661.6,272.2 663.5,271.5 665.3,270.7 667.2,269.9 669.0,269.2 670.9,268.5 672.7,267.7 674.6,267.1 676.5,266.4 678.4,265.8 680.4,265.3 682.3,264.7 684.2,264.3 686.2,263.8 688.1,263.4 690.1,263.0 692.0,262.6 694.0,262.2 696.0,261.8 697.9,261.4 699.9,261.1 701.9,260.7 703.8,260.4 705.8,260.0 707.8,259.6 709.7,259.3 711.7,259.0 713.7,258.6 715.7,258.3 717.6,258.0 719.6,257.6 721.6,257.3 723.6,257.0 725.5,256.7 727.5,256.4 729.5,256.1 731.5,255.7 733.4,255.4 735.4,255.1 737.4,254.8 739.4,254.5 741.3,254.1 743.3,253.8 745.3,253.4 747.2,253.1 749.2,252.8 751.2,252.4 753.2,252.1 755.1,251.8 757.1,251.5 759.1,251.1 761.0,250.8 763.0,250.5 765.0,250.2 767.0,249.9 769.0,249.6 770.9,249.3 772.9,249.1 774.9,248.8 776.9,248.5 778.9,248.2 780.8,248.0 782.8,247.7 784.8,247.4 786.8,247.2 788.8,246.9 790.8,246.7 792.7,246.4 794.7,246.2 796.7,245.9 798.7,245.7 800.7,245.4 802.7,245.2 804.7,244.9 806.6,244.7 808.6,244.5 810.6,244.2 812.6,244.0 814.6,243.8 816.6,243.6 818.6,243.4 820.6,243.2 822.5,243.0 824.5,242.8 826.5,242.7 828.5,242.5 830.5,242.4 832.5,242.2 834.5,242.1 836.5,241.9 838.5,241.8 840.5,241.7 842.5,241.5" fill="none" stroke="#ee11ee" stroke-width="1.2"/>
<path d="M433.8,436.3 437.5,435.8 441.2,435.2 444.9,434.5 448.6,433.9 452.3,433.1 456.0,432.4 459.7,431.6 463.4,430.8 467.1,429.9 470.8,428.9 474.5,427.9 478.2,426.8 481.9,425.8 485.6,424.9 489.3,423.9 493.0,422.9 496.7,421.9 500.4,420.8 504.1,419.7 507.8,418.5 511.5,417.2 515.2,415.9 518.9,414.6 522.6,413.2 526.3,411.9 530.0,410.7 533.7,409.6 537.4,408.5 541.1,407.4 544.8,406.0 548.5,403.5 552.2,400.1 555.9,396.8 559.6,392.1 563.3,386.4 567.0,379.7 570.7,372.6 574.4,366.9 578.1,363.5 581.8,357.0 585.5,351.1 589.2,345.6 592.9,340.1 596.6,335.1 600.3,330.4 604.0,325.5 607.7,320.8 611.4,315.7 615.1,310.5 618.8,305.5 622.5,301.1 626.2,297.1 629.9,293.3 633.6,289.6 637.3,286.1 641.0,283.0 644.7,280.4 648.4,278.2 652.1,276.3 655.8,274.6 659.5,273.1 663.2,271.6 666.9,270.0 670.6,268.6 674.3,267.2 678.0,265.9 681.7,264.9 685.4,264.0 689.1,263.2 692.8,262.4 696.5,261.7 700.2,261.0 703.9,260.3 707.6,259.7 711.3,259.0 715.0,258.4 718.7,257.8 722.4,257.2 726.1,256.6 729.8,256.0 733.5,255.4 737.2,254.8 740.9,254.2 744.6,253.6 748.3,252.9 752.0,252.3 755.7,251.7 759.4,251.1 763.1,250.5 766.8,249.9 770.5,249.4 774.2,248.9 777.9,248.4 781.6,247.9 785.3,247.4 789.0,246.9 792.7,246.4 796.4,246.0 800.1,245.5 803.8,245.0 807.5,244.6 811.2,244.2 814.9,243.8 818.6,243.4 822.3,243.0 826.0,242.7 829.7,242.4 833.4,242.2 837.1,241.9 840.8,241.7" fill="none" stroke="none" stroke-width="0" marker-start="url(#sqee11ee)" marker-mid="url(#sqee11ee)" marker-end="url(#sqee11ee)"/>
<path d="M433.8,436.3 435.8,436.0 437.8,435.7 439.7,435.4 441.7,435.1 443.7,434.8 445.7,434.4 447.6,434.0 449.6,433.7 451.6,433.3 453.5,432.9 455.5,432.5 457.4,432.1 459.4,431.7 461.4,431.3 463.3,430.8 465.3,430.4 467.2,429.9 469.1,429.4 471.1,428.9 473.0,428.3 474.9,427.8 476.8,427.2 478.8,426.7 480.7,426.2 482.6,425.6 484.5,425.1 486.5,424.6 488.4,424.1 490.4,423.6 492.3,423.1 494.2,422.6 496.1,422.1 498.1,421.5 500.0,421.0 501.9,420.4 503.8,419.8 505.7,419.2 507.6,418.6 509.5,417.9 511.4,417.3 513.3,416.6 515.2,415.9 517.1,415.2 518.9,414.5 520.8,413.9 522.7,413.2 524.6,412.5 526.5,411.9 528.4,411.2 530.3,410.6 532.2,410.0 534.1,409.5 536.0,408.9 537.9,408.3 539.9,407.8 541.8,407.2 543.7,406.5 545.5,405.7 547.2,404.7 548.7,403.3" fill="none" stroke="#ee11ee" stroke-width="4.2" stroke-linejoin="round" stroke-linecap="round"/>
<path d="M843.7,241.5 841.7,241.6 839.7,241.7 837.7,241.9 835.7,242.0 833.7,242.1 831.7,242.3 829.7,242.4 827.7,242.6 825.7,242.7 823.8,242.9 821.8,243.1 819.8,243.3 817.8,243.5 815.8,243.7 813.8,243.9 811.8,244.1 809.8,244.3 807.8,244.6 805.9,244.8 803.9,245.0 801.9,245.3 799.9,245.5 797.9,245.8 795.9,246.0 793.9,246.3 792.0,246.5 790.0,246.8 788.0,247.0 786.0,247.3 784.0,247.5 782.0,247.8 780.1,248.1 778.1,248.3 776.1,248.6 774.1,248.9 772.1,249.2 770.2,249.5 768.2,249.7 766.2,250.0 764.2,250.3 762.2,250.6 760.3,250.9 758.3,251.3 756.3,251.6 754.3,251.9 752.4,252.2 750.4,252.6 748.4,252.9 746.5,253.2 744.5,253.6 742.5,253.9 740.5,254.3 738.6,254.6 736.6,254.9 734.6,255.2 732.7,255.6 730.7,255.9 728.7,256.2 726.7,256.5 724.8,256.8 722.8,257.1 720.8,257.4 718.8,257.8 716.9,258.1 714.9,258.4 712.9,258.7 710.9,259.1 709.0,259.4 707.0,259.8 705.0,260.2 703.1,260.6 701.1,261.0 699.2,261.4 697.2,261.8 695.2,262.2 693.3,262.6 691.3,263.0 689.4,263.4 687.4,263.8 685.4,264.2 683.5,264.6 681.5,264.9 679.5,265.3 677.6,265.6 675.6,265.9 673.6,266.2 671.6,266.5 669.7,266.7 667.7,267.0 665.7,267.3 663.7,267.5 661.7,267.8 659.7,268.1 657.8,268.4 655.8,268.6 653.8,268.9 651.8,269.2 649.8,269.5 647.9,269.8 645.9,270.1 643.9,270.4 641.9,270.7 640.0,271.1 638.0,271.4 636.0,271.8 634.1,272.1 632.1,272.5 630.1,272.9 628.2,273.3 626.2,273.6 624.2,274.0 622.3,274.4 620.3,274.8 618.4,275.2 616.4,275.5 614.4,275.9 612.4,276.2 610.5,276.6 608.5,277.0 606.6,277.3 604.6,277.7 602.6,278.1 600.7,278.6 598.7,279.0 596.8,279.5 594.8,280.0 592.9,280.4 591.0,281.0 589.0,281.5 587.1,282.0 585.2,282.5 583.3,283.1 581.3,283.6 579.4,284.1 577.5,284.7 575.5,285.2 573.6,285.8 571.7,286.3 569.8,286.9 567.9,287.5 565.9,288.0 564.0,288.6 562.1,289.2 560.2,289.7 558.3,290.3 556.3,290.8 554.4,291.4 552.5,291.9 550.6,292.5 548.7,293.1 546.8,293.7 544.9,294.5 543.2,295.4 541.4,296.4 539.7,297.4 538.1,298.5 536.5,299.9 535.2,301.3 533.9,302.8 532.6,304.4 531.4,306.0 530.1,307.5 528.9,309.1 527.6,310.6 526.4,312.2 525.1,313.8 523.9,315.4 522.8,317.0 521.6,318.6 520.5,320.3 519.4,322.0 518.3,323.6 517.2,325.3 516.1,327.0 515.0,328.6 513.9,330.3 512.8,332.0 511.7,333.7 510.6,335.3 509.5,337.0 508.4,338.7 507.3,340.4 506.2,342.0 505.1,343.7 503.9,345.3 502.8,346.9 501.6,348.5 500.4,350.1 499.1,351.7 497.9,353.3 496.7,354.9 495.6,356.5 494.4,358.1 493.2,359.8 492.1,361.4 491.0,363.1 489.9,364.8 488.9,366.5 487.9,368.2 487.0,370.0 486.1,371.8 485.2,373.6 484.3,375.4 483.3,377.1 482.4,378.9 481.4,380.6 480.3,382.3 479.3,384.0 478.2,385.7 477.1,387.4 476.0,389.0 474.9,390.7 473.7,392.3 472.6,394.0 471.5,395.6 470.3,397.3 469.1,398.9 467.9,400.5 466.7,402.0" fill="none" stroke="#118811" stroke-width="1.2"/>
<path d="M843.7,241.5 837.5,241.9 833.8,242.1 830.1,242.4 826.4,242.7 822.7,243.0 819.0,243.3 815.3,243.7 811.6,244.1 807.9,244.6 804.2,245.0 800.5,245.4 796.8,245.9 793.1,246.4 789.4,246.8 785.7,247.3 782.0,247.8 778.3,248.3 774.6,248.8 770.9,249.3 767.2,249.9 763.5,250.4 759.8,251.0 756.1,251.6 752.4,252.2 748.7,252.9 745.0,253.5 741.3,254.1 737.6,254.7 733.9,255.4 730.2,255.9 726.5,256.5 722.8,257.1 719.1,257.7 715.4,258.3 711.7,259.0 708.0,259.6 704.3,260.3 700.6,261.1 696.9,261.8 693.2,262.6 689.5,263.4 685.8,264.1 682.1,264.8 678.4,265.5 674.7,266.0 671.0,266.6 667.3,267.0 663.6,267.5 659.9,268.0 656.2,268.6 652.5,269.1 648.8,269.7 645.1,270.2 641.4,270.8 637.7,271.5 634.0,272.1 630.3,272.8 626.6,273.6 622.9,274.3 619.2,275.0 615.5,275.7 611.8,276.4 608.1,277.0 604.4,277.8 600.7,278.6 597.0,279.4 593.3,280.3 589.6,281.3 585.9,282.3 582.2,283.3 578.5,284.4 574.8,285.4 571.1,286.5 567.4,287.6 563.7,288.7 560.0,289.8 556.3,290.8 552.6,291.9 548.9,293.0 545.2,294.4 541.5,296.3 537.8,298.7 534.1,302.6 530.4,307.2 526.7,311.7 523.0,316.7 519.3,322.1 515.6,327.7 511.9,333.4 508.2,339.0 504.5,344.5 500.8,349.5 497.1,354.4 493.4,359.5 489.7,365.2 486.0,371.9 482.3,379.0 478.6,385.0 474.9,390.6 471.2,396.0 467.5,400.9" fill="none" stroke="none" stroke-width="0" marker-start="url(#sq118811)" marker-mid="url(#sq118811)" marker-end="url(#sq118811)"/>
<path d="M466.5,402.3 467.4,400.5 468.8,399.1 470.6,398.3 472.6,398.0 474.6,397.8 476.6,397.7 478.5,397.4 480.5,397.1 482.4,396.6 484.4,396.0 486.3,395.5 488.2,394.9 490.1,394.3 492.0,393.7 493.9,393.0 495.8,392.4 497.7,391.7 499.6,391.1 501.5,390.4 503.3,389.7 505.2,389.0 507.0,388.2 508.9,387.4 510.7,386.6 512.5,385.8 514.4,385.0 516.2,384.1 518.0,383.3 519.8,382.4 521.6,381.5 523.4,380.7 525.2,379.8 527.0,379.0 528.9,378.2 530.7,377.4 532.5,376.6 534.4,375.9 536.3,375.2 538.2,374.6 540.1,373.9 542.0,373.3 543.8,372.6 545.7,371.9 547.6,371.2 549.4,370.5 551.3,369.6 553.0,368.6 554.4,367.2 555.8,365.7 557.0,364.2 558.2,362.6 559.4,361.0 560.6,359.3 561.7,357.7 562.8,356.0 563.9,354.4 565.0,352.7 566.2,351.0 567.3,349.4 568.3,347.7 569.4,346.0 570.5,344.3 571.6,342.7 572.7,341.0 573.8,339.3 574.9,337.6 575.9,335.9 577.0,334.2 578.1,332.5 579.1,330.8 580.2,329.1 581.2,327.4 582.3,325.7 583.3,324.0 584.3,322.3 585.3,320.5 586.2,318.8 587.2,317.1 588.3,315.3 589.3,313.6 590.4,312.0 591.6,310.4 592.8,308.8 594.0,307.2 595.3,305.6 596.6,304.1 597.9,302.6 599.2,301.1 600.6,299.7 602.1,298.3 603.5,296.9 605.0,295.6 606.6,294.3 608.1,293.1 609.7,291.8 611.3,290.6 612.9,289.4 614.5,288.2 616.1,287.1 617.8,286.0 619.5,284.9 621.2,283.8 622.9,282.8 624.6,281.7 626.3,280.8 628.1,279.9 629.9,279.0 631.8,278.2 633.6,277.4 635.5,276.7 637.3,276.0 639.2,275.3 641.1,274.7 643.0,274.1 644.9,273.5 646.9,273.1 648.8,272.6 650.8,272.2 652.8,271.8 654.7,271.4 656.7,271.0 658.6,270.6 660.6,270.1 662.5,269.7 664.5,269.2 666.4,268.7 668.3,268.2 670.3,267.7 672.2,267.2 674.1,266.7 676.1,266.2 678.0,265.7 680.0,265.3 681.9,264.8 683.9,264.4 685.8,264.0 687.8,263.6 689.7,263.2 691.7,262.8 693.7,262.4 695.6,262.0 697.6,261.6 699.6,261.2 701.5,260.8 703.5,260.4 705.4,260.1 707.4,259.7 709.4,259.4 711.4,259.0 713.3,258.7 715.3,258.3 717.3,258.0 719.2,257.7 721.2,257.4 723.2,257.1 725.2,256.7 727.1,256.4 729.1,256.1 731.1,255.8 733.1,255.5 735.0,255.2 737.0,254.8 739.0,254.5 741.0,254.2 742.9,253.8 744.9,253.5 746.9,253.2 748.8,252.8 750.8,252.5 752.8,252.2 754.8,251.8 756.7,251.5 758.7,251.2 760.7,250.9 762.7,250.6 764.6,250.3 766.6,250.0 768.6,249.7 770.6,249.4 772.6,249.1 774.5,248.8 776.5,248.6 778.5,248.3 780.5,248.0 782.5,247.7 784.4,247.5 786.4,247.2 788.4,247.0 790.4,246.7 792.4,246.5 794.4,246.2 796.3,246.0 798.3,245.7 800.3,245.5 802.3,245.2 804.3,245.0 806.3,244.7 808.3,244.5 810.2,244.3 812.2,244.1 814.2,243.8 816.2,243.6 818.2,243.4 820.2,243.2 822.2,243.0 824.2,242.9 826.2,242.7 828.2,242.6 830.2,242.4 832.1,242.3 834.1,242.1 836.1,242.0 838.1,241.8 840.1,241.7 842.1,241.6" fill="none" stroke="#118811" stroke-width="1.2"/>
<path d="M466.5,402.3 470.2,398.4 473.9,397.9 477.6,397.6 481.3,396.9 485.0,395.9 488.7,394.8 492.4,393.6 496.1,392.3 499.8,391.0 503.5,389.6 507.2,388.2 510.9,386.6 514.6,384.9 518.3,383.1 522.0,381.4 525.7,379.6 529.4,378.0 533.1,376.4 536.8,375.1 540.5,373.8 544.2,372.5 547.9,371.1 551.6,369.4 555.3,366.3 559.0,361.6 562.7,356.2 566.4,350.7 570.1,345.1 573.8,339.4 577.5,333.5 581.2,327.5 584.9,321.3 588.6,314.8 592.3,309.5 596.0,304.8 599.7,300.6 603.4,297.1 607.1,293.9 610.8,291.0 614.5,288.2 618.2,285.7 621.9,283.4 625.6,281.2 629.3,279.3 633.0,277.7 636.7,276.2 640.4,274.9 644.1,273.8 647.8,272.9 651.5,272.1 655.2,271.4 658.9,270.6 662.6,269.7 666.3,268.7 670.0,267.8 673.7,266.8 677.4,265.9 681.1,265.0 684.8,264.2 688.5,263.4 692.2,262.7 695.9,261.9 699.6,261.2 703.3,260.5 707.0,259.8 710.7,259.1 714.4,258.5 718.1,257.9 721.8,257.3 725.5,256.7 729.2,256.1 732.9,255.5 736.6,254.9 740.3,254.3 744.0,253.7 747.7,253.0 751.4,252.4 755.1,251.8 758.8,251.2 762.5,250.6 766.2,250.0 769.9,249.5 773.6,249.0 777.3,248.5 781.0,247.9 784.7,247.5 788.4,247.0 792.1,246.5 795.8,246.0 799.5,245.6 803.2,245.1 806.9,244.7 810.6,244.3 814.3,243.8 818.0,243.5 821.7,243.1 825.4,242.8 829.1,242.5 832.8,242.2 836.5,242.0 840.2,241.7" fill="none" stroke="none" stroke-width="0" marker-start="url(#sq118811)" marker-mid="url(#sq118811)" marker-end="url(#sq118811)"/>
<path d="M466.5,402.3 467.4,400.5 468.8,399.1 470.6,398.3 472.6,398.0 474.6,397.8 476.6,397.7 478.5,397.4 480.5,397.1 482.4,396.6 484.4,396.0 486.3,395.5 488.2,394.9 490.1,394.3 492.0,393.7 493.9,393.0 495.8,392.4 497.7,391.7 499.6,391.1 501.5,390.4 503.3,389.7 505.2,389.0 507.0,388.2 508.9,387.4 510.7,386.6 512.5,385.8 514.4,385.0 516.2,384.1 518.0,383.3 519.8,382.4 521.6,381.5 523.4,380.7 525.2,379.8 527.0,379.0 528.9,378.2 530.7,377.4 532.5,376.6 534.4,375.9 536.3,375.2 538.2,374.6 540.1,373.9 542.0,373.3 543.8,372.6 545.7,371.9 547.6,371.2 549.4,370.5 551.3,369.6 553.0,368.6" fill="none" stroke="#118811" stroke-width="4.2" stroke-linejoin="round" stroke-linecap="round"/>
<path d="M843.7,241.5 841.7,241.6 839.7,241.7 837.7,241.9 835.7,242.0 833.7,242.1 831.7,242.3 829.7,242.4 827.7,242.6 825.7,242.7 823.8,242.9 821.8,243.1 819.8,243.3 817.8,243.5 815.8,243.7 813.8,243.9 811.8,244.1 809.8,244.3 807.8,244.6 805.9,244.8 803.9,245.0 801.9,245.3 799.9,245.5 797.9,245.8 795.9,246.0 793.9,246.3 792.0,246.5 790.0,246.8 788.0,247.0 786.0,247.3 784.0,247.5 782.0,247.8 780.1,248.1 778.1,248.3 776.1,248.6 774.1,248.9 772.1,249.2 770.2,249.5 768.2,249.7 766.2,250.0 764.2,250.3 762.2,250.6 760.3,250.9 758.3,251.3 756.3,251.6 754.3,251.9 752.4,252.2 750.4,252.6 748.4,252.9 746.5,253.2 744.5,253.6 742.5,253.9 740.5,254.3 738.6,254.6 736.6,254.9 734.6,255.2 732.7,255.6 730.7,255.9 728.7,256.2 726.7,256.5 724.8,256.8 722.8,257.1 720.8,257.4 718.8,257.8 716.9,258.1 714.9,258.4 712.9,258.7 710.9,259.1 709.0,259.4 707.0,259.8 705.0,260.2 703.1,260.6 701.1,261.0 699.2,261.4 697.2,261.8 695.2,262.2 693.3,262.6 691.3,263.0 689.4,263.4 687.4,263.8 685.4,264.2 683.5,264.6 681.5,264.9 679.5,265.3 677.6,265.6 675.6,265.9 673.6,266.2 671.6,266.5 669.7,266.7 667.7,267.0 665.7,267.3 663.7,267.5 661.7,267.8 659.7,268.1 657.8,268.4 655.8,268.6 653.8,268.9 651.8,269.2 649.8,269.5 647.9,269.8 645.9,270.1 643.9,270.4 641.9,270.7 640.0,271.1 638.0,271.4 636.0,271.8 634.1,272.1 632.1,272.5 630.1,272.9 628.2,273.3 626.2,273.6 624.2,274.0 622.3,274.4 620.3,274.8 618.4,275.2 616.4,275.5 614.4,275.9 612.4,276.2 610.5,276.6 608.5,277.0 606.6,277.3 604.6,277.7 602.6,278.1 600.7,278.6 598.7,279.0 596.8,279.5 594.8,280.0 592.9,280.4 591.0,281.0 589.0,281.5 587.1,282.0 585.2,282.5 583.3,283.1 581.3,283.6 579.4,284.1 577.5,284.7 575.5,285.2 573.6,285.8 571.7,286.3 569.8,286.9 567.9,287.5 565.9,288.0 564.0,288.6 562.1,289.2 560.2,289.7 558.3,290.3 556.3,290.8 554.4,291.4 552.5,291.9 550.6,292.5 548.7,293.1 546.8,293.7 544.9,294.5 543.2,295.4 541.4,296.4 539.7,297.4 538.1,298.5 536.5,299.9 535.2,301.3 533.9,302.8 532.6,304.4 531.4,306.0 530.1,307.5 528.9,309.1 527.6,310.6 526.4,312.2 525.1,313.8 523.9,315.4 522.8,317.0 521.6,318.6 520.5,320.3 519.4,322.0 518.3,323.6 517.2,325.3 516.1,327.0 515.0,328.6 513.9,330.3 512.8,332.0 511.7,333.7 510.6,335.3 509.5,337.0 508.4,338.7" fill="none" stroke="#0b0b80" stroke-width="1.2"/>
<path d="M843.7,241.5 836.9,241.9 833.2,242.2 829.5,242.4 825.8,242.7 822.1,243.1 818.4,243.4 814.7,243.8 811.0,244.2 807.3,244.6 803.6,245.1 799.9,245.5 796.2,246.0 792.5,246.4 788.8,246.9 785.1,247.4 781.4,247.9 777.7,248.4 774.0,248.9 770.3,249.4 766.6,250.0 762.9,250.5 759.2,251.1 755.5,251.7 751.8,252.3 748.1,253.0 744.4,253.6 740.7,254.2 737.0,254.8 733.3,255.5 729.6,256.0 725.9,256.6 722.2,257.2 718.5,257.8 714.8,258.4 711.1,259.1 707.4,259.7 703.7,260.4 700.0,261.2 696.3,262.0 692.6,262.7 688.9,263.5 685.2,264.3 681.5,264.9 677.8,265.6 674.1,266.1 670.4,266.6 666.7,267.1 663.0,267.6 659.3,268.1 655.6,268.7 651.9,269.2 648.2,269.8 644.5,270.3 640.8,270.9 637.1,271.6 633.4,272.3 629.7,273.0 626.0,273.7 622.3,274.4 618.6,275.1 614.9,275.8 611.2,276.5 607.5,277.2 603.8,277.9 600.1,278.7 596.4,279.6 592.7,280.5 589.0,281.5 585.3,282.5 581.6,283.5 577.9,284.6 574.2,285.6 570.5,286.7 566.8,287.8 563.1,288.9 559.4,289.9 555.7,291.0 552.0,292.1 548.3,293.2 544.6,294.7 540.9,296.6 537.2,299.3 533.5,303.3 529.8,307.9 526.1,312.5 522.4,317.5 518.7,323.0 515.0,328.6 511.3,334.3" fill="none" stroke="none" stroke-width="0" marker-start="url(#sq0b0b80)" marker-mid="url(#sq0b0b80)" marker-end="url(#sq0b0b80)"/>
<path d="M508.3,338.9 510.2,338.2 512.0,337.4 513.9,336.7 515.7,335.9 517.6,335.2 519.5,334.6 521.4,334.0 523.3,333.4 525.2,332.8 527.2,332.3 529.1,331.8 531.0,331.3 533.0,330.7 534.9,330.3 536.8,329.8 538.8,329.4 540.7,328.9 542.7,328.4 544.6,327.9 546.4,327.1 548.2,326.1 549.8,325.0 551.4,323.7 552.8,322.4 554.3,321.0 555.7,319.5 557.1,318.1 558.5,316.7 559.9,315.2 561.2,313.8 562.6,312.3 563.9,310.8 565.2,309.3 566.5,307.7 567.8,306.2 569.1,304.7 570.6,303.3 572.0,302.0 573.6,300.7 575.2,299.5 576.8,298.4 578.5,297.2 580.1,296.1 581.8,295.1 583.5,294.0 585.3,293.0 587.0,292.1 588.8,291.2 590.6,290.2 592.4,289.3 594.2,288.5 596.0,287.6 597.8,286.8 599.6,286.0 601.5,285.2 603.3,284.5 605.2,283.8 607.1,283.2 609.0,282.6 610.9,282.0 612.9,281.4 614.8,280.9 616.7,280.3 618.6,279.8 620.6,279.3 622.5,278.7 624.4,278.2 626.3,277.7 628.3,277.2 630.2,276.7 632.2,276.3 634.1,275.8 636.1,275.4 638.0,275.0 640.0,274.6 641.9,274.1 643.9,273.7 645.9,273.3 647.8,272.9 649.8,272.5 651.7,272.1 653.7,271.8 655.7,271.4 657.6,271.0 659.6,270.6 661.6,270.2 663.5,269.9 665.5,269.5 667.4,269.0 669.4,268.6 671.3,268.1 673.2,267.5 675.1,266.8 677.0,266.2 678.9,265.6 680.9,265.1 682.8,264.6 684.8,264.2 686.7,263.8 688.7,263.4 690.6,263.0 692.6,262.6 694.6,262.2 696.5,261.8 698.5,261.4 700.4,261.0 702.4,260.6 704.4,260.3 706.3,259.9 708.3,259.6 710.3,259.2 712.2,258.9 714.2,258.5 716.2,258.2 718.2,257.9 720.1,257.6 722.1,257.2 724.1,256.9 726.1,256.6 728.0,256.3 730.0,256.0 732.0,255.7 734.0,255.3 735.9,255.0 737.9,254.7 739.9,254.4 741.9,254.0 743.8,253.7 745.8,253.4 747.8,253.0 749.7,252.7 751.7,252.4 753.7,252.0 755.7,251.7 757.6,251.4 759.6,251.1 761.6,250.7 763.6,250.4 765.5,250.1 767.5,249.8 769.5,249.6 771.5,249.3 773.4,249.0 775.4,248.7 777.4,248.4 779.4,248.2 781.4,247.9 783.4,247.6 785.3,247.4 787.3,247.1 789.3,246.9 791.3,246.6 793.3,246.3 795.3,246.1 797.2,245.8 799.2,245.6 801.2,245.4 803.2,245.1 805.2,244.9 807.2,244.6 809.2,244.4 811.1,244.2 813.1,244.0 815.1,243.7 817.1,243.5 819.1,243.3 821.1,243.1 823.1,243.0 825.1,242.8 827.1,242.6 829.1,242.5 831.1,242.3 833.1,242.2 835.0,242.0 837.0,241.9 839.0,241.8 841.0,241.6 843.0,241.5" fill="none" stroke="#0b0b80" stroke-width="1.2"/>
<path d="M508.3,338.9 512.0,337.4 515.7,335.9 519.4,334.6 523.1,333.4 526.8,332.4 530.5,331.4 534.2,330.4 537.9,329.6 541.6,328.7 545.3,327.6 549.0,325.6 552.7,322.5 556.4,318.8 560.1,315.0 563.8,311.0 567.5,306.6 571.2,302.8 574.9,299.8 578.6,297.1 582.3,294.8 586.0,292.6 589.7,290.7 593.4,288.8 597.1,287.1 600.8,285.5 604.5,284.1 608.2,282.8 611.9,281.7 615.6,280.7 619.3,279.6 623.0,278.6 626.7,277.6 630.4,276.7 634.1,275.8 637.8,275.0 641.5,274.2 645.2,273.5 648.9,272.7 652.6,272.0 656.3,271.2 660.0,270.5 663.7,269.8 667.4,269.0 671.1,268.1 674.8,266.9 678.5,265.7 682.2,264.8 685.9,264.0 689.6,263.2 693.3,262.4 697.0,261.7 700.7,261.0 704.4,260.3 708.1,259.6 711.8,258.9 715.5,258.3 719.2,257.7 722.9,257.1 726.6,256.5 730.3,255.9 734.0,255.3 737.7,254.7 741.4,254.1 745.1,253.5 748.8,252.8 752.5,252.2 756.2,251.6 759.9,251.0 763.6,250.4 767.3,249.9 771.0,249.3 774.7,248.8 778.4,248.3 782.1,247.8 785.8,247.3 789.5,246.8 793.2,246.4 796.9,245.9 800.6,245.4 804.3,245.0 808.0,244.5 811.7,244.1 815.4,243.7 819.1,243.3 822.8,243.0 826.5,242.7 830.2,242.4 833.9,242.1 837.6,241.9 841.3,241.6" fill="none" stroke="none" stroke-width="0" marker-start="url(#sq0b0b80)" marker-mid="url(#sq0b0b80)" marker-end="url(#sq0b0b80)"/>
<path d="M508.3,338.9 510.2,338.2 512.0,337.4 513.9,336.7 515.7,335.9 517.6,335.2 519.5,334.6 521.4,334.0 523.3,333.4 525.2,332.8 527.2,332.3 529.1,331.8 531.0,331.3 533.0,330.7 534.9,330.3 536.8,329.8 538.8,329.4 540.7,328.9 542.7,328.4 544.6,327.9 546.4,327.1 548.2,326.1 549.8,325.0" fill="none" stroke="#0b0b80" stroke-width="4.2" stroke-linejoin="round" stroke-linecap="round"/>
<path d="M551.5,292.2 549.6,292.8 547.7,293.4 545.8,294.1 544.0,294.9 542.3,295.9 540.5,296.9 538.9,297.9 537.3,299.2 535.8,300.6 534.5,302.1 533.3,303.6 532.0,305.2 530.8,306.7 529.5,308.3 528.2,309.8 527.0,311.4 525.8,313.0 524.5,314.6 523.4,316.2 522.2,317.8 521.1,319.5 520.0,321.1 518.9,322.8 517.8,324.5 516.7,326.1 515.6,327.8 514.5,329.5 513.4,331.1 512.3,332.8 511.2,334.5 510.1,336.2 509.0,337.8" fill="none" stroke="#0b0b80" stroke-width="5.0" stroke-linejoin="round" stroke-linecap="round"/>
<path d="M843.7,241.5 841.7,241.6 839.7,241.7 837.7,241.9 835.7,242.0 833.7,242.1 831.7,242.3 829.7,242.4 827.7,242.6 825.7,242.7 823.8,242.9 821.8,243.1 819.8,243.3 817.8,243.5 815.8,243.7 813.8,243.9 811.8,244.1 809.8,244.3 807.8,244.6 805.9,244.8 803.9,245.0 801.9,245.3 799.9,245.5 797.9,245.8 795.9,246.0 793.9,246.3 792.0,246.5 790.0,246.8 788.0,247.0 786.0,247.3 784.0,247.5 782.0,247.8 780.1,248.1 778.1,248.3 776.1,248.6 774.1,248.9 772.1,249.2 770.2,249.5 768.2,249.7 766.2,250.0 764.2,250.3 762.2,250.6 760.3,250.9 758.3,251.3 756.3,251.6 754.3,251.9 752.4,252.2 750.4,252.6 748.4,252.9 746.5,253.2 744.5,253.6 742.5,253.9 740.5,254.3 738.6,254.6 736.6,254.9 734.6,255.2 732.7,255.6 730.7,255.9 728.7,256.2 726.7,256.5 724.8,256.8 722.8,257.1 720.8,257.4 718.8,257.8 716.9,258.1 714.9,258.4 712.9,258.7 710.9,259.1 709.0,259.4 707.0,259.8 705.0,260.2 703.1,260.6 701.1,261.0 699.2,261.4 697.2,261.8 695.2,262.2 693.3,262.6 691.3,263.0 689.4,263.4 687.4,263.8 685.4,264.2 683.5,264.6 681.5,264.9 679.5,265.3 677.6,265.6 675.6,265.9 673.6,266.2 671.6,266.5 669.7,266.7 667.7,267.0 665.7,267.3 663.7,267.5 661.7,267.8 659.7,268.1 657.8,268.4 655.8,268.6 653.8,268.9 651.8,269.2 649.8,269.5 647.9,269.8 645.9,270.1 643.9,270.4 641.9,270.7 640.0,271.1 638.0,271.4 636.0,271.8 634.1,272.1 632.1,272.5 630.1,272.9 628.2,273.3 626.2,273.6 624.2,274.0 622.3,274.4 620.3,274.8 618.4,275.2 616.4,275.5 614.4,275.9 612.4,276.2 610.5,276.6 608.5,277.0 606.6,277.3 604.6,277.7 602.6,278.1 600.7,278.6 598.7,279.0 596.8,279.5 594.8,280.0 592.9,280.4 591.0,281.0 589.0,281.5 587.1,282.0 585.2,282.5 583.3,283.1 581.3,283.6 579.4,284.1 577.5,284.7 575.5,285.2 573.6,285.8 571.7,286.3 569.8,286.9 567.9,287.5 565.9,288.0 564.0,288.6 562.1,289.2 560.2,289.7 558.3,290.3 556.3,290.8 554.4,291.4 552.5,291.9 550.6,292.5" fill="none" stroke="#0b0b80" stroke-width="4.4" stroke-linejoin="round" stroke-linecap="round"/>
</g>
<text x="96.2" y="29.6" font-family='"Liberation Sans", sans-serif' font-size="12.5" fill="#111" text-anchor="start" >0.62 emu/g</text>
<line x1="165" y1="36.1" x2="190.0" y2="50.1" stroke="#111" stroke-width="0.9"/>
<polygon points="192.6,51.6 187.6,51.2 189.7,47.5" fill="#111"/>
<text x="79.6" y="65.0" font-family='"Liberation Serif", serif' font-size="12.6" fill="#111" text-anchor="start" font-weight="bold">BFCT-0.2</text>
<text x="252.2" y="139.9" font-family='"Liberation Sans", sans-serif' font-size="12.5" fill="#111" text-anchor="start" >5200 Oe</text>
<line x1="257.4" y1="123.5" x2="242.1" y2="110.5" stroke="#111" stroke-width="0.9"/>
<polygon points="239.8,108.6 244.6,109.9 241.9,113.2" fill="#111"/>
<text x="244.3" y="172.9" font-family='"Liberation Serif", serif' font-size="12.3" font-weight="bold" fill="#111"><tspan font-style="italic">T</tspan><tspan dx="5">= 100 K</tspan></text>
<line x1="234" y1="188" x2="258.6" y2="188" stroke="#111" stroke-width="1.3" />
<circle cx="246.6" cy="188" r="2.6" fill="#111"/><circle cx="246.0" cy="187.4" r="0.9" fill="#bbb"/>
<text x="261.6" y="191.6" font-family='"Liberation Serif", serif' font-size="12.5" font-weight="bold" font-style="italic" fill="#111">H</text>
<text x="270.8" y="195.6" font-family='"Liberation Serif", serif' font-size="7.0" font-weight="bold" fill="#111">cool</text>
<text x="288.2" y="191.1" font-family='"Liberation Serif", serif' font-size="11.6" font-weight="bold" fill="#111">~</text>
<text x="300.0" y="191.6" font-family='"Liberation Serif", serif' font-size="11.6" font-weight="bold" fill="#111">0 Oe</text>
<text x="482.2" y="32.2" font-family='"Liberation Serif", serif' font-size="11.8" fill="#2f922f" text-anchor="start" >0.76 emu/g</text>
<line x1="533.8" y1="39.5" x2="542.0" y2="42.6" stroke="#2f922f" stroke-width="0.9"/>
<polygon points="544.5,43.6 540.0,43.9 541.4,40.3" fill="#2f922f"/>
<text x="448.4" y="88.8" font-family='"Liberation Serif", serif' font-size="11.8" fill="#2f922f" text-anchor="start" >-6500 Oe</text>
<line x1="479.5" y1="92.8" x2="489.9" y2="101.7" stroke="#2f922f" stroke-width="0.9"/>
<polygon points="492,103.5 487.7,102.3 490.2,99.4" fill="#2f922f"/>
<text x="548.2" y="81.3" font-family='"Liberation Serif", serif' font-size="11.8" fill="#8c1c1c" text-anchor="start" >0.60 emu/g</text>
<line x1="560.4" y1="69.3" x2="550.2" y2="64.5" stroke="#8c1c1c" stroke-width="0.9"/>
<polygon points="547.8,63.3 552.3,63.3 550.6,66.8" fill="#8c1c1c"/>
<text x="548.6" y="92.6" font-family='"Liberation Serif", serif' font-size="11.8" fill="#2f922f" text-anchor="start" >5005 Oe</text>
<line x1="578.8" y1="96.9" x2="583.3" y2="101.6" stroke="#2f922f" stroke-width="0.9"/>
<polygon points="585.2,103.6 581.0,102.0 583.8,99.3" fill="#2f922f"/>
<text x="498.9" y="131.6" font-family='"Liberation Serif", serif' font-size="11.8" fill="#8c1c1c" text-anchor="start" >-5005 Oe</text>
<line x1="516.3" y1="118.4" x2="511.6" y2="112.9" stroke="#8c1c1c" stroke-width="0.9"/>
<polygon points="509.8,110.8 513.9,112.6 511.0,115.1" fill="#8c1c1c"/>
<text x="488.5" y="144.4" font-family='"Liberation Serif", serif' font-size="11.8" fill="#2f922f" text-anchor="start" >-0.60 emu/g</text>
<line x1="534.7" y1="146" x2="541.7" y2="149.2" stroke="#2f922f" stroke-width="0.9"/>
<polygon points="544.2,150.3 539.7,150.4 541.3,146.9" fill="#2f922f"/>
<text x="488.5" y="192.4" font-family='"Liberation Serif", serif' font-size="11.8" fill="#8c1c1c" text-anchor="start" >-0.76 emu/g</text>
<line x1="536.7" y1="179.7" x2="541.5" y2="172.5" stroke="#8c1c1c" stroke-width="0.9"/>
<polygon points="543,170.2 542.4,174.7 539.1,172.5" fill="#8c1c1c"/>
<text x="603.4" y="127.4" font-family='"Liberation Serif", serif' font-size="11.8" fill="#8c1c1c" text-anchor="start" >6500 Oe</text>
<line x1="603.4" y1="115.3" x2="600.0" y2="110.6" stroke="#8c1c1c" stroke-width="0.9"/>
<polygon points="598.4,108.4 602.3,110.6 599.2,112.8" fill="#8c1c1c"/>
<line x1="571.1" y1="165.2" x2="594.8" y2="165.2" stroke="#8c1c1c" stroke-width="1.3" />
<circle cx="582.5" cy="165.2" r="2.1" fill="#8c1c1c"/><circle cx="582.1" cy="164.8" r="0.8" fill="#f0a0a0"/>
<text x="599.2" y="169.9" font-family='"Liberation Serif", serif' font-size="12.5" font-weight="bold" font-style="italic" fill="#8c1c1c">H</text>
<text x="608.4000000000001" y="173.9" font-family='"Liberation Serif", serif' font-size="7.0" font-weight="bold" fill="#8c1c1c">cool</text>
<text x="621.0" y="169.4" font-family='"Liberation Serif", serif' font-size="11.4" font-weight="bold" fill="#8c1c1c">~</text>
<text x="630.7" y="169.9" font-family='"Liberation Serif", serif' font-size="11.4" font-weight="bold" fill="#8c1c1c">-50 kOe</text>
<line x1="571.1" y1="183.0" x2="594.8" y2="183.0" stroke="#2f922f" stroke-width="1.3" />
<circle cx="582.5" cy="183.0" r="2.1" fill="#2f922f"/><circle cx="582.1" cy="182.6" r="0.8" fill="#a0e0a0"/>
<text x="599.2" y="187.6" font-family='"Liberation Serif", serif' font-size="12.5" font-weight="bold" font-style="italic" fill="#2f922f">H</text>
<text x="608.4000000000001" y="191.6" font-family='"Liberation Serif", serif' font-size="7.0" font-weight="bold" fill="#2f922f">cool</text>
<text x="621.0" y="187.1" font-family='"Liberation Serif", serif' font-size="11.4" font-weight="bold" fill="#2f922f">~</text>
<text x="630.7" y="187.6" font-family='"Liberation Serif", serif' font-size="11.4" font-weight="bold" fill="#2f922f">+50 kOe</text>
<text x="88.4" y="290.0" font-family='"Liberation Serif", serif' font-size="13.4" fill="#111" text-anchor="start" >BFCT-0.2</text>
<text x="151.8" y="342.6" font-family='"Liberation Serif", serif' font-size="10.2" fill="#1c1c7c" text-anchor="start" >5 kOe</text>
<text x="136.2" y="390.5" font-family='"Liberation Serif", serif' font-size="9.9" fill="#2a8a2a" text-anchor="start" >10 kOe</text>
<text x="127.4" y="412.4" font-family='"Liberation Serif", serif' font-size="9.9" fill="#e020e0" text-anchor="start" >15 kOe</text>
<text x="116.9" y="423.8" font-family='"Liberation Serif", serif' font-size="9.9" fill="#2a2ad8" text-anchor="start" >20 kOe</text>
<text x="91.5" y="433.4" font-family='"Liberation Serif", serif' font-size="9.9" fill="#d82a2a" text-anchor="start" >30 kOe</text>
<text x="65.3" y="442.2" font-family='"Liberation Serif", serif' font-size="9.9" fill="#222" text-anchor="start" >40 kOe</text>
<text x="241.4" y="407.6" font-family='"Liberation Serif", serif' font-size="13.6" font-style="italic" fill="#111">H</text>
<text x="250.6" y="411.8" font-family='"Liberation Serif", serif' font-size="8.2" fill="#111">cool</text>
<text x="266.6" y="407.6" font-family='"Liberation Serif", serif' font-size="13.3" fill="#111">= 40 kOe</text>
<text x="254.4" y="434.3" font-family='"Liberation Serif", serif' font-size="13.6" fill="#111"><tspan font-style="italic">T</tspan>= 100 K</text>
<line x1="421.1" y1="265.2" x2="443.6" y2="265.2" stroke="#000000" stroke-width="1.2" />
<rect x="430.09999999999997" y="262.9" width="4.6" height="4.6" fill="#000000"/>
<text x="449.6" y="269.1" font-family='"Liberation Serif", serif' font-size="11.1" fill="#111" text-anchor="start" >40&#160;kOe</text>
<line x1="421.1" y1="279.26" x2="443.6" y2="279.26" stroke="#ee1111" stroke-width="1.2" />
<rect x="430.09999999999997" y="277.0" width="4.6" height="4.6" fill="#ee1111"/>
<text x="449.6" y="283.2" font-family='"Liberation Serif", serif' font-size="11.1" fill="#111" text-anchor="start" >30&#160;kOe</text>
<line x1="421.1" y1="293.32" x2="443.6" y2="293.32" stroke="#1515ee" stroke-width="1.2" />
<rect x="430.09999999999997" y="291.0" width="4.6" height="4.6" fill="#1515ee"/>
<text x="449.6" y="297.2" font-family='"Liberation Serif", serif' font-size="11.1" fill="#111" text-anchor="start" >20&#160;kOe</text>
<line x1="421.1" y1="307.38" x2="443.6" y2="307.38" stroke="#ee11ee" stroke-width="1.2" />
<rect x="430.09999999999997" y="305.1" width="4.6" height="4.6" fill="#ee11ee"/>
<text x="449.6" y="311.3" font-family='"Liberation Serif", serif' font-size="11.1" fill="#111" text-anchor="start" >15&#160;kOe</text>
<line x1="421.1" y1="321.44" x2="443.6" y2="321.44" stroke="#118811" stroke-width="1.2" />
<rect x="430.09999999999997" y="319.1" width="4.6" height="4.6" fill="#118811"/>
<text x="449.6" y="325.3" font-family='"Liberation Serif", serif' font-size="11.1" fill="#111" text-anchor="start" >10&#160;kOe</text>
<line x1="421.1" y1="335.5" x2="443.6" y2="335.5" stroke="#0b0b80" stroke-width="1.2" />
<rect x="430.09999999999997" y="333.2" width="4.6" height="4.6" fill="#0b0b80"/>
<text x="449.6" y="339.4" font-family='"Liberation Serif", serif' font-size="11.1" fill="#111" text-anchor="start" >&#160;5&#160;&#160;kOe</text>
<text x="432.7" y="381.5" font-family='"Liberation Serif", serif' font-size="12" fill="#111" text-anchor="start" >6620 Oe</text>
<line x1="468.4" y1="368.1" x2="489.3" y2="359.9" stroke="#111" stroke-width="0.8" stroke-dasharray="2,1.5"/>
<polygon points="491.5,359.0 488.8,361.9 487.5,358.7" fill="#111"/>
<text x="631.5" y="325.3" font-family='"Liberation Serif", serif' font-size="12" fill="#2a8a2a" text-anchor="start" >2379 Oe</text>
<line x1="629.6" y1="325.5" x2="566.9" y2="354.3" stroke="#2a8a2a" stroke-width="0.8" stroke-dasharray="2,1.5"/>
<polygon points="565.0,355.2 567.3,352.5 568.5,355.2" fill="#2a8a2a"/>
<text x="636.6" y="379.2" font-family='"Liberation Serif", serif' font-size="12" fill="#111" text-anchor="start" >6620 Oe</text>
<line x1="635.4" y1="371" x2="600.8" y2="358.6" stroke="#111" stroke-width="0.9" stroke-dasharray="1.5,1.5"/>
<text x="624.7" y="397.0" font-family='"Liberation Serif", serif' font-size="12" fill="#e02020" text-anchor="start" >6484 Oe</text>
<line x1="628.2" y1="385.3" x2="598.4" y2="360.3" stroke="#e02020" stroke-width="0.9" stroke-dasharray="1.5,1.5"/>
<text x="612.7" y="416.1" font-family='"Liberation Serif", serif' font-size="12" fill="#2020e0" text-anchor="start" >5959 Oe</text>
<line x1="613.9" y1="404.4" x2="594.9" y2="361.5" stroke="#2020e0" stroke-width="0.9" stroke-dasharray="1.5,1.5"/>
<text x="584.1" y="428.0" font-family='"Liberation Serif", serif' font-size="12" fill="#e020e0" text-anchor="start" >5093 Oe</text>
<line x1="596" y1="417.5" x2="586.5" y2="368.6" stroke="#e020e0" stroke-width="0.9" stroke-dasharray="1.5,1.5"/>
</svg>
</body></html>
